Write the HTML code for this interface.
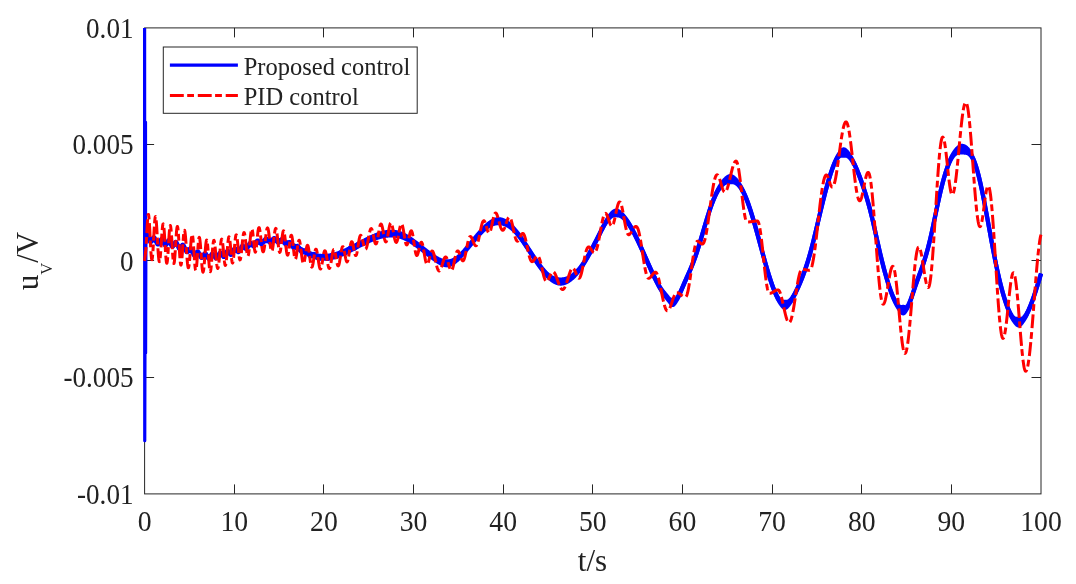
<!DOCTYPE html>
<html><head><meta charset="utf-8"><style>
html,body{margin:0;padding:0;background:#fff;width:1076px;height:584px;overflow:hidden}
svg{display:block;will-change:transform}
text{font-family:"Liberation Serif",serif;fill:#222}
.t{will-change:transform}
</style></head><body>
<svg width="1076" height="584" viewBox="0 0 1076 584">
<defs><clipPath id="c"><rect x="141.6" y="27.9" width="902.40" height="466.00"/></clipPath></defs>
<rect width="1076" height="584" fill="#fff"/>
<rect x="144.6" y="27.9" width="896.40" height="466.00" fill="none" stroke="#262626" stroke-width="1"/><line x1="234.50" y1="493.9" x2="234.50" y2="484.4" stroke="#262626" stroke-width="1"/><line x1="234.50" y1="27.9" x2="234.50" y2="37.4" stroke="#262626" stroke-width="1"/><line x1="323.50" y1="493.9" x2="323.50" y2="484.4" stroke="#262626" stroke-width="1"/><line x1="323.50" y1="27.9" x2="323.50" y2="37.4" stroke="#262626" stroke-width="1"/><line x1="413.50" y1="493.9" x2="413.50" y2="484.4" stroke="#262626" stroke-width="1"/><line x1="413.50" y1="27.9" x2="413.50" y2="37.4" stroke="#262626" stroke-width="1"/><line x1="503.50" y1="493.9" x2="503.50" y2="484.4" stroke="#262626" stroke-width="1"/><line x1="503.50" y1="27.9" x2="503.50" y2="37.4" stroke="#262626" stroke-width="1"/><line x1="592.50" y1="493.9" x2="592.50" y2="484.4" stroke="#262626" stroke-width="1"/><line x1="592.50" y1="27.9" x2="592.50" y2="37.4" stroke="#262626" stroke-width="1"/><line x1="682.50" y1="493.9" x2="682.50" y2="484.4" stroke="#262626" stroke-width="1"/><line x1="682.50" y1="27.9" x2="682.50" y2="37.4" stroke="#262626" stroke-width="1"/><line x1="772.50" y1="493.9" x2="772.50" y2="484.4" stroke="#262626" stroke-width="1"/><line x1="772.50" y1="27.9" x2="772.50" y2="37.4" stroke="#262626" stroke-width="1"/><line x1="861.50" y1="493.9" x2="861.50" y2="484.4" stroke="#262626" stroke-width="1"/><line x1="861.50" y1="27.9" x2="861.50" y2="37.4" stroke="#262626" stroke-width="1"/><line x1="951.50" y1="493.9" x2="951.50" y2="484.4" stroke="#262626" stroke-width="1"/><line x1="951.50" y1="27.9" x2="951.50" y2="37.4" stroke="#262626" stroke-width="1"/><line x1="144.6" y1="144.50" x2="154.1" y2="144.50" stroke="#262626" stroke-width="1"/><line x1="1041.0" y1="144.50" x2="1031.5" y2="144.50" stroke="#262626" stroke-width="1"/><line x1="144.6" y1="260.50" x2="154.1" y2="260.50" stroke="#262626" stroke-width="1"/><line x1="1041.0" y1="260.50" x2="1031.5" y2="260.50" stroke="#262626" stroke-width="1"/><line x1="144.6" y1="377.50" x2="154.1" y2="377.50" stroke="#262626" stroke-width="1"/><line x1="1041.0" y1="377.50" x2="1031.5" y2="377.50" stroke="#262626" stroke-width="1"/>
<g clip-path="url(#c)" fill="none" stroke-linejoin="round">
<path d="M144.60 250.00 L144.60 20.00 L144.75 440.70 L145.50 122.00 L145.60 353.00 L145.90 237.00" stroke="#0000ff" stroke-width="3.2"/>
<path d="M146.00 234.59L146.25 234.27L146.50 234.09L146.75 234.06L147.00 234.19L147.25 234.49L147.50 234.94L147.75 235.53L148.00 236.23L148.25 237.01L148.50 237.84L148.75 238.68L149.00 239.50L149.25 240.26L149.50 240.93L149.75 241.48L150.00 241.90L150.25 242.17L150.50 242.28L150.75 242.23L151.00 242.04L151.25 241.72L151.50 241.29L151.75 240.78L152.00 240.21L152.25 239.62L152.50 239.05L152.75 238.51L153.00 238.05L153.25 237.68L153.50 237.43L153.75 237.30L154.00 237.31L154.25 237.46L154.50 237.73L154.75 238.13L155.00 238.63L155.25 239.22L155.50 239.86L155.75 240.54L156.00 241.23L156.25 241.91L156.50 242.54L156.75 243.11L157.00 243.60L157.25 243.99L157.50 244.27L157.75 244.43L158.00 244.47L158.25 244.38L158.50 244.18L158.75 243.87L159.00 243.47L159.25 242.99L159.50 242.46L159.75 241.89L160.00 241.32L160.25 240.76L160.50 240.24L160.75 239.80L161.00 239.44L161.25 239.18L161.50 239.05L161.75 239.05L162.00 239.19L162.25 239.46L162.50 239.85L162.75 240.36L163.00 240.95L163.25 241.61L163.50 242.30L163.75 242.99L164.00 243.66L164.25 244.26L164.50 244.78L164.75 245.18L165.00 245.46L165.25 245.58L165.50 245.56L165.75 245.40L166.00 245.09L166.25 244.67L166.50 244.15L166.75 243.56L167.00 242.94L167.25 242.31L167.50 241.72L167.75 241.18L168.00 240.74L168.25 240.41L168.50 240.20L168.75 240.15L169.00 240.23L169.25 240.46L169.50 240.83L169.75 241.31L170.00 241.89L170.25 242.53L170.50 243.22L170.75 243.92L171.00 244.60L171.25 245.22L171.50 245.77L171.75 246.21L172.00 246.53L172.25 246.71L172.50 246.75L172.75 246.65L173.00 246.41L173.25 246.06L173.50 245.61L173.75 245.09L174.00 244.53L174.25 243.95L174.50 243.39L174.75 242.88L175.00 242.45L175.25 242.12L175.50 241.91L175.75 241.83L176.00 241.90L176.25 242.11L176.50 242.46L176.75 242.93L177.00 243.51L177.25 244.17L177.50 244.89L177.75 245.63L178.00 246.35L178.25 247.04L178.50 247.65L178.75 248.16L179.00 248.56L179.25 248.82L179.50 248.94L179.75 248.92L180.00 248.77L180.25 248.49L180.50 248.12L180.75 247.66L181.00 247.16L181.25 246.64L181.50 246.13L181.75 245.66L182.00 245.26L182.25 244.95L182.50 244.75L182.75 244.68L183.00 244.73L183.25 244.91L183.50 245.21L183.75 245.62L184.00 246.13L184.25 246.72L184.50 247.37L184.75 248.05L185.00 248.75L185.25 249.43L185.50 250.07L185.75 250.66L186.00 251.18L186.25 251.60L186.50 251.93L186.75 252.15L187.00 252.26L187.25 252.25L187.50 252.14L187.75 251.93L188.00 251.63L188.25 251.27L188.50 250.85L188.75 250.41L189.00 249.96L189.25 249.52L189.50 249.13L189.75 248.79L190.00 248.54L190.25 248.39L190.50 248.34L190.75 248.42L191.00 248.63L191.25 248.96L191.50 249.40L191.75 249.95L192.00 250.58L192.25 251.27L192.50 251.99L192.75 252.71L193.00 253.41L193.25 254.04L193.50 254.59L193.75 255.04L194.00 255.36L194.25 255.54L194.50 255.58L194.75 255.48L195.00 255.26L195.25 254.93L195.50 254.51L195.75 254.03L196.00 253.51L196.25 252.99L196.50 252.51L196.75 252.08L197.00 251.73L197.25 251.49L197.50 251.36L197.75 251.36L198.00 251.48L198.25 251.73L198.50 252.09L198.75 252.56L199.00 253.11L199.25 253.71L199.50 254.35L199.75 255.01L200.00 255.64L200.25 256.24L200.50 256.77L200.75 257.22L201.00 257.57L201.25 257.80L201.50 257.92L201.75 257.91L202.00 257.79L202.25 257.55L202.50 257.21L202.75 256.80L203.00 256.32L203.25 255.81L203.50 255.28L203.75 254.76L204.00 254.29L204.25 253.87L204.50 253.53L204.75 253.30L205.00 253.18L205.25 253.17L205.50 253.29L205.75 253.53L206.00 253.89L206.25 254.34L206.50 254.86L206.75 255.45L207.00 256.05L207.25 256.66L207.50 257.24L207.75 257.76L208.00 258.20L208.25 258.53L208.50 258.75L208.75 258.84L209.00 258.80L209.25 258.62L209.50 258.33L209.75 257.93L210.00 257.45L210.25 256.91L210.50 256.34L210.75 255.76L211.00 255.20L211.25 254.69L211.50 254.25L211.75 253.90L212.00 253.65L212.25 253.52L212.50 253.49L212.75 253.59L213.00 253.78L213.25 254.08L213.50 254.45L213.75 254.89L214.00 255.37L214.25 255.88L214.50 256.39L214.75 256.87L215.00 257.32L215.25 257.71L215.50 258.03L215.75 258.27L216.00 258.40L216.25 258.44L216.50 258.37L216.75 258.21L217.00 257.94L217.25 257.59L217.50 257.16L217.75 256.66L218.00 256.13L218.25 255.57L218.50 255.01L218.75 254.46L219.00 253.95L219.25 253.50L219.50 253.12L219.75 252.83L220.00 252.64L220.25 252.56L220.50 252.59L220.75 252.73L221.00 252.98L221.25 253.31L221.50 253.72L221.75 254.17L222.00 254.66L222.25 255.16L222.50 255.64L222.75 256.07L223.00 256.44L223.25 256.72L223.50 256.89L223.75 256.95L224.00 256.89L224.25 256.72L224.50 256.42L224.75 256.02L225.00 255.53L225.25 254.97L225.50 254.36L225.75 253.74L226.00 253.12L226.25 252.53L226.50 252.00L226.75 251.55L227.00 251.19L227.25 250.94L227.50 250.81L227.75 250.80L228.00 250.90L228.25 251.12L228.50 251.43L228.75 251.82L229.00 252.26L229.25 252.74L229.50 253.22L229.75 253.68L230.00 254.09L230.25 254.42L230.50 254.66L230.75 254.79L231.00 254.81L231.25 254.70L231.50 254.46L231.75 254.12L232.00 253.67L232.25 253.14L232.50 252.56L232.75 251.93L233.00 251.30L233.25 250.68L233.50 250.11L233.75 249.60L234.00 249.17L234.25 248.83L234.50 248.60L234.75 248.48L235.00 248.47L235.25 248.56L235.50 248.75L235.75 249.02L236.00 249.35L236.25 249.74L236.50 250.14L236.75 250.56L237.00 250.96L237.25 251.33L237.50 251.64L237.75 251.89L238.00 252.05L238.25 252.13L238.50 252.10L238.75 251.98L239.00 251.77L239.25 251.46L239.50 251.06L239.75 250.60L240.00 250.08L240.25 249.52L240.50 248.94L240.75 248.36L241.00 247.79L241.25 247.26L241.50 246.78L241.75 246.37L242.00 246.04L242.25 245.80L242.50 245.66L242.75 245.62L243.00 245.67L243.25 245.81L243.50 246.03L243.75 246.32L244.00 246.66L244.25 247.04L244.50 247.43L244.75 247.81L245.00 248.17L245.25 248.50L245.50 248.76L245.75 248.96L246.00 249.08L246.25 249.10L246.50 249.03L246.75 248.86L247.00 248.60L247.25 248.26L247.50 247.83L247.75 247.34L248.00 246.81L248.25 246.24L248.50 245.66L248.75 245.08L249.00 244.54L249.25 244.04L249.50 243.61L249.75 243.26L250.00 242.99L250.25 242.83L250.50 242.78L250.75 242.83L251.00 242.98L251.25 243.23L251.50 243.56L251.75 243.95L252.00 244.38L252.25 244.82L252.50 245.25L252.75 245.64L253.00 245.97L253.25 246.21L253.50 246.35L253.75 246.38L254.00 246.29L254.25 246.08L254.50 245.77L254.75 245.35L255.00 244.86L255.25 244.31L255.50 243.72L255.75 243.13L256.00 242.56L256.25 242.03L256.50 241.55L256.75 241.15L257.00 240.84L257.25 240.62L257.50 240.51L257.75 240.48L258.00 240.55L258.25 240.69L258.50 240.91L258.75 241.19L259.00 241.52L259.25 241.87L259.50 242.24L259.75 242.60L260.00 242.95L260.25 243.28L260.50 243.56L260.75 243.78L261.00 243.95L261.25 244.05L261.50 244.08L261.75 244.03L262.00 243.91L262.25 243.72L262.50 243.46L262.75 243.14L263.00 242.77L263.25 242.36L263.50 241.92L263.75 241.46L264.00 241.00L264.25 240.55L264.50 240.11L264.75 239.72L265.00 239.36L265.25 239.07L265.50 238.84L265.75 238.68L266.00 238.61L266.25 238.61L266.50 238.69L266.75 238.84L267.00 239.07L267.25 239.35L267.50 239.68L267.75 240.04L268.00 240.43L268.25 240.82L268.50 241.21L268.75 241.57L269.00 241.90L269.25 242.17L269.50 242.39L269.75 242.55L270.00 242.63L270.25 242.63L270.50 242.55L270.75 242.40L271.00 242.18L271.25 241.89L271.50 241.55L271.75 241.16L272.00 240.75L272.25 240.32L272.50 239.89L272.75 239.47L273.00 239.09L273.25 238.75L273.50 238.47L273.75 238.26L274.00 238.13L274.25 238.08L274.50 238.11L274.75 238.23L275.00 238.44L275.25 238.71L275.50 239.05L275.75 239.45L276.00 239.88L276.25 240.34L276.50 240.80L276.75 241.24L277.00 241.66L277.25 242.03L277.50 242.34L277.75 242.57L278.00 242.73L278.25 242.80L278.50 242.78L278.75 242.67L279.00 242.49L279.25 242.23L279.50 241.92L279.75 241.57L280.00 241.18L280.25 240.79L280.50 240.41L280.75 240.05L281.00 239.74L281.25 239.49L281.50 239.31L281.75 239.21L282.00 239.19L282.25 239.27L282.50 239.43L282.75 239.68L283.00 240.00L283.25 240.39L283.50 240.84L283.75 241.32L284.00 241.82L284.25 242.33L284.50 242.83L284.75 243.29L285.00 243.71L285.25 244.07L285.50 244.37L285.75 244.58L286.00 244.71L286.25 244.76L286.50 244.73L286.75 244.61L287.00 244.43L287.25 244.20L287.50 243.91L287.75 243.60L288.00 243.28L288.25 242.97L288.50 242.67L288.75 242.42L289.00 242.22L289.25 242.08L289.50 242.02L289.75 242.04L290.00 242.14L290.25 242.33L290.50 242.61L290.75 242.96L291.00 243.37L291.25 243.85L291.50 244.36L291.75 244.89L292.00 245.44L292.25 245.97L292.50 246.47L292.75 246.93L293.00 247.33L293.25 247.66L293.50 247.91L293.75 248.08L294.00 248.17L294.25 248.17L294.50 248.10L294.75 247.96L295.00 247.76L295.25 247.52L295.50 247.25L295.75 246.97L296.00 246.70L296.25 246.44L296.50 246.23L296.75 246.06L297.00 245.95L297.25 245.91L297.50 245.94L297.75 246.05L298.00 246.24L298.25 246.50L298.50 246.83L298.75 247.21L299.00 247.65L299.25 248.12L299.50 248.62L299.75 249.13L300.00 249.64L300.25 250.14L300.50 250.61L300.75 251.03L301.00 251.42L301.25 251.74L301.50 252.00L301.75 252.19L302.00 252.32L302.25 252.37L302.50 252.37L302.75 252.30L303.00 252.17L303.25 252.00L303.50 251.80L303.75 251.57L304.00 251.34L304.25 251.10L304.50 250.87L304.75 250.67L305.00 250.51L305.25 250.39L305.50 250.33L305.75 250.33L306.00 250.39L306.25 250.52L306.50 250.72L306.75 250.98L307.00 251.30L307.25 251.68L307.50 252.10L307.75 252.55L308.00 253.03L308.25 253.51L308.50 253.98L308.75 254.44L309.00 254.87L309.25 255.26L309.50 255.60L309.75 255.87L310.00 256.09L310.25 256.23L310.50 256.30L310.75 256.31L311.00 256.25L311.25 256.13L311.50 255.96L311.75 255.75L312.00 255.51L312.25 255.25L312.50 254.99L312.75 254.73L313.00 254.49L313.25 254.28L313.50 254.11L313.75 253.99L314.00 253.92L314.25 253.91L314.50 253.96L314.75 254.07L315.00 254.24L315.25 254.46L315.50 254.74L315.75 255.06L316.00 255.41L316.25 255.79L316.50 256.18L316.75 256.58L317.00 256.97L317.25 257.34L317.50 257.69L317.75 258.01L318.00 258.28L318.25 258.50L318.50 258.67L318.75 258.78L319.00 258.83L319.25 258.82L319.50 258.76L319.75 258.64L320.00 258.47L320.25 258.26L320.50 258.01L320.75 257.74L321.00 257.44L321.25 257.14L321.50 256.85L321.75 256.56L322.00 256.30L322.25 256.06L322.50 255.86L322.75 255.71L323.00 255.60L323.25 255.55L323.50 255.55L323.75 255.61L324.00 255.71L324.25 255.87L324.50 256.08L324.75 256.32L325.00 256.59L325.25 256.88L325.50 257.18L325.75 257.49L326.00 257.79L326.25 258.07L326.50 258.33L326.75 258.55L327.00 258.73L327.25 258.86L327.50 258.93L327.75 258.95L328.00 258.92L328.25 258.82L328.50 258.67L328.75 258.47L329.00 258.23L329.25 257.94L329.50 257.63L329.75 257.29L330.00 256.93L330.25 256.58L330.50 256.23L330.75 255.89L331.00 255.58L331.25 255.30L331.50 255.06L331.75 254.87L332.00 254.72L332.25 254.63L332.50 254.59L332.75 254.60L333.00 254.66L333.25 254.77L333.50 254.92L333.75 255.10L334.00 255.31L334.25 255.54L334.50 255.78L334.75 256.01L335.00 256.23L335.25 256.44L335.50 256.61L335.75 256.75L336.00 256.85L336.25 256.90L336.50 256.90L336.75 256.84L337.00 256.73L337.25 256.56L337.50 256.35L337.75 256.08L338.00 255.78L338.25 255.44L338.50 255.08L338.75 254.70L339.00 254.31L339.25 253.91L339.50 253.53L339.75 253.17L340.00 252.84L340.25 252.54L340.50 252.28L340.75 252.06L341.00 251.90L341.25 251.78L341.50 251.72L341.75 251.71L342.00 251.74L342.25 251.81L342.50 251.93L342.75 252.07L343.00 252.23L343.25 252.41L343.50 252.60L343.75 252.78L344.00 252.94L344.25 253.08L344.50 253.20L344.75 253.28L345.00 253.31L345.25 253.30L345.50 253.24L345.75 253.12L346.00 252.96L346.25 252.74L346.50 252.48L346.75 252.18L347.00 251.84L347.25 251.47L347.50 251.08L347.75 250.68L348.00 250.27L348.25 249.87L348.50 249.48L348.75 249.11L349.00 248.77L349.25 248.47L349.50 248.21L349.75 247.99L350.00 247.82L350.25 247.70L350.50 247.63L350.75 247.61L351.00 247.63L351.25 247.70L351.50 247.80L351.75 247.92L352.00 248.06L352.25 248.22L352.50 248.37L352.75 248.52L353.00 248.65L353.25 248.75L353.50 248.82L353.75 248.84L354.00 248.83L354.25 248.76L354.50 248.64L354.75 248.48L355.00 248.26L355.25 248.00L355.50 247.70L355.75 247.36L356.00 247.00L356.25 246.61L356.50 246.21L356.75 245.81L357.00 245.42L357.25 245.04L357.50 244.67L357.75 244.34L358.00 244.03L358.25 243.76L358.50 243.53L358.75 243.34L359.00 243.19L359.25 243.08L359.50 243.01L359.75 242.97L360.00 242.97L360.25 242.99L360.50 243.04L360.75 243.10L361.00 243.19L361.25 243.27L361.50 243.37L361.75 243.46L362.00 243.54L362.25 243.62L362.50 243.68L362.75 243.72L363.00 243.74L363.25 243.73L363.50 243.69L363.75 243.63L364.00 243.53L364.25 243.41L364.50 243.26L364.75 243.07L365.00 242.86L365.25 242.62L365.50 242.36L365.75 242.08L366.00 241.78L366.25 241.46L366.50 241.14L366.75 240.81L367.00 240.48L367.25 240.15L367.50 239.83L367.75 239.52L368.00 239.23L368.25 238.96L368.50 238.71L368.75 238.48L369.00 238.29L369.25 238.13L369.50 238.00L369.75 237.90L370.00 237.84L370.25 237.81L370.50 237.81L370.75 237.84L371.00 237.89L371.25 237.96L371.50 238.05L371.75 238.15L372.00 238.26L372.25 238.37L372.50 238.47L372.75 238.56L373.00 238.64L373.25 238.70L373.50 238.73L373.75 238.74L374.00 238.71L374.25 238.66L374.50 238.57L374.75 238.45L375.00 238.30L375.25 238.11L375.50 237.90L375.75 237.66L376.00 237.40L376.25 237.12L376.50 236.83L376.75 236.54L377.00 236.24L377.25 235.95L377.50 235.66L377.75 235.39L378.00 235.14L378.25 234.91L378.50 234.71L378.75 234.53L379.00 234.39L379.25 234.28L379.50 234.20L379.75 234.16L380.00 234.15L380.25 234.17L380.50 234.21L380.75 234.29L381.00 234.38L381.25 234.49L381.50 234.61L381.75 234.74L382.00 234.88L382.25 235.01L382.50 235.14L382.75 235.25L383.00 235.35L383.25 235.43L383.50 235.49L383.75 235.52L384.00 235.52L384.25 235.50L384.50 235.44L384.75 235.36L385.00 235.25L385.25 235.12L385.50 234.96L385.75 234.79L386.00 234.59L386.25 234.39L386.50 234.17L386.75 233.96L387.00 233.74L387.25 233.53L387.50 233.33L387.75 233.14L388.00 232.97L388.25 232.83L388.50 232.70L388.75 232.60L389.00 232.53L389.25 232.49L389.50 232.48L389.75 232.49L390.00 232.54L390.25 232.60L390.50 232.70L390.75 232.81L391.00 232.94L391.25 233.09L391.50 233.25L391.75 233.41L392.00 233.58L392.25 233.76L392.50 233.93L392.75 234.09L393.00 234.25L393.25 234.39L393.50 234.52L393.75 234.63L394.00 234.72L394.25 234.80L394.50 234.85L394.75 234.88L395.00 234.90L395.25 234.89L395.50 234.86L395.75 234.81L396.00 234.75L396.25 234.68L396.50 234.59L396.75 234.49L397.00 234.39L397.25 234.29L397.50 234.19L397.75 234.09L398.00 234.00L398.25 233.93L398.50 233.86L398.75 233.81L399.00 233.79L399.25 233.78L399.50 233.80L399.75 233.84L400.00 233.91L400.25 234.01L400.50 234.13L400.75 234.28L401.00 234.45L401.25 234.64L401.50 234.85L401.75 235.08L402.00 235.32L402.25 235.57L402.50 235.82L402.75 236.08L403.00 236.34L403.25 236.59L403.50 236.83L403.75 237.06L404.00 237.27L404.25 237.47L404.50 237.65L404.75 237.80L405.00 237.94L405.25 238.05L405.50 238.14L405.75 238.21L406.00 238.26L406.25 238.30L406.50 238.32L406.75 238.33L407.00 238.33L407.25 238.32L407.50 238.32L407.75 238.31L408.00 238.32L408.25 238.33L408.50 238.36L408.75 238.40L409.00 238.46L409.25 238.54L409.50 238.65L409.75 238.77L410.00 238.92L410.25 239.09L410.50 239.29L410.75 239.51L411.00 239.74L411.25 240.00L411.50 240.27L411.75 240.56L412.00 240.85L412.25 241.16L412.50 241.47L412.75 241.77L413.00 242.08L413.25 242.37L413.50 242.66L413.75 242.94L414.00 243.20L414.25 243.45L414.50 243.67L414.75 243.88L415.00 244.07L415.25 244.24L415.50 244.39L415.75 244.52L416.00 244.63L416.25 244.73L416.50 244.82L416.75 244.90L417.00 244.97L417.25 245.03L417.50 245.10L417.75 245.16L418.00 245.23L418.25 245.31L418.50 245.40L418.75 245.50L419.00 245.61L419.25 245.74L419.50 245.88L419.75 246.05L420.00 246.23L420.25 246.43L420.50 246.64L420.75 246.88L421.00 247.13L421.25 247.39L421.50 247.67L421.75 247.96L422.00 248.25L422.25 248.56L422.50 248.86L422.75 249.17L423.00 249.48L423.25 249.78L423.50 250.08L423.75 250.37L424.00 250.65L424.25 250.92L424.50 251.18L424.75 251.42L425.00 251.64L425.25 251.85L425.50 252.04L425.75 252.22L426.00 252.39L426.25 252.54L426.50 252.67L426.75 252.80L427.00 252.91L427.25 253.02L427.50 253.12L427.75 253.22L428.00 253.32L428.25 253.41L428.50 253.51L428.75 253.61L429.00 253.72L429.25 253.83L429.50 253.95L429.75 254.08L430.00 254.22L430.25 254.37L430.50 254.53L430.75 254.70L431.00 254.88L431.25 255.07L431.50 255.28L431.75 255.49L432.00 255.71L432.25 255.94L432.50 256.17L432.75 256.41L433.00 256.66L433.25 256.90L433.50 257.15L433.75 257.41L434.00 257.66L434.25 257.90L434.50 258.15L434.75 258.39L435.00 258.63L435.25 258.86L435.50 259.09L435.75 259.31L436.00 259.52L436.25 259.72L436.50 259.92L436.75 260.10L437.00 260.28L437.25 260.44L437.50 260.59L437.75 260.74L438.00 260.87L438.25 261.00L438.50 261.11L438.75 261.22L439.00 261.31L439.25 261.40L439.50 261.48L439.75 261.55L440.00 261.62L440.25 261.68L440.50 261.74L440.75 261.79L441.00 261.83L441.25 261.88L441.50 261.92L441.75 261.96L442.00 262.00L442.25 262.04L442.50 262.09L442.75 262.13L443.00 262.18L443.25 262.23L443.50 262.28L443.75 262.34L444.00 262.40L444.25 262.46L444.50 262.53L444.75 262.60L445.00 262.68L445.25 262.76L445.50 262.84L445.75 262.92L446.00 263.01L446.25 263.09L446.50 263.17L446.75 263.25L447.00 263.33L447.25 263.40L447.50 263.46L447.75 263.51L448.00 263.56L448.25 263.59L448.50 263.61L448.75 263.62L449.00 263.62L449.25 263.60L449.50 263.56L449.75 263.52L450.00 263.45L450.25 263.37L450.50 263.28L450.75 263.17L451.00 263.04L451.25 262.91L451.50 262.76L451.75 262.60L452.00 262.43L452.25 262.25L452.50 262.06L452.75 261.87L453.00 261.67L453.25 261.47L453.50 261.26L453.75 261.06L454.00 260.85L454.25 260.64L454.50 260.44L454.75 260.24L455.00 260.04L455.25 259.85L455.50 259.65L455.75 259.47L456.00 259.28L456.25 259.10L456.50 258.92L456.75 258.75L457.00 258.58L457.25 258.41L457.50 258.24L457.75 258.07L458.00 257.91L458.25 257.74L458.50 257.57L458.75 257.40L459.00 257.22L459.25 257.04L459.50 256.85L459.75 256.66L460.00 256.46L460.25 256.26L460.50 256.04L460.75 255.82L461.00 255.59L461.25 255.35L461.50 255.10L461.75 254.84L462.00 254.57L462.25 254.29L462.50 254.01L462.75 253.71L463.00 253.41L463.25 253.10L463.50 252.79L463.75 252.46L464.00 252.14L464.25 251.81L464.50 251.47L464.75 251.13L465.00 250.79L465.25 250.45L465.50 250.11L465.75 249.78L466.00 249.44L466.25 249.10L466.50 248.77L466.75 248.44L467.00 248.11L467.25 247.79L467.50 247.47L467.75 247.16L468.00 246.85L468.25 246.55L468.50 246.25L468.75 245.96L469.00 245.67L469.25 245.38L469.50 245.10L469.75 244.83L470.00 244.55L470.25 244.28L470.50 244.01L470.75 243.74L471.00 243.47L471.25 243.21L471.50 242.94L471.75 242.67L472.00 242.41L472.25 242.14L472.50 241.87L472.75 241.60L473.00 241.32L473.25 241.04L473.50 240.76L473.75 240.48L474.00 240.19L474.25 239.91L474.50 239.61L474.75 239.32L475.00 239.02L475.25 238.71L475.50 238.41L475.75 238.10L476.00 237.78L476.25 237.47L476.50 237.15L476.75 236.83L477.00 236.51L477.25 236.19L477.50 235.87L477.75 235.55L478.00 235.23L478.25 234.91L478.50 234.59L478.75 234.27L479.00 233.96L479.25 233.64L479.50 233.33L479.75 233.03L480.00 232.73L480.25 232.43L480.50 232.14L480.75 231.86L481.00 231.58L481.25 231.30L481.50 231.03L481.75 230.77L482.00 230.52L482.25 230.27L482.50 230.02L482.75 229.79L483.00 229.56L483.25 229.33L483.50 229.12L483.75 228.90L484.00 228.69L484.25 228.49L484.50 228.29L484.75 228.09L485.00 227.90L485.25 227.71L485.50 227.52L485.75 227.33L486.00 227.14L486.25 226.95L486.50 226.76L486.75 226.58L487.00 226.39L487.25 226.20L487.50 226.01L487.75 225.82L488.00 225.63L488.25 225.43L488.50 225.24L488.75 225.05L489.00 224.85L489.25 224.66L489.50 224.47L489.75 224.28L490.00 224.10L490.25 223.91L490.50 223.73L490.75 223.55L491.00 223.38L491.25 223.21L491.50 223.05L491.75 222.89L492.00 222.74L492.25 222.60L492.50 222.46L492.75 222.33L493.00 222.21L493.25 222.10L493.50 221.99L493.75 221.89L494.00 221.80L494.25 221.71L494.50 221.64L494.75 221.57L495.00 221.51L495.25 221.45L495.50 221.40L495.75 221.36L496.00 221.32L496.25 221.30L496.50 221.27L496.75 221.25L497.00 221.24L497.25 221.23L497.50 221.23L497.75 221.23L498.00 221.23L498.25 221.24L498.50 221.26L498.75 221.27L499.00 221.29L499.25 221.31L499.50 221.34L499.75 221.37L500.00 221.40L500.25 221.43L500.50 221.47L500.75 221.51L501.00 221.55L501.25 221.59L501.50 221.64L501.75 221.69L502.00 221.75L502.25 221.80L502.50 221.86L502.75 221.93L503.00 221.99L503.25 222.06L503.50 222.14L503.75 222.21L504.00 222.30L504.25 222.38L504.50 222.47L504.75 222.57L505.00 222.67L505.25 222.77L505.50 222.88L505.75 223.00L506.00 223.12L506.25 223.24L506.50 223.37L506.75 223.51L507.00 223.65L507.25 223.80L507.50 223.95L507.75 224.11L508.00 224.27L508.25 224.44L508.50 224.62L508.75 224.80L509.00 224.99L509.25 225.18L509.50 225.38L509.75 225.58L510.00 225.79L510.25 226.00L510.50 226.22L510.75 226.44L511.00 226.66L511.25 226.89L511.50 227.13L511.75 227.37L512.00 227.61L512.25 227.85L512.50 228.10L512.75 228.35L513.00 228.61L513.25 228.87L513.50 229.13L513.75 229.39L514.00 229.66L514.25 229.93L514.50 230.20L514.75 230.48L515.00 230.75L515.25 231.03L515.50 231.31L515.75 231.60L516.00 231.88L516.25 232.17L516.50 232.46L516.75 232.76L517.00 233.05L517.25 233.35L517.50 233.65L517.75 233.96L518.00 234.26L518.25 234.57L518.50 234.88L518.75 235.20L519.00 235.52L519.25 235.84L519.50 236.16L519.75 236.49L520.00 236.82L520.25 237.15L520.50 237.48L520.75 237.82L521.00 238.16L521.25 238.51L521.50 238.86L521.75 239.21L522.00 239.56L522.25 239.91L522.50 240.27L522.75 240.63L523.00 240.99L523.25 241.36L523.50 241.73L523.75 242.09L524.00 242.46L524.25 242.84L524.50 243.21L524.75 243.58L525.00 243.96L525.25 244.34L525.50 244.72L525.75 245.10L526.00 245.48L526.25 245.86L526.50 246.24L526.75 246.62L527.00 247.00L527.25 247.39L527.50 247.77L527.75 248.15L528.00 248.54L528.25 248.92L528.50 249.30L528.75 249.69L529.00 250.07L529.25 250.45L529.50 250.84L529.75 251.22L530.00 251.60L530.25 251.98L530.50 252.37L530.75 252.75L531.00 253.13L531.25 253.51L531.50 253.89L531.75 254.27L532.00 254.65L532.25 255.03L532.50 255.41L532.75 255.79L533.00 256.17L533.25 256.54L533.50 256.92L533.75 257.29L534.00 257.67L534.25 258.04L534.50 258.42L534.75 258.79L535.00 259.16L535.25 259.53L535.50 259.90L535.75 260.27L536.00 260.64L536.25 261.01L536.50 261.37L536.75 261.74L537.00 262.10L537.25 262.46L537.50 262.82L537.75 263.18L538.00 263.53L538.25 263.89L538.50 264.24L538.75 264.59L539.00 264.94L539.25 265.29L539.50 265.63L539.75 265.97L540.00 266.31L540.25 266.65L540.50 266.98L540.75 267.32L541.00 267.65L541.25 267.97L541.50 268.30L541.75 268.62L542.00 268.94L542.25 269.25L542.50 269.57L542.75 269.88L543.00 270.19L543.25 270.49L543.50 270.79L543.75 271.09L544.00 271.38L544.25 271.67L544.50 271.96L544.75 272.25L545.00 272.53L545.25 272.81L545.50 273.08L545.75 273.35L546.00 273.62L546.25 273.88L546.50 274.14L546.75 274.39L547.00 274.65L547.25 274.89L547.50 275.14L547.75 275.38L548.00 275.61L548.25 275.84L548.50 276.07L548.75 276.29L549.00 276.51L549.25 276.73L549.50 276.94L549.75 277.14L550.00 277.34L550.25 277.54L550.50 277.73L550.75 277.92L551.00 278.10L551.25 278.27L551.50 278.45L551.75 278.61L552.00 278.78L552.25 278.94L552.50 279.09L552.75 279.24L553.00 279.38L553.25 279.52L553.50 279.65L553.75 279.78L554.00 279.91L554.25 280.03L554.50 280.15L554.75 280.26L555.00 280.36L555.25 280.47L555.50 280.56L555.75 280.66L556.00 280.74L556.25 280.83L556.50 280.91L556.75 280.98L557.00 281.05L557.25 281.12L557.50 281.18L557.75 281.23L558.00 281.28L558.25 281.33L558.50 281.37L558.75 281.41L559.00 281.44L559.25 281.47L559.50 281.50L559.75 281.52L560.00 281.53L560.25 281.54L560.50 281.55L560.75 281.55L561.00 281.55L561.25 281.54L561.50 281.53L561.75 281.51L562.00 281.49L562.25 281.46L562.50 281.43L562.75 281.40L563.00 281.36L563.25 281.32L563.50 281.27L563.75 281.22L564.00 281.16L564.25 281.10L564.50 281.03L564.75 280.96L565.00 280.89L565.25 280.81L565.50 280.73L565.75 280.64L566.00 280.55L566.25 280.45L566.50 280.35L566.75 280.25L567.00 280.14L567.25 280.02L567.50 279.90L567.75 279.78L568.00 279.66L568.25 279.52L568.50 279.39L568.75 279.25L569.00 279.11L569.25 278.96L569.50 278.80L569.75 278.65L570.00 278.49L570.25 278.32L570.50 278.15L570.75 277.98L571.00 277.80L571.25 277.62L571.50 277.43L571.75 277.24L572.00 277.04L572.25 276.84L572.50 276.64L572.75 276.43L573.00 276.22L573.25 276.00L573.50 275.78L573.75 275.56L574.00 275.33L574.25 275.09L574.50 274.85L574.75 274.61L575.00 274.37L575.25 274.12L575.50 273.86L575.75 273.60L576.00 273.34L576.25 273.08L576.50 272.80L576.75 272.53L577.00 272.25L577.25 271.97L577.50 271.68L577.75 271.39L578.00 271.09L578.25 270.79L578.50 270.49L578.75 270.18L579.00 269.87L579.25 269.55L579.50 269.23L579.75 268.91L580.00 268.58L580.25 268.25L580.50 267.91L580.75 267.57L581.00 267.23L581.25 266.88L581.50 266.53L581.75 266.17L582.00 265.81L582.25 265.45L582.50 265.08L582.75 264.71L583.00 264.33L583.25 263.95L583.50 263.57L583.75 263.18L584.00 262.79L584.25 262.40L584.50 262.00L584.75 261.60L585.00 261.20L585.25 260.80L585.50 260.39L585.75 259.97L586.00 259.56L586.25 259.14L586.50 258.72L586.75 258.29L587.00 257.87L587.25 257.44L587.50 257.01L587.75 256.57L588.00 256.13L588.25 255.69L588.50 255.25L588.75 254.80L589.00 254.36L589.25 253.91L589.50 253.45L589.75 253.00L590.00 252.54L590.25 252.08L590.50 251.62L590.75 251.16L591.00 250.70L591.25 250.23L591.50 249.76L591.75 249.29L592.00 248.82L592.25 248.34L592.50 247.87L592.75 247.39L593.00 246.91L593.25 246.43L593.50 245.95L593.75 245.47L594.00 244.98L594.25 244.50L594.50 244.01L594.75 243.52L595.00 243.04L595.25 242.55L595.50 242.06L595.75 241.56L596.00 241.07L596.25 240.58L596.50 240.08L596.75 239.59L597.00 239.09L597.25 238.60L597.50 238.10L597.75 237.60L598.00 237.10L598.25 236.61L598.50 236.11L598.75 235.61L599.00 235.11L599.25 234.61L599.50 234.11L599.75 233.62L600.00 233.12L600.25 232.62L600.50 232.13L600.75 231.63L601.00 231.14L601.25 230.65L601.50 230.16L601.75 229.67L602.00 229.19L602.25 228.71L602.50 228.23L602.75 227.76L603.00 227.29L603.25 226.82L603.50 226.36L603.75 225.90L604.00 225.44L604.25 224.99L604.50 224.54L604.75 224.10L605.00 223.67L605.25 223.24L605.50 222.81L605.75 222.39L606.00 221.98L606.25 221.58L606.50 221.18L606.75 220.78L607.00 220.40L607.25 220.02L607.50 219.65L607.75 219.29L608.00 218.93L608.25 218.58L608.50 218.25L608.75 217.92L609.00 217.59L609.25 217.28L609.50 216.98L609.75 216.69L610.00 216.40L610.25 216.13L610.50 215.87L610.75 215.61L611.00 215.37L611.25 215.14L611.50 214.92L611.75 214.71L612.00 214.51L612.25 214.33L612.50 214.16L612.75 213.99L613.00 213.85L613.25 213.71L613.50 213.58L613.75 213.47L614.00 213.37L614.25 213.27L614.50 213.20L614.75 213.13L615.00 213.07L615.25 213.02L615.50 212.99L615.75 212.96L616.00 212.95L616.25 212.95L616.50 212.95L616.75 212.97L617.00 213.00L617.25 213.04L617.50 213.08L617.75 213.14L618.00 213.21L618.25 213.28L618.50 213.37L618.75 213.47L619.00 213.57L619.25 213.69L619.50 213.81L619.75 213.94L620.00 214.08L620.25 214.23L620.50 214.39L620.75 214.56L621.00 214.73L621.25 214.92L621.50 215.11L621.75 215.31L622.00 215.52L622.25 215.73L622.50 215.96L622.75 216.19L623.00 216.43L623.25 216.67L623.50 216.93L623.75 217.19L624.00 217.46L624.25 217.73L624.50 218.01L624.75 218.30L625.00 218.60L625.25 218.90L625.50 219.21L625.75 219.52L626.00 219.84L626.25 220.17L626.50 220.50L626.75 220.84L627.00 221.18L627.25 221.53L627.50 221.89L627.75 222.25L628.00 222.61L628.25 222.98L628.50 223.36L628.75 223.74L629.00 224.13L629.25 224.53L629.50 224.92L629.75 225.33L630.00 225.73L630.25 226.15L630.50 226.56L630.75 226.99L631.00 227.41L631.25 227.84L631.50 228.28L631.75 228.72L632.00 229.16L632.25 229.61L632.50 230.07L632.75 230.52L633.00 230.98L633.25 231.45L633.50 231.92L633.75 232.39L634.00 232.87L634.25 233.35L634.50 233.83L634.75 234.32L635.00 234.81L635.25 235.30L635.50 235.80L635.75 236.30L636.00 236.80L636.25 237.31L636.50 237.82L636.75 238.33L637.00 238.85L637.25 239.36L637.50 239.88L637.75 240.41L638.00 240.93L638.25 241.46L638.50 241.99L638.75 242.52L639.00 243.06L639.25 243.59L639.50 244.13L639.75 244.67L640.00 245.22L640.25 245.76L640.50 246.31L640.75 246.86L641.00 247.41L641.25 247.96L641.50 248.51L641.75 249.07L642.00 249.62L642.25 250.18L642.50 250.74L642.75 251.29L643.00 251.85L643.25 252.42L643.50 252.98L643.75 253.54L644.00 254.10L644.25 254.67L644.50 255.23L644.75 255.80L645.00 256.36L645.25 256.93L645.50 257.49L645.75 258.06L646.00 258.63L646.25 259.19L646.50 259.76L646.75 260.33L647.00 260.89L647.25 261.46L647.50 262.02L647.75 262.59L648.00 263.15L648.25 263.72L648.50 264.28L648.75 264.84L649.00 265.40L649.25 265.96L649.50 266.52L649.75 267.08L650.00 267.64L650.25 268.20L650.50 268.75L650.75 269.31L651.00 269.86L651.25 270.41L651.50 270.96L651.75 271.51L652.00 272.06L652.25 272.60L652.50 273.14L652.75 273.68L653.00 274.22L653.25 274.75L653.50 275.28L653.75 275.81L654.00 276.34L654.25 276.86L654.50 277.38L654.75 277.90L655.00 278.41L655.25 278.92L655.50 279.42L655.75 279.92L656.00 280.42L656.25 280.91L656.50 281.40L656.75 281.89L657.00 282.37L657.25 282.84L657.50 283.32L657.75 283.78L658.00 284.24L658.25 284.70L658.50 285.15L658.75 285.59L659.00 286.03L659.25 286.47L659.50 286.90L659.75 287.32L660.00 287.73L660.25 288.14L660.50 288.55L660.75 288.95L661.00 289.34L661.25 289.72L661.50 290.10L661.75 290.47L662.00 290.83L662.25 291.19L662.50 291.54L662.75 291.89L663.00 292.23L663.25 292.56L663.50 292.89L663.75 293.22L664.00 293.54L664.25 293.86L664.50 294.17L664.75 294.49L665.00 294.80L665.25 295.11L665.50 295.42L665.75 295.72L666.00 296.03L666.25 296.34L666.50 296.64L666.75 296.95L667.00 297.26L667.25 297.57L667.50 297.88L667.75 298.19L668.00 298.50L668.25 298.81L668.50 299.12L668.75 299.41L669.00 299.71L669.25 299.99L669.50 300.26L669.75 300.52L670.00 300.77L670.25 301.01L670.50 301.23L670.75 301.44L671.00 301.62L671.25 301.79L671.50 301.94L671.75 302.06L672.00 302.16L672.25 302.24L672.50 302.29L672.75 302.31L673.00 302.30L673.25 302.27L673.50 302.20L673.75 302.11L674.00 301.99L674.25 301.85L674.50 301.68L674.75 301.49L675.00 301.27L675.25 301.03L675.50 300.77L675.75 300.48L676.00 300.18L676.25 299.85L676.50 299.51L676.75 299.15L677.00 298.77L677.25 298.37L677.50 297.96L677.75 297.53L678.00 297.09L678.25 296.63L678.50 296.16L678.75 295.67L679.00 295.18L679.25 294.67L679.50 294.15L679.75 293.63L680.00 293.09L680.25 292.55L680.50 292.00L680.75 291.44L681.00 290.87L681.25 290.30L681.50 289.73L681.75 289.15L682.00 288.57L682.25 287.99L682.50 287.40L682.75 286.82L683.00 286.23L683.25 285.65L683.50 285.06L683.75 284.48L684.00 283.90L684.25 283.32L684.50 282.75L684.75 282.18L685.00 281.61L685.25 281.05L685.50 280.48L685.75 279.92L686.00 279.36L686.25 278.80L686.50 278.24L686.75 277.68L687.00 277.12L687.25 276.56L687.50 276.00L687.75 275.44L688.00 274.87L688.25 274.31L688.50 273.75L688.75 273.18L689.00 272.61L689.25 272.04L689.50 271.47L689.75 270.89L690.00 270.31L690.25 269.73L690.50 269.15L690.75 268.56L691.00 267.96L691.25 267.36L691.50 266.76L691.75 266.15L692.00 265.54L692.25 264.92L692.50 264.29L692.75 263.66L693.00 263.02L693.25 262.38L693.50 261.72L693.75 261.06L694.00 260.40L694.25 259.72L694.50 259.04L694.75 258.35L695.00 257.65L695.25 256.94L695.50 256.23L695.75 255.50L696.00 254.77L696.25 254.03L696.50 253.28L696.75 252.52L697.00 251.76L697.25 250.99L697.50 250.21L697.75 249.43L698.00 248.64L698.25 247.84L698.50 247.04L698.75 246.24L699.00 245.43L699.25 244.61L699.50 243.79L699.75 242.97L700.00 242.14L700.25 241.31L700.50 240.48L700.75 239.64L701.00 238.80L701.25 237.96L701.50 237.12L701.75 236.27L702.00 235.42L702.25 234.58L702.50 233.73L702.75 232.88L703.00 232.03L703.25 231.18L703.50 230.33L703.75 229.48L704.00 228.63L704.25 227.78L704.50 226.94L704.75 226.09L705.00 225.25L705.25 224.41L705.50 223.57L705.75 222.74L706.00 221.91L706.25 221.08L706.50 220.26L706.75 219.43L707.00 218.62L707.25 217.81L707.50 217.00L707.75 216.20L708.00 215.40L708.25 214.61L708.50 213.82L708.75 213.04L709.00 212.27L709.25 211.50L709.50 210.74L709.75 209.99L710.00 209.25L710.25 208.51L710.50 207.78L710.75 207.06L711.00 206.35L711.25 205.65L711.50 204.96L711.75 204.27L712.00 203.60L712.25 202.93L712.50 202.28L712.75 201.63L713.00 200.99L713.25 200.37L713.50 199.75L713.75 199.14L714.00 198.54L714.25 197.95L714.50 197.37L714.75 196.80L715.00 196.24L715.25 195.68L715.50 195.14L715.75 194.61L716.00 194.08L716.25 193.56L716.50 193.06L716.75 192.56L717.00 192.07L717.25 191.59L717.50 191.12L717.75 190.66L718.00 190.21L718.25 189.76L718.50 189.33L718.75 188.91L719.00 188.49L719.25 188.08L719.50 187.69L719.75 187.30L720.00 186.92L720.25 186.55L720.50 186.19L720.75 185.83L721.00 185.49L721.25 185.15L721.50 184.83L721.75 184.51L722.00 184.20L722.25 183.91L722.50 183.62L722.75 183.33L723.00 183.06L723.25 182.80L723.50 182.54L723.75 182.30L724.00 182.06L724.25 181.83L724.50 181.61L724.75 181.40L725.00 181.20L725.25 181.01L725.50 180.83L725.75 180.66L726.00 180.49L726.25 180.34L726.50 180.19L726.75 180.05L727.00 179.92L727.25 179.80L727.50 179.69L727.75 179.59L728.00 179.50L728.25 179.42L728.50 179.35L728.75 179.28L729.00 179.23L729.25 179.18L729.50 179.15L729.75 179.12L730.00 179.10L730.25 179.09L730.50 179.09L730.75 179.10L731.00 179.12L731.25 179.15L731.50 179.19L731.75 179.24L732.00 179.29L732.25 179.36L732.50 179.44L732.75 179.52L733.00 179.62L733.25 179.72L733.50 179.83L733.75 179.96L734.00 180.09L734.25 180.23L734.50 180.38L734.75 180.54L735.00 180.71L735.25 180.89L735.50 181.08L735.75 181.28L736.00 181.49L736.25 181.71L736.50 181.94L736.75 182.18L737.00 182.42L737.25 182.68L737.50 182.95L737.75 183.22L738.00 183.51L738.25 183.81L738.50 184.11L738.75 184.43L739.00 184.75L739.25 185.09L739.50 185.43L739.75 185.79L740.00 186.15L740.25 186.52L740.50 186.91L740.75 187.30L741.00 187.71L741.25 188.12L741.50 188.54L741.75 188.98L742.00 189.42L742.25 189.87L742.50 190.34L742.75 190.81L743.00 191.29L743.25 191.79L743.50 192.29L743.75 192.80L744.00 193.33L744.25 193.86L744.50 194.40L744.75 194.96L745.00 195.52L745.25 196.10L745.50 196.68L745.75 197.27L746.00 197.88L746.25 198.49L746.50 199.12L746.75 199.75L747.00 200.40L747.25 201.05L747.50 201.72L747.75 202.39L748.00 203.08L748.25 203.77L748.50 204.48L748.75 205.19L749.00 205.91L749.25 206.64L749.50 207.38L749.75 208.13L750.00 208.88L750.25 209.65L750.50 210.42L750.75 211.20L751.00 211.98L751.25 212.78L751.50 213.58L751.75 214.38L752.00 215.20L752.25 216.02L752.50 216.84L752.75 217.68L753.00 218.52L753.25 219.36L753.50 220.21L753.75 221.06L754.00 221.92L754.25 222.79L754.50 223.66L754.75 224.53L755.00 225.41L755.25 226.29L755.50 227.18L755.75 228.07L756.00 228.96L756.25 229.86L756.50 230.76L756.75 231.66L757.00 232.56L757.25 233.47L757.50 234.38L757.75 235.29L758.00 236.21L758.25 237.12L758.50 238.04L758.75 238.96L759.00 239.88L759.25 240.80L759.50 241.72L759.75 242.64L760.00 243.56L760.25 244.49L760.50 245.41L760.75 246.33L761.00 247.26L761.25 248.18L761.50 249.10L761.75 250.02L762.00 250.94L762.25 251.85L762.50 252.77L762.75 253.68L763.00 254.59L763.25 255.50L763.50 256.41L763.75 257.32L764.00 258.22L764.25 259.12L764.50 260.01L764.75 260.91L765.00 261.80L765.25 262.68L765.50 263.56L765.75 264.44L766.00 265.31L766.25 266.18L766.50 267.05L766.75 267.91L767.00 268.76L767.25 269.61L767.50 270.45L767.75 271.29L768.00 272.12L768.25 272.95L768.50 273.77L768.75 274.58L769.00 275.39L769.25 276.19L769.50 276.98L769.75 277.77L770.00 278.55L770.25 279.32L770.50 280.08L770.75 280.83L771.00 281.58L771.25 282.32L771.50 283.05L771.75 283.77L772.00 284.48L772.25 285.19L772.50 285.88L772.75 286.56L773.00 287.24L773.25 287.90L773.50 288.56L773.75 289.20L774.00 289.84L774.25 290.46L774.50 291.08L774.75 291.68L775.00 292.27L775.25 292.85L775.50 293.42L775.75 293.98L776.00 294.52L776.25 295.06L776.50 295.58L776.75 296.09L777.00 296.58L777.25 297.07L777.50 297.54L777.75 298.00L778.00 298.44L778.25 298.87L778.50 299.29L778.75 299.70L779.00 300.09L779.25 300.46L779.50 300.82L779.75 301.17L780.00 301.50L780.25 301.82L780.50 302.12L780.75 302.41L781.00 302.68L781.25 302.94L781.50 303.18L781.75 303.41L782.00 303.61L782.25 303.81L782.50 303.98L782.75 304.14L783.00 304.29L783.25 304.41L783.50 304.52L783.75 304.61L784.00 304.68L784.25 304.74L784.50 304.78L784.75 304.80L785.00 304.80L785.25 304.79L785.50 304.76L785.75 304.71L786.00 304.65L786.25 304.57L786.50 304.47L786.75 304.36L787.00 304.23L787.25 304.09L787.50 303.94L787.75 303.77L788.00 303.58L788.25 303.38L788.50 303.17L788.75 302.94L789.00 302.70L789.25 302.45L789.50 302.19L789.75 301.91L790.00 301.62L790.25 301.32L790.50 301.00L790.75 300.68L791.00 300.34L791.25 299.99L791.50 299.64L791.75 299.27L792.00 298.89L792.25 298.50L792.50 298.10L792.75 297.69L793.00 297.28L793.25 296.85L793.50 296.42L793.75 295.97L794.00 295.52L794.25 295.06L794.50 294.60L794.75 294.12L795.00 293.64L795.25 293.15L795.50 292.66L795.75 292.16L796.00 291.65L796.25 291.14L796.50 290.62L796.75 290.10L797.00 289.57L797.25 289.03L797.50 288.49L797.75 287.95L798.00 287.40L798.25 286.85L798.50 286.30L798.75 285.74L799.00 285.17L799.25 284.60L799.50 284.03L799.75 283.45L800.00 282.87L800.25 282.28L800.50 281.69L800.75 281.09L801.00 280.49L801.25 279.88L801.50 279.26L801.75 278.64L802.00 278.01L802.25 277.38L802.50 276.74L802.75 276.10L803.00 275.44L803.25 274.79L803.50 274.12L803.75 273.45L804.00 272.77L804.25 272.08L804.50 271.39L804.75 270.69L805.00 269.98L805.25 269.26L805.50 268.54L805.75 267.81L806.00 267.07L806.25 266.32L806.50 265.56L806.75 264.80L807.00 264.02L807.25 263.24L807.50 262.45L807.75 261.65L808.00 260.84L808.25 260.02L808.50 259.19L808.75 258.36L809.00 257.51L809.25 256.65L809.50 255.79L809.75 254.91L810.00 254.03L810.25 253.13L810.50 252.22L810.75 251.30L811.00 250.38L811.25 249.44L811.50 248.49L811.75 247.54L812.00 246.58L812.25 245.61L812.50 244.63L812.75 243.64L813.00 242.65L813.25 241.65L813.50 240.65L813.75 239.63L814.00 238.62L814.25 237.60L814.50 236.57L814.75 235.54L815.00 234.50L815.25 233.46L815.50 232.42L815.75 231.37L816.00 230.33L816.25 229.27L816.50 228.22L816.75 227.17L817.00 226.11L817.25 225.05L817.50 224.00L817.75 222.94L818.00 221.88L818.25 220.83L818.50 219.77L818.75 218.71L819.00 217.66L819.25 216.61L819.50 215.56L819.75 214.51L820.00 213.47L820.25 212.42L820.50 211.38L820.75 210.34L821.00 209.31L821.25 208.28L821.50 207.25L821.75 206.23L822.00 205.21L822.25 204.19L822.50 203.18L822.75 202.17L823.00 201.17L823.25 200.17L823.50 199.18L823.75 198.19L824.00 197.20L824.25 196.23L824.50 195.26L824.75 194.29L825.00 193.33L825.25 192.38L825.50 191.43L825.75 190.49L826.00 189.56L826.25 188.63L826.50 187.71L826.75 186.80L827.00 185.90L827.25 185.00L827.50 184.11L827.75 183.23L828.00 182.36L828.25 181.50L828.50 180.65L828.75 179.80L829.00 178.97L829.25 178.14L829.50 177.32L829.75 176.52L830.00 175.72L830.25 174.93L830.50 174.16L830.75 173.39L831.00 172.64L831.25 171.89L831.50 171.16L831.75 170.44L832.00 169.73L832.25 169.03L832.50 168.34L832.75 167.67L833.00 167.01L833.25 166.36L833.50 165.72L833.75 165.10L834.00 164.49L834.25 163.89L834.50 163.30L834.75 162.73L835.00 162.18L835.25 161.63L835.50 161.11L835.75 160.59L836.00 160.09L836.25 159.61L836.50 159.14L836.75 158.68L837.00 158.24L837.25 157.82L837.50 157.41L837.75 157.02L838.00 156.64L838.25 156.28L838.50 155.94L838.75 155.62L839.00 155.31L839.25 155.01L839.50 154.74L839.75 154.48L840.00 154.24L840.25 154.01L840.50 153.81L840.75 153.62L841.00 153.44L841.25 153.28L841.50 153.14L841.75 153.01L842.00 152.90L842.25 152.81L842.50 152.73L842.75 152.67L843.00 152.62L843.25 152.58L843.50 152.57L843.75 152.56L844.00 152.57L844.25 152.60L844.50 152.64L844.75 152.69L845.00 152.76L845.25 152.85L845.50 152.94L845.75 153.05L846.00 153.18L846.25 153.32L846.50 153.47L846.75 153.63L847.00 153.81L847.25 154.00L847.50 154.20L847.75 154.42L848.00 154.65L848.25 154.89L848.50 155.14L848.75 155.41L849.00 155.68L849.25 155.97L849.50 156.27L849.75 156.58L850.00 156.91L850.25 157.24L850.50 157.59L850.75 157.95L851.00 158.32L851.25 158.69L851.50 159.08L851.75 159.48L852.00 159.89L852.25 160.31L852.50 160.75L852.75 161.19L853.00 161.64L853.25 162.10L853.50 162.57L853.75 163.04L854.00 163.53L854.25 164.03L854.50 164.54L854.75 165.05L855.00 165.57L855.25 166.11L855.50 166.65L855.75 167.20L856.00 167.75L856.25 168.32L856.50 168.89L856.75 169.47L857.00 170.06L857.25 170.65L857.50 171.26L857.75 171.87L858.00 172.48L858.25 173.11L858.50 173.74L858.75 174.38L859.00 175.02L859.25 175.67L859.50 176.33L859.75 176.99L860.00 177.66L860.25 178.33L860.50 179.01L860.75 179.70L861.00 180.39L861.25 181.08L861.50 181.78L861.75 182.49L862.00 183.20L862.25 183.92L862.50 184.64L862.75 185.37L863.00 186.10L863.25 186.84L863.50 187.58L863.75 188.33L864.00 189.09L864.25 189.86L864.50 190.63L864.75 191.40L865.00 192.19L865.25 192.98L865.50 193.78L865.75 194.58L866.00 195.39L866.25 196.21L866.50 197.04L866.75 197.88L867.00 198.72L867.25 199.57L867.50 200.43L867.75 201.30L868.00 202.18L868.25 203.07L868.50 203.96L868.75 204.87L869.00 205.78L869.25 206.70L869.50 207.64L869.75 208.58L870.00 209.53L870.25 210.49L870.50 211.46L870.75 212.45L871.00 213.44L871.25 214.44L871.50 215.46L871.75 216.48L872.00 217.52L872.25 218.56L872.50 219.62L872.75 220.68L873.00 221.76L873.25 222.84L873.50 223.93L873.75 225.02L874.00 226.12L874.25 227.23L874.50 228.34L874.75 229.46L875.00 230.58L875.25 231.70L875.50 232.83L875.75 233.96L876.00 235.09L876.25 236.22L876.50 237.35L876.75 238.47L877.00 239.60L877.25 240.73L877.50 241.85L877.75 242.97L878.00 244.08L878.25 245.20L878.50 246.30L878.75 247.40L879.00 248.50L879.25 249.59L879.50 250.67L879.75 251.74L880.00 252.81L880.25 253.87L880.50 254.92L880.75 255.97L881.00 257.01L881.25 258.04L881.50 259.06L881.75 260.08L882.00 261.09L882.25 262.09L882.50 263.08L882.75 264.07L883.00 265.05L883.25 266.02L883.50 266.98L883.75 267.93L884.00 268.88L884.25 269.82L884.50 270.75L884.75 271.67L885.00 272.58L885.25 273.48L885.50 274.38L885.75 275.26L886.00 276.14L886.25 277.01L886.50 277.87L886.75 278.72L887.00 279.56L887.25 280.39L887.50 281.21L887.75 282.03L888.00 282.83L888.25 283.63L888.50 284.41L888.75 285.18L889.00 285.95L889.25 286.70L889.50 287.45L889.75 288.18L890.00 288.91L890.25 289.62L890.50 290.33L890.75 291.02L891.00 291.71L891.25 292.38L891.50 293.04L891.75 293.69L892.00 294.33L892.25 294.96L892.50 295.58L892.75 296.19L893.00 296.79L893.25 297.38L893.50 297.95L893.75 298.51L894.00 299.07L894.25 299.61L894.50 300.13L894.75 300.65L895.00 301.16L895.25 301.65L895.50 302.13L895.75 302.60L896.00 303.06L896.25 303.51L896.50 303.94L896.75 304.36L897.00 304.77L897.25 305.17L897.50 305.55L897.75 305.92L898.00 306.28L898.25 306.62L898.50 306.95L898.75 307.27L899.00 307.57L899.25 307.85L899.50 308.12L899.75 308.38L900.00 308.62L900.25 308.84L900.50 309.05L900.75 309.24L901.00 309.41L901.25 309.56L901.50 309.70L901.75 309.82L902.00 309.92L902.25 310.00L902.50 310.06L902.75 310.10L903.00 310.13L903.25 310.13L903.50 310.11L903.75 310.07L904.00 310.01L904.25 309.93L904.50 309.83L904.75 309.70L905.00 309.56L905.25 309.39L905.50 309.19L905.75 308.98L906.00 308.74L906.25 308.47L906.50 308.18L906.75 307.87L907.00 307.53L907.25 307.17L907.50 306.78L907.75 306.37L908.00 305.92L908.25 305.46L908.50 304.96L908.75 304.45L909.00 303.91L909.25 303.34L909.50 302.76L909.75 302.16L910.00 301.54L910.25 300.90L910.50 300.25L910.75 299.58L911.00 298.89L911.25 298.20L911.50 297.49L911.75 296.77L912.00 296.05L912.25 295.31L912.50 294.57L912.75 293.83L913.00 293.08L913.25 292.32L913.50 291.57L913.75 290.81L914.00 290.05L914.25 289.30L914.50 288.55L914.75 287.80L915.00 287.05L915.25 286.32L915.50 285.59L915.75 284.86L916.00 284.15L916.25 283.44L916.50 282.73L916.75 282.03L917.00 281.34L917.25 280.65L917.50 279.96L917.75 279.27L918.00 278.59L918.25 277.91L918.50 277.23L918.75 276.56L919.00 275.88L919.25 275.20L919.50 274.52L919.75 273.85L920.00 273.17L920.25 272.48L920.50 271.80L920.75 271.11L921.00 270.42L921.25 269.72L921.50 269.02L921.75 268.32L922.00 267.61L922.25 266.89L922.50 266.17L922.75 265.44L923.00 264.70L923.25 263.95L923.50 263.20L923.75 262.43L924.00 261.66L924.25 260.88L924.50 260.09L924.75 259.30L925.00 258.49L925.25 257.67L925.50 256.84L925.75 256.01L926.00 255.16L926.25 254.30L926.50 253.43L926.75 252.55L927.00 251.65L927.25 250.75L927.50 249.83L927.75 248.90L928.00 247.96L928.25 247.00L928.50 246.04L928.75 245.05L929.00 244.06L929.25 243.05L929.50 242.03L929.75 240.99L930.00 239.94L930.25 238.87L930.50 237.79L930.75 236.71L931.00 235.60L931.25 234.49L931.50 233.37L931.75 232.24L932.00 231.10L932.25 229.95L932.50 228.80L932.75 227.63L933.00 226.47L933.25 225.29L933.50 224.11L933.75 222.93L934.00 221.74L934.25 220.55L934.50 219.36L934.75 218.16L935.00 216.97L935.25 215.77L935.50 214.57L935.75 213.38L936.00 212.18L936.25 210.99L936.50 209.80L936.75 208.61L937.00 207.43L937.25 206.25L937.50 205.07L937.75 203.91L938.00 202.74L938.25 201.59L938.50 200.44L938.75 199.30L939.00 198.17L939.25 197.05L939.50 195.94L939.75 194.84L940.00 193.75L940.25 192.67L940.50 191.61L940.75 190.56L941.00 189.52L941.25 188.49L941.50 187.47L941.75 186.47L942.00 185.48L942.25 184.50L942.50 183.54L942.75 182.59L943.00 181.65L943.25 180.72L943.50 179.81L943.75 178.91L944.00 178.02L944.25 177.15L944.50 176.29L944.75 175.44L945.00 174.61L945.25 173.78L945.50 172.98L945.75 172.18L946.00 171.40L946.25 170.63L946.50 169.88L946.75 169.14L947.00 168.42L947.25 167.70L947.50 167.00L947.75 166.32L948.00 165.65L948.25 164.99L948.50 164.35L948.75 163.72L949.00 163.11L949.25 162.51L949.50 161.92L949.75 161.35L950.00 160.79L950.25 160.25L950.50 159.72L950.75 159.21L951.00 158.71L951.25 158.23L951.50 157.76L951.75 157.30L952.00 156.86L952.25 156.44L952.50 156.02L952.75 155.63L953.00 155.24L953.25 154.87L953.50 154.52L953.75 154.17L954.00 153.84L954.25 153.53L954.50 153.22L954.75 152.93L955.00 152.65L955.25 152.38L955.50 152.13L955.75 151.89L956.00 151.65L956.25 151.43L956.50 151.23L956.75 151.03L957.00 150.84L957.25 150.67L957.50 150.50L957.75 150.35L958.00 150.21L958.25 150.07L958.50 149.95L958.75 149.83L959.00 149.73L959.25 149.64L959.50 149.55L959.75 149.47L960.00 149.41L960.25 149.35L960.50 149.30L960.75 149.26L961.00 149.23L961.25 149.20L961.50 149.18L961.75 149.17L962.00 149.17L962.25 149.18L962.50 149.19L962.75 149.21L963.00 149.24L963.25 149.27L963.50 149.31L963.75 149.36L964.00 149.41L964.25 149.47L964.50 149.54L964.75 149.61L965.00 149.70L965.25 149.79L965.50 149.89L965.75 150.00L966.00 150.12L966.25 150.25L966.50 150.39L966.75 150.53L967.00 150.69L967.25 150.86L967.50 151.05L967.75 151.24L968.00 151.45L968.25 151.66L968.50 151.90L968.75 152.14L969.00 152.40L969.25 152.67L969.50 152.95L969.75 153.25L970.00 153.57L970.25 153.90L970.50 154.24L970.75 154.60L971.00 154.98L971.25 155.37L971.50 155.78L971.75 156.21L972.00 156.65L972.25 157.12L972.50 157.60L972.75 158.10L973.00 158.61L973.25 159.15L973.50 159.71L973.75 160.28L974.00 160.88L974.25 161.50L974.50 162.13L974.75 162.79L975.00 163.47L975.25 164.17L975.50 164.90L975.75 165.64L976.00 166.41L976.25 167.20L976.50 168.02L976.75 168.85L977.00 169.71L977.25 170.59L977.50 171.49L977.75 172.40L978.00 173.34L978.25 174.30L978.50 175.27L978.75 176.27L979.00 177.28L979.25 178.30L979.50 179.35L979.75 180.41L980.00 181.49L980.25 182.58L980.50 183.69L980.75 184.82L981.00 185.95L981.25 187.11L981.50 188.27L981.75 189.45L982.00 190.64L982.25 191.84L982.50 193.06L982.75 194.29L983.00 195.52L983.25 196.77L983.50 198.03L983.75 199.30L984.00 200.57L984.25 201.86L984.50 203.15L984.75 204.45L985.00 205.76L985.25 207.08L985.50 208.40L985.75 209.73L986.00 211.06L986.25 212.40L986.50 213.75L986.75 215.10L987.00 216.45L987.25 217.81L987.50 219.17L987.75 220.53L988.00 221.89L988.25 223.26L988.50 224.63L988.75 226.00L989.00 227.37L989.25 228.74L989.50 230.11L989.75 231.48L990.00 232.84L990.25 234.21L990.50 235.57L990.75 236.94L991.00 238.29L991.25 239.65L991.50 241.00L991.75 242.35L992.00 243.69L992.25 245.03L992.50 246.36L992.75 247.69L993.00 249.01L993.25 250.32L993.50 251.63L993.75 252.93L994.00 254.22L994.25 255.50L994.50 256.77L994.75 258.04L995.00 259.29L995.25 260.54L995.50 261.77L995.75 262.99L996.00 264.20L996.25 265.40L996.50 266.59L996.75 267.77L997.00 268.94L997.25 270.10L997.50 271.24L997.75 272.38L998.00 273.50L998.25 274.61L998.50 275.71L998.75 276.80L999.00 277.88L999.25 278.95L999.50 280.00L999.75 281.04L1000.00 282.07L1000.25 283.09L1000.50 284.10L1000.75 285.10L1001.00 286.08L1001.25 287.05L1001.50 288.01L1001.75 288.96L1002.00 289.90L1002.25 290.82L1002.50 291.73L1002.75 292.63L1003.00 293.52L1003.25 294.39L1003.50 295.25L1003.75 296.10L1004.00 296.94L1004.25 297.76L1004.50 298.57L1004.75 299.37L1005.00 300.16L1005.25 300.93L1005.50 301.69L1005.75 302.44L1006.00 303.17L1006.25 303.89L1006.50 304.60L1006.75 305.30L1007.00 305.98L1007.25 306.65L1007.50 307.30L1007.75 307.94L1008.00 308.57L1008.25 309.19L1008.50 309.79L1008.75 310.38L1009.00 310.95L1009.25 311.51L1009.50 312.06L1009.75 312.59L1010.00 313.11L1010.25 313.61L1010.50 314.10L1010.75 314.58L1011.00 315.04L1011.25 315.49L1011.50 315.93L1011.75 316.35L1012.00 316.75L1012.25 317.14L1012.50 317.52L1012.75 317.88L1013.00 318.23L1013.25 318.57L1013.50 318.89L1013.75 319.19L1014.00 319.48L1014.25 319.75L1014.50 320.01L1014.75 320.26L1015.00 320.49L1015.25 320.70L1015.50 320.90L1015.75 321.09L1016.00 321.26L1016.25 321.41L1016.50 321.55L1016.75 321.67L1017.00 321.78L1017.25 321.88L1017.50 321.95L1017.75 322.01L1018.00 322.06L1018.25 322.09L1018.50 322.11L1018.75 322.11L1019.00 322.09L1019.25 322.06L1019.50 322.01L1019.75 321.94L1020.00 321.86L1020.25 321.76L1020.50 321.65L1020.75 321.52L1021.00 321.38L1021.25 321.22L1021.50 321.04L1021.75 320.85L1022.00 320.64L1022.25 320.41L1022.50 320.17L1022.75 319.92L1023.00 319.65L1023.25 319.37L1023.50 319.07L1023.75 318.76L1024.00 318.43L1024.25 318.10L1024.50 317.74L1024.75 317.38L1025.00 317.00L1025.25 316.60L1025.50 316.20L1025.75 315.78L1026.00 315.35L1026.25 314.91L1026.50 314.45L1026.75 313.98L1027.00 313.50L1027.25 313.01L1027.50 312.51L1027.75 312.00L1028.00 311.47L1028.25 310.94L1028.50 310.39L1028.75 309.84L1029.00 309.27L1029.25 308.70L1029.50 308.11L1029.75 307.51L1030.00 306.91L1030.25 306.29L1030.50 305.67L1030.75 305.04L1031.00 304.40L1031.25 303.75L1031.50 303.09L1031.75 302.42L1032.00 301.74L1032.25 301.06L1032.50 300.37L1032.75 299.67L1033.00 298.97L1033.25 298.26L1033.50 297.54L1033.75 296.81L1034.00 296.08L1034.25 295.34L1034.50 294.60L1034.75 293.84L1035.00 293.09L1035.25 292.33L1035.50 291.56L1035.75 290.78L1036.00 290.01L1036.25 289.22L1036.50 288.44L1036.75 287.64L1037.00 286.85L1037.25 286.05L1037.50 285.24L1037.75 284.43L1038.00 283.62L1038.25 282.81L1038.50 281.99L1038.75 281.17L1039.00 280.34L1039.25 279.52L1039.50 278.69L1039.75 277.86L1040.00 277.02L1040.25 276.19L1040.50 275.35L1040.75 274.51L1041.00 273.67L1041.00 273.67" stroke="#0000ff" stroke-width="4.2"/>
<path d="M146.00 236.75L146.25 236.91L146.50 237.07L146.75 237.22L147.00 237.37L147.25 237.52L147.50 237.66L147.75 237.80L148.00 237.93L148.25 238.07L148.50 238.20L148.75 238.33L149.00 238.45L149.25 238.57L149.50 238.69L149.75 238.81L150.00 238.92L150.25 239.04L150.50 239.14L150.75 239.25L151.00 239.35L151.25 239.46L151.50 239.55L151.75 239.65L152.00 239.74L152.25 239.84L152.50 239.93L152.75 240.01L153.00 240.10L153.25 240.18L153.50 240.26L153.75 240.34L154.00 240.42L154.25 240.49L154.50 240.57L154.75 240.64L155.00 240.71L155.25 240.78L155.50 240.84L155.75 240.91L156.00 240.97L156.25 241.03L156.50 241.09L156.75 241.15L157.00 241.21L157.25 241.26L157.50 241.32L157.75 241.37L158.00 241.42L158.25 241.47L158.50 241.52L158.75 241.57L159.00 241.62L159.25 241.67L159.50 241.71L159.75 241.75L160.00 241.80L160.25 241.84L160.50 241.88L160.75 241.92L161.00 241.96L161.25 242.00L161.50 242.04L161.75 242.08L162.00 242.12L162.25 242.16L162.50 242.19L162.75 242.23L163.00 242.27L163.25 242.30L163.50 242.34L163.75 242.37L164.00 242.41L164.25 242.45L164.50 242.48L164.75 242.52L165.00 242.55L165.25 242.59L165.50 242.62L165.75 242.66L166.00 242.69L166.25 242.73L166.50 242.77L166.75 242.80L167.00 242.84L167.25 242.88L167.50 242.91L167.75 242.95L168.00 242.99L168.25 243.03L168.50 243.07L168.75 243.11L169.00 243.15L169.25 243.20L169.50 243.24L169.75 243.28L170.00 243.33L170.25 243.37L170.50 243.42L170.75 243.47L171.00 243.52L171.25 243.57L171.50 243.62L171.75 243.67L172.00 243.72L172.25 243.78L172.50 243.84L172.75 243.89L173.00 243.95L173.25 244.01L173.50 244.08L173.75 244.14L174.00 244.21L174.25 244.27L174.50 244.34L174.75 244.41L175.00 244.49L175.25 244.56L175.50 244.64L175.75 244.71L176.00 244.79L176.25 244.88L176.50 244.96L176.75 245.04L177.00 245.13L177.25 245.22L177.50 245.31L177.75 245.40L178.00 245.49L178.25 245.58L178.50 245.68L178.75 245.77L179.00 245.87L179.25 245.97L179.50 246.07L179.75 246.17L180.00 246.28L180.25 246.38L180.50 246.48L180.75 246.59L181.00 246.70L181.25 246.80L181.50 246.91L181.75 247.02L182.00 247.13L182.25 247.24L182.50 247.35L182.75 247.47L183.00 247.58L183.25 247.69L183.50 247.81L183.75 247.92L184.00 248.04L184.25 248.15L184.50 248.27L184.75 248.39L185.00 248.50L185.25 248.62L185.50 248.74L185.75 248.86L186.00 248.98L186.25 249.09L186.50 249.21L186.75 249.33L187.00 249.45L187.25 249.57L187.50 249.69L187.75 249.81L188.00 249.93L188.25 250.05L188.50 250.16L188.75 250.28L189.00 250.40L189.25 250.52L189.50 250.64L189.75 250.75L190.00 250.87L190.25 250.99L190.50 251.10L190.75 251.22L191.00 251.33L191.25 251.45L191.50 251.56L191.75 251.68L192.00 251.79L192.25 251.90L192.50 252.01L192.75 252.12L193.00 252.23L193.25 252.34L193.50 252.45L193.75 252.55L194.00 252.66L194.25 252.76L194.50 252.87L194.75 252.97L195.00 253.07L195.25 253.17L195.50 253.27L195.75 253.37L196.00 253.47L196.25 253.56L196.50 253.66L196.75 253.75L197.00 253.84L197.25 253.93L197.50 254.02L197.75 254.10L198.00 254.19L198.25 254.27L198.50 254.35L198.75 254.43L199.00 254.51L199.25 254.59L199.50 254.66L199.75 254.74L200.00 254.81L200.25 254.88L200.50 254.94L200.75 255.01L201.00 255.07L201.25 255.13L201.50 255.19L201.75 255.25L202.00 255.31L202.25 255.36L202.50 255.41L202.75 255.46L203.00 255.51L203.25 255.56L203.50 255.60L203.75 255.65L204.00 255.69L204.25 255.73L204.50 255.77L204.75 255.80L205.00 255.84L205.25 255.87L205.50 255.90L205.75 255.93L206.00 255.96L206.25 255.99L206.50 256.01L206.75 256.03L207.00 256.06L207.25 256.08L207.50 256.09L207.75 256.11L208.00 256.13L208.25 256.14L208.50 256.15L208.75 256.16L209.00 256.17L209.25 256.18L209.50 256.18L209.75 256.19L210.00 256.19L210.25 256.19L210.50 256.19L210.75 256.19L211.00 256.19L211.25 256.18L211.50 256.18L211.75 256.17L212.00 256.16L212.25 256.15L212.50 256.14L212.75 256.13L213.00 256.11L213.25 256.10L213.50 256.08L213.75 256.06L214.00 256.04L214.25 256.02L214.50 256.00L214.75 255.98L215.00 255.95L215.25 255.93L215.50 255.90L215.75 255.87L216.00 255.84L216.25 255.81L216.50 255.78L216.75 255.75L217.00 255.71L217.25 255.68L217.50 255.64L217.75 255.60L218.00 255.56L218.25 255.52L218.50 255.48L218.75 255.44L219.00 255.40L219.25 255.35L219.50 255.31L219.75 255.26L220.00 255.22L220.25 255.17L220.50 255.12L220.75 255.07L221.00 255.02L221.25 254.96L221.50 254.91L221.75 254.86L222.00 254.80L222.25 254.74L222.50 254.69L222.75 254.63L223.00 254.57L223.25 254.51L223.50 254.45L223.75 254.39L224.00 254.33L224.25 254.26L224.50 254.20L224.75 254.13L225.00 254.07L225.25 254.00L225.50 253.93L225.75 253.87L226.00 253.80L226.25 253.73L226.50 253.66L226.75 253.59L227.00 253.51L227.25 253.44L227.50 253.37L227.75 253.29L228.00 253.22L228.25 253.14L228.50 253.07L228.75 252.99L229.00 252.91L229.25 252.84L229.50 252.76L229.75 252.68L230.00 252.60L230.25 252.52L230.50 252.44L230.75 252.36L231.00 252.28L231.25 252.19L231.50 252.11L231.75 252.03L232.00 251.94L232.25 251.86L232.50 251.77L232.75 251.69L233.00 251.60L233.25 251.52L233.50 251.43L233.75 251.34L234.00 251.25L234.25 251.17L234.50 251.08L234.75 250.99L235.00 250.90L235.25 250.81L235.50 250.72L235.75 250.63L236.00 250.54L236.25 250.45L236.50 250.36L236.75 250.27L237.00 250.18L237.25 250.08L237.50 249.99L237.75 249.90L238.00 249.81L238.25 249.71L238.50 249.62L238.75 249.53L239.00 249.44L239.25 249.34L239.50 249.25L239.75 249.15L240.00 249.06L240.25 248.97L240.50 248.87L240.75 248.78L241.00 248.68L241.25 248.59L241.50 248.49L241.75 248.40L242.00 248.30L242.25 248.21L242.50 248.11L242.75 248.02L243.00 247.92L243.25 247.83L243.50 247.73L243.75 247.63L244.00 247.54L244.25 247.44L244.50 247.35L244.75 247.25L245.00 247.16L245.25 247.06L245.50 246.97L245.75 246.87L246.00 246.77L246.25 246.68L246.50 246.58L246.75 246.49L247.00 246.39L247.25 246.30L247.50 246.20L247.75 246.11L248.00 246.02L248.25 245.92L248.50 245.83L248.75 245.73L249.00 245.64L249.25 245.55L249.50 245.46L249.75 245.36L250.00 245.27L250.25 245.18L250.50 245.09L250.75 245.00L251.00 244.90L251.25 244.81L251.50 244.72L251.75 244.63L252.00 244.54L252.25 244.46L252.50 244.37L252.75 244.28L253.00 244.19L253.25 244.10L253.50 244.02L253.75 243.93L254.00 243.84L254.25 243.76L254.50 243.67L254.75 243.59L255.00 243.51L255.25 243.42L255.50 243.34L255.75 243.26L256.00 243.18L256.25 243.10L256.50 243.02L256.75 242.94L257.00 242.86L257.25 242.78L257.50 242.70L257.75 242.63L258.00 242.55L258.25 242.48L258.50 242.40L258.75 242.33L259.00 242.25L259.25 242.18L259.50 242.11L259.75 242.04L260.00 241.97L260.25 241.90L260.50 241.83L260.75 241.77L261.00 241.70L261.25 241.63L261.50 241.57L261.75 241.51L262.00 241.44L262.25 241.38L262.50 241.32L262.75 241.26L263.00 241.20L263.25 241.14L263.50 241.09L263.75 241.03L264.00 240.98L264.25 240.92L264.50 240.87L264.75 240.82L265.00 240.77L265.25 240.72L265.50 240.67L265.75 240.62L266.00 240.58L266.25 240.53L266.50 240.49L266.75 240.45L267.00 240.41L267.25 240.37L267.50 240.33L267.75 240.29L268.00 240.25L268.25 240.22L268.50 240.18L268.75 240.15L269.00 240.12L269.25 240.09L269.50 240.06L269.75 240.04L270.00 240.01L270.25 239.99L270.50 239.96L270.75 239.94L271.00 239.92L271.25 239.90L271.50 239.89L271.75 239.87L272.00 239.86L272.25 239.85L272.50 239.83L272.75 239.83L273.00 239.82L273.25 239.81L273.50 239.81L273.75 239.80L274.00 239.80L274.25 239.80L274.50 239.80L274.75 239.81L275.00 239.81L275.25 239.82L275.50 239.83L275.75 239.84L276.00 239.85L276.25 239.87L276.50 239.88L276.75 239.90L277.00 239.92L277.25 239.94L277.50 239.96L277.75 239.99L278.00 240.02L278.25 240.05L278.50 240.08L278.75 240.11L279.00 240.14L279.25 240.18L279.50 240.22L279.75 240.26L280.00 240.30L280.25 240.35L280.50 240.39L280.75 240.44L281.00 240.49L281.25 240.55L281.50 240.60L281.75 240.66L282.00 240.72L282.25 240.78L282.50 240.84L282.75 240.91L283.00 240.98L283.25 241.05L283.50 241.12L283.75 241.19L284.00 241.27L284.25 241.34L284.50 241.42L284.75 241.50L285.00 241.58L285.25 241.67L285.50 241.75L285.75 241.84L286.00 241.93L286.25 242.02L286.50 242.11L286.75 242.20L287.00 242.30L287.25 242.40L287.50 242.49L287.75 242.59L288.00 242.69L288.25 242.79L288.50 242.90L288.75 243.00L289.00 243.11L289.25 243.21L289.50 243.32L289.75 243.43L290.00 243.54L290.25 243.65L290.50 243.76L290.75 243.88L291.00 243.99L291.25 244.10L291.50 244.22L291.75 244.34L292.00 244.45L292.25 244.57L292.50 244.69L292.75 244.81L293.00 244.93L293.25 245.05L293.50 245.18L293.75 245.30L294.00 245.42L294.25 245.55L294.50 245.67L294.75 245.80L295.00 245.92L295.25 246.05L295.50 246.17L295.75 246.30L296.00 246.43L296.25 246.56L296.50 246.68L296.75 246.81L297.00 246.94L297.25 247.07L297.50 247.20L297.75 247.33L298.00 247.46L298.25 247.59L298.50 247.72L298.75 247.85L299.00 247.97L299.25 248.10L299.50 248.23L299.75 248.36L300.00 248.49L300.25 248.62L300.50 248.75L300.75 248.88L301.00 249.01L301.25 249.14L301.50 249.26L301.75 249.39L302.00 249.52L302.25 249.65L302.50 249.77L302.75 249.90L303.00 250.02L303.25 250.15L303.50 250.27L303.75 250.40L304.00 250.52L304.25 250.64L304.50 250.76L304.75 250.88L305.00 251.01L305.25 251.13L305.50 251.24L305.75 251.36L306.00 251.48L306.25 251.60L306.50 251.71L306.75 251.83L307.00 251.94L307.25 252.05L307.50 252.16L307.75 252.27L308.00 252.38L308.25 252.49L308.50 252.60L308.75 252.71L309.00 252.81L309.25 252.91L309.50 253.02L309.75 253.12L310.00 253.22L310.25 253.32L310.50 253.41L310.75 253.51L311.00 253.60L311.25 253.70L311.50 253.79L311.75 253.88L312.00 253.97L312.25 254.06L312.50 254.14L312.75 254.22L313.00 254.31L313.25 254.39L313.50 254.47L313.75 254.54L314.00 254.62L314.25 254.69L314.50 254.77L314.75 254.84L315.00 254.90L315.25 254.97L315.50 255.04L315.75 255.10L316.00 255.16L316.25 255.22L316.50 255.28L316.75 255.33L317.00 255.38L317.25 255.44L317.50 255.48L317.75 255.53L318.00 255.58L318.25 255.62L318.50 255.66L318.75 255.70L319.00 255.74L319.25 255.77L319.50 255.80L319.75 255.83L320.00 255.86L320.25 255.89L320.50 255.91L320.75 255.93L321.00 255.95L321.25 255.97L321.50 255.99L321.75 256.00L322.00 256.01L322.25 256.02L322.50 256.03L322.75 256.04L323.00 256.05L323.25 256.05L323.50 256.05L323.75 256.05L324.00 256.05L324.25 256.04L324.50 256.04L324.75 256.03L325.00 256.02L325.25 256.01L325.50 255.99L325.75 255.98L326.00 255.96L326.25 255.94L326.50 255.92L326.75 255.90L327.00 255.88L327.25 255.85L327.50 255.83L327.75 255.80L328.00 255.77L328.25 255.74L328.50 255.70L328.75 255.67L329.00 255.63L329.25 255.59L329.50 255.56L329.75 255.51L330.00 255.47L330.25 255.43L330.50 255.38L330.75 255.33L331.00 255.29L331.25 255.24L331.50 255.18L331.75 255.13L332.00 255.08L332.25 255.02L332.50 254.96L332.75 254.90L333.00 254.84L333.25 254.78L333.50 254.72L333.75 254.66L334.00 254.59L334.25 254.52L334.50 254.45L334.75 254.38L335.00 254.31L335.25 254.24L335.50 254.17L335.75 254.09L336.00 254.02L336.25 253.94L336.50 253.86L336.75 253.78L337.00 253.70L337.25 253.62L337.50 253.53L337.75 253.45L338.00 253.36L338.25 253.28L338.50 253.19L338.75 253.10L339.00 253.01L339.25 252.92L339.50 252.82L339.75 252.73L340.00 252.64L340.25 252.54L340.50 252.44L340.75 252.35L341.00 252.25L341.25 252.15L341.50 252.05L341.75 251.95L342.00 251.84L342.25 251.74L342.50 251.63L342.75 251.53L343.00 251.42L343.25 251.32L343.50 251.21L343.75 251.10L344.00 250.99L344.25 250.88L344.50 250.77L344.75 250.66L345.00 250.54L345.25 250.43L345.50 250.32L345.75 250.20L346.00 250.08L346.25 249.97L346.50 249.85L346.75 249.73L347.00 249.61L347.25 249.49L347.50 249.37L347.75 249.25L348.00 249.13L348.25 249.01L348.50 248.89L348.75 248.77L349.00 248.64L349.25 248.52L349.50 248.39L349.75 248.27L350.00 248.14L350.25 248.02L350.50 247.89L350.75 247.76L351.00 247.64L351.25 247.51L351.50 247.38L351.75 247.25L352.00 247.12L352.25 246.99L352.50 246.86L352.75 246.73L353.00 246.60L353.25 246.47L353.50 246.34L353.75 246.21L354.00 246.08L354.25 245.95L354.50 245.81L354.75 245.68L355.00 245.55L355.25 245.42L355.50 245.28L355.75 245.15L356.00 245.02L356.25 244.88L356.50 244.75L356.75 244.62L357.00 244.48L357.25 244.35L357.50 244.21L357.75 244.08L358.00 243.94L358.25 243.81L358.50 243.68L358.75 243.54L359.00 243.41L359.25 243.27L359.50 243.14L359.75 243.01L360.00 242.87L360.25 242.74L360.50 242.60L360.75 242.47L361.00 242.34L361.25 242.20L361.50 242.07L361.75 241.94L362.00 241.80L362.25 241.67L362.50 241.54L362.75 241.41L363.00 241.27L363.25 241.14L363.50 241.01L363.75 240.88L364.00 240.75L364.25 240.62L364.50 240.49L364.75 240.36L365.00 240.23L365.25 240.10L365.50 239.97L365.75 239.84L366.00 239.71L366.25 239.59L366.50 239.46L366.75 239.33L367.00 239.21L367.25 239.08L367.50 238.96L367.75 238.83L368.00 238.71L368.25 238.59L368.50 238.46L368.75 238.34L369.00 238.22L369.25 238.10L369.50 237.98L369.75 237.86L370.00 237.74L370.25 237.62L370.50 237.50L370.75 237.39L371.00 237.27L371.25 237.15L371.50 237.04L371.75 236.92L372.00 236.81L372.25 236.70L372.50 236.59L372.75 236.48L373.00 236.37L373.25 236.26L373.50 236.15L373.75 236.04L374.00 235.94L374.25 235.83L374.50 235.73L374.75 235.62L375.00 235.52L375.25 235.42L375.50 235.32L375.75 235.22L376.00 235.12L376.25 235.02L376.50 234.93L376.75 234.83L377.00 234.74L377.25 234.64L377.50 234.55L377.75 234.46L378.00 234.37L378.25 234.28L378.50 234.19L378.75 234.11L379.00 234.02L379.25 233.94L379.50 233.86L379.75 233.78L380.00 233.70L380.25 233.62L380.50 233.54L380.75 233.46L381.00 233.39L381.25 233.32L381.50 233.25L381.75 233.18L382.00 233.11L382.25 233.04L382.50 232.97L382.75 232.91L383.00 232.85L383.25 232.79L383.50 232.73L383.75 232.67L384.00 232.61L384.25 232.56L384.50 232.50L384.75 232.45L385.00 232.40L385.25 232.36L385.50 232.31L385.75 232.26L386.00 232.22L386.25 232.18L386.50 232.14L386.75 232.10L387.00 232.07L387.25 232.03L387.50 232.00L387.75 231.97L388.00 231.94L388.25 231.92L388.50 231.89L388.75 231.87L389.00 231.85L389.25 231.83L389.50 231.82L389.75 231.80L390.00 231.79L390.25 231.78L390.50 231.78L390.75 231.77L391.00 231.77L391.25 231.77L391.50 231.77L391.75 231.77L392.00 231.78L392.25 231.78L392.50 231.79L392.75 231.81L393.00 231.82L393.25 231.84L393.50 231.86L393.75 231.88L394.00 231.90L394.25 231.93L394.50 231.96L394.75 231.99L395.00 232.02L395.25 232.06L395.50 232.10L395.75 232.14L396.00 232.19L396.25 232.23L396.50 232.28L396.75 232.33L397.00 232.39L397.25 232.45L397.50 232.51L397.75 232.57L398.00 232.63L398.25 232.70L398.50 232.77L398.75 232.84L399.00 232.92L399.25 233.00L399.50 233.08L399.75 233.16L400.00 233.25L400.25 233.34L400.50 233.43L400.75 233.52L401.00 233.62L401.25 233.72L401.50 233.82L401.75 233.93L402.00 234.03L402.25 234.14L402.50 234.25L402.75 234.37L403.00 234.48L403.25 234.60L403.50 234.72L403.75 234.84L404.00 234.97L404.25 235.09L404.50 235.22L404.75 235.35L405.00 235.48L405.25 235.61L405.50 235.75L405.75 235.89L406.00 236.03L406.25 236.17L406.50 236.31L406.75 236.45L407.00 236.60L407.25 236.75L407.50 236.90L407.75 237.05L408.00 237.20L408.25 237.36L408.50 237.51L408.75 237.67L409.00 237.83L409.25 237.99L409.50 238.15L409.75 238.31L410.00 238.47L410.25 238.64L410.50 238.81L410.75 238.97L411.00 239.14L411.25 239.31L411.50 239.48L411.75 239.66L412.00 239.83L412.25 240.00L412.50 240.18L412.75 240.36L413.00 240.54L413.25 240.71L413.50 240.89L413.75 241.07L414.00 241.26L414.25 241.44L414.50 241.62L414.75 241.81L415.00 241.99L415.25 242.18L415.50 242.36L415.75 242.55L416.00 242.74L416.25 242.93L416.50 243.12L416.75 243.31L417.00 243.50L417.25 243.69L417.50 243.88L417.75 244.07L418.00 244.27L418.25 244.46L418.50 244.65L418.75 244.85L419.00 245.04L419.25 245.24L419.50 245.43L419.75 245.63L420.00 245.82L420.25 246.02L420.50 246.21L420.75 246.41L421.00 246.61L421.25 246.80L421.50 247.00L421.75 247.20L422.00 247.40L422.25 247.59L422.50 247.79L422.75 247.99L423.00 248.18L423.25 248.38L423.50 248.58L423.75 248.77L424.00 248.97L424.25 249.17L424.50 249.36L424.75 249.56L425.00 249.75L425.25 249.95L425.50 250.15L425.75 250.34L426.00 250.53L426.25 250.73L426.50 250.92L426.75 251.12L427.00 251.31L427.25 251.50L427.50 251.69L427.75 251.88L428.00 252.07L428.25 252.26L428.50 252.45L428.75 252.64L429.00 252.83L429.25 253.02L429.50 253.20L429.75 253.39L430.00 253.57L430.25 253.76L430.50 253.94L430.75 254.12L431.00 254.31L431.25 254.49L431.50 254.67L431.75 254.84L432.00 255.02L432.25 255.20L432.50 255.37L432.75 255.55L433.00 255.72L433.25 255.89L433.50 256.07L433.75 256.24L434.00 256.40L434.25 256.57L434.50 256.74L434.75 256.90L435.00 257.07L435.25 257.23L435.50 257.39L435.75 257.55L436.00 257.70L436.25 257.86L436.50 258.01L436.75 258.16L437.00 258.30L437.25 258.45L437.50 258.59L437.75 258.73L438.00 258.87L438.25 259.00L438.50 259.13L438.75 259.26L439.00 259.39L439.25 259.51L439.50 259.63L439.75 259.74L440.00 259.86L440.25 259.96L440.50 260.07L440.75 260.17L441.00 260.27L441.25 260.36L441.50 260.45L441.75 260.54L442.00 260.62L442.25 260.70L442.50 260.77L442.75 260.84L443.00 260.91L443.25 260.97L443.50 261.03L443.75 261.08L444.00 261.13L444.25 261.18L444.50 261.22L444.75 261.26L445.00 261.29L445.25 261.32L445.50 261.35L445.75 261.37L446.00 261.39L446.25 261.41L446.50 261.42L446.75 261.42L447.00 261.43L447.25 261.43L447.50 261.42L447.75 261.41L448.00 261.40L448.25 261.39L448.50 261.37L448.75 261.34L449.00 261.32L449.25 261.28L449.50 261.25L449.75 261.21L450.00 261.16L450.25 261.11L450.50 261.05L450.75 260.99L451.00 260.93L451.25 260.86L451.50 260.78L451.75 260.70L452.00 260.61L452.25 260.52L452.50 260.42L452.75 260.32L453.00 260.21L453.25 260.10L453.50 259.98L453.75 259.86L454.00 259.73L454.25 259.59L454.50 259.45L454.75 259.31L455.00 259.16L455.25 259.01L455.50 258.85L455.75 258.68L456.00 258.51L456.25 258.34L456.50 258.16L456.75 257.98L457.00 257.79L457.25 257.60L457.50 257.41L457.75 257.21L458.00 257.00L458.25 256.80L458.50 256.58L458.75 256.37L459.00 256.15L459.25 255.93L459.50 255.70L459.75 255.47L460.00 255.23L460.25 255.00L460.50 254.76L460.75 254.51L461.00 254.27L461.25 254.02L461.50 253.77L461.75 253.51L462.00 253.25L462.25 252.99L462.50 252.73L462.75 252.46L463.00 252.19L463.25 251.92L463.50 251.65L463.75 251.38L464.00 251.10L464.25 250.82L464.50 250.54L464.75 250.25L465.00 249.97L465.25 249.68L465.50 249.39L465.75 249.10L466.00 248.81L466.25 248.52L466.50 248.23L466.75 247.93L467.00 247.63L467.25 247.34L467.50 247.04L467.75 246.74L468.00 246.44L468.25 246.14L468.50 245.83L468.75 245.53L469.00 245.23L469.25 244.92L469.50 244.62L469.75 244.32L470.00 244.01L470.25 243.70L470.50 243.40L470.75 243.09L471.00 242.79L471.25 242.48L471.50 242.17L471.75 241.87L472.00 241.56L472.25 241.25L472.50 240.94L472.75 240.64L473.00 240.33L473.25 240.03L473.50 239.72L473.75 239.41L474.00 239.11L474.25 238.80L474.50 238.50L474.75 238.20L475.00 237.89L475.25 237.59L475.50 237.29L475.75 236.99L476.00 236.69L476.25 236.39L476.50 236.09L476.75 235.79L477.00 235.50L477.25 235.20L477.50 234.91L477.75 234.61L478.00 234.32L478.25 234.03L478.50 233.74L478.75 233.45L479.00 233.16L479.25 232.88L479.50 232.60L479.75 232.31L480.00 232.03L480.25 231.75L480.50 231.47L480.75 231.20L481.00 230.92L481.25 230.65L481.50 230.38L481.75 230.11L482.00 229.85L482.25 229.58L482.50 229.32L482.75 229.06L483.00 228.80L483.25 228.54L483.50 228.29L483.75 228.04L484.00 227.79L484.25 227.54L484.50 227.29L484.75 227.05L485.00 226.81L485.25 226.57L485.50 226.34L485.75 226.11L486.00 225.88L486.25 225.65L486.50 225.43L486.75 225.21L487.00 224.99L487.25 224.77L487.50 224.56L487.75 224.35L488.00 224.14L488.25 223.94L488.50 223.74L488.75 223.54L489.00 223.35L489.25 223.16L489.50 222.97L489.75 222.79L490.00 222.61L490.25 222.43L490.50 222.26L490.75 222.09L491.00 221.92L491.25 221.76L491.50 221.60L491.75 221.45L492.00 221.30L492.25 221.16L492.50 221.01L492.75 220.88L493.00 220.75L493.25 220.62L493.50 220.50L493.75 220.38L494.00 220.26L494.25 220.16L494.50 220.05L494.75 219.96L495.00 219.87L495.25 219.78L495.50 219.70L495.75 219.63L496.00 219.56L496.25 219.50L496.50 219.44L496.75 219.39L497.00 219.35L497.25 219.31L497.50 219.28L497.75 219.26L498.00 219.24L498.25 219.23L498.50 219.22L498.75 219.22L499.00 219.23L499.25 219.24L499.50 219.26L499.75 219.28L500.00 219.31L500.25 219.35L500.50 219.39L500.75 219.44L501.00 219.49L501.25 219.55L501.50 219.62L501.75 219.69L502.00 219.76L502.25 219.85L502.50 219.93L502.75 220.02L503.00 220.12L503.25 220.22L503.50 220.33L503.75 220.44L504.00 220.56L504.25 220.68L504.50 220.81L504.75 220.94L505.00 221.07L505.25 221.21L505.50 221.36L505.75 221.51L506.00 221.66L506.25 221.82L506.50 221.98L506.75 222.15L507.00 222.32L507.25 222.49L507.50 222.67L507.75 222.85L508.00 223.04L508.25 223.23L508.50 223.42L508.75 223.62L509.00 223.82L509.25 224.03L509.50 224.24L509.75 224.45L510.00 224.67L510.25 224.89L510.50 225.12L510.75 225.35L511.00 225.58L511.25 225.81L511.50 226.05L511.75 226.30L512.00 226.55L512.25 226.80L512.50 227.05L512.75 227.31L513.00 227.57L513.25 227.84L513.50 228.10L513.75 228.38L514.00 228.65L514.25 228.93L514.50 229.21L514.75 229.50L515.00 229.79L515.25 230.08L515.50 230.37L515.75 230.67L516.00 230.97L516.25 231.28L516.50 231.58L516.75 231.89L517.00 232.21L517.25 232.52L517.50 232.84L517.75 233.16L518.00 233.48L518.25 233.81L518.50 234.14L518.75 234.47L519.00 234.80L519.25 235.13L519.50 235.47L519.75 235.81L520.00 236.15L520.25 236.50L520.50 236.84L520.75 237.19L521.00 237.54L521.25 237.89L521.50 238.25L521.75 238.60L522.00 238.96L522.25 239.32L522.50 239.68L522.75 240.04L523.00 240.40L523.25 240.77L523.50 241.14L523.75 241.50L524.00 241.87L524.25 242.24L524.50 242.62L524.75 242.99L525.00 243.36L525.25 243.74L525.50 244.11L525.75 244.49L526.00 244.87L526.25 245.25L526.50 245.63L526.75 246.01L527.00 246.39L527.25 246.77L527.50 247.15L527.75 247.53L528.00 247.91L528.25 248.30L528.50 248.68L528.75 249.06L529.00 249.45L529.25 249.83L529.50 250.22L529.75 250.60L530.00 250.98L530.25 251.37L530.50 251.75L530.75 252.13L531.00 252.52L531.25 252.90L531.50 253.28L531.75 253.66L532.00 254.05L532.25 254.43L532.50 254.81L532.75 255.19L533.00 255.56L533.25 255.94L533.50 256.32L533.75 256.69L534.00 257.07L534.25 257.44L534.50 257.82L534.75 258.19L535.00 258.56L535.25 258.93L535.50 259.29L535.75 259.66L536.00 260.03L536.25 260.39L536.50 260.75L536.75 261.11L537.00 261.47L537.25 261.83L537.50 262.18L537.75 262.53L538.00 262.88L538.25 263.23L538.50 263.58L538.75 263.92L539.00 264.27L539.25 264.60L539.50 264.94L539.75 265.28L540.00 265.61L540.25 265.94L540.50 266.27L540.75 266.59L541.00 266.91L541.25 267.23L541.50 267.55L541.75 267.86L542.00 268.17L542.25 268.48L542.50 268.79L542.75 269.09L543.00 269.38L543.25 269.68L543.50 269.97L543.75 270.26L544.00 270.54L544.25 270.82L544.50 271.10L544.75 271.37L545.00 271.64L545.25 271.91L545.50 272.17L545.75 272.42L546.00 272.68L546.25 272.93L546.50 273.17L546.75 273.41L547.00 273.65L547.25 273.88L547.50 274.11L547.75 274.33L548.00 274.55L548.25 274.76L548.50 274.97L548.75 275.17L549.00 275.37L549.25 275.56L549.50 275.75L549.75 275.94L550.00 276.11L550.25 276.29L550.50 276.46L550.75 276.62L551.00 276.78L551.25 276.93L551.50 277.08L551.75 277.22L552.00 277.36L552.25 277.49L552.50 277.62L552.75 277.74L553.00 277.86L553.25 277.98L553.50 278.09L553.75 278.19L554.00 278.29L554.25 278.39L554.50 278.48L554.75 278.57L555.00 278.65L555.25 278.73L555.50 278.81L555.75 278.88L556.00 278.95L556.25 279.01L556.50 279.07L556.75 279.12L557.00 279.17L557.25 279.22L557.50 279.27L557.75 279.31L558.00 279.34L558.25 279.38L558.50 279.41L558.75 279.43L559.00 279.46L559.25 279.48L559.50 279.49L559.75 279.51L560.00 279.52L560.25 279.52L560.50 279.53L560.75 279.53L561.00 279.52L561.25 279.52L561.50 279.51L561.75 279.50L562.00 279.48L562.25 279.46L562.50 279.44L562.75 279.41L563.00 279.38L563.25 279.35L563.50 279.32L563.75 279.28L564.00 279.23L564.25 279.19L564.50 279.14L564.75 279.09L565.00 279.03L565.25 278.97L565.50 278.90L565.75 278.83L566.00 278.76L566.25 278.69L566.50 278.61L566.75 278.52L567.00 278.43L567.25 278.34L567.50 278.24L567.75 278.14L568.00 278.04L568.25 277.93L568.50 277.82L568.75 277.70L569.00 277.58L569.25 277.45L569.50 277.32L569.75 277.19L570.00 277.05L570.25 276.90L570.50 276.76L570.75 276.60L571.00 276.45L571.25 276.28L571.50 276.12L571.75 275.95L572.00 275.77L572.25 275.59L572.50 275.41L572.75 275.22L573.00 275.03L573.25 274.83L573.50 274.63L573.75 274.42L574.00 274.21L574.25 274.00L574.50 273.78L574.75 273.55L575.00 273.32L575.25 273.09L575.50 272.85L575.75 272.61L576.00 272.36L576.25 272.11L576.50 271.86L576.75 271.60L577.00 271.33L577.25 271.06L577.50 270.79L577.75 270.51L578.00 270.23L578.25 269.94L578.50 269.65L578.75 269.36L579.00 269.06L579.25 268.75L579.50 268.45L579.75 268.13L580.00 267.82L580.25 267.50L580.50 267.17L580.75 266.84L581.00 266.51L581.25 266.17L581.50 265.83L581.75 265.48L582.00 265.13L582.25 264.78L582.50 264.42L582.75 264.05L583.00 263.69L583.25 263.32L583.50 262.94L583.75 262.56L584.00 262.18L584.25 261.79L584.50 261.41L584.75 261.01L585.00 260.62L585.25 260.22L585.50 259.81L585.75 259.41L586.00 259.00L586.25 258.58L586.50 258.17L586.75 257.75L587.00 257.33L587.25 256.90L587.50 256.47L587.75 256.04L588.00 255.61L588.25 255.17L588.50 254.73L588.75 254.29L589.00 253.85L589.25 253.40L589.50 252.95L589.75 252.50L590.00 252.05L590.25 251.59L590.50 251.14L590.75 250.68L591.00 250.21L591.25 249.75L591.50 249.28L591.75 248.82L592.00 248.35L592.25 247.87L592.50 247.40L592.75 246.93L593.00 246.45L593.25 245.97L593.50 245.49L593.75 245.01L594.00 244.53L594.25 244.04L594.50 243.56L594.75 243.07L595.00 242.59L595.25 242.10L595.50 241.61L595.75 241.12L596.00 240.62L596.25 240.13L596.50 239.64L596.75 239.14L597.00 238.65L597.25 238.15L597.50 237.66L597.75 237.16L598.00 236.66L598.25 236.17L598.50 235.67L598.75 235.17L599.00 234.67L599.25 234.17L599.50 233.67L599.75 233.17L600.00 232.67L600.25 232.17L600.50 231.68L600.75 231.18L601.00 230.69L601.25 230.19L601.50 229.70L601.75 229.21L602.00 228.72L602.25 228.24L602.50 227.75L602.75 227.27L603.00 226.80L603.25 226.32L603.50 225.85L603.75 225.38L604.00 224.92L604.25 224.46L604.50 224.01L604.75 223.56L605.00 223.11L605.25 222.67L605.50 222.23L605.75 221.80L606.00 221.37L606.25 220.95L606.50 220.54L606.75 220.13L607.00 219.72L607.25 219.33L607.50 218.94L607.75 218.55L608.00 218.17L608.25 217.80L608.50 217.44L608.75 217.08L609.00 216.73L609.25 216.38L609.50 216.04L609.75 215.71L610.00 215.39L610.25 215.08L610.50 214.77L610.75 214.47L611.00 214.17L611.25 213.89L611.50 213.61L611.75 213.34L612.00 213.08L612.25 212.82L612.50 212.58L612.75 212.35L613.00 212.13L613.25 211.92L613.50 211.72L613.75 211.54L614.00 211.37L614.25 211.22L614.50 211.09L614.75 210.97L615.00 210.87L615.25 210.79L615.50 210.72L615.75 210.68L616.00 210.65L616.25 210.64L616.50 210.65L616.75 210.68L617.00 210.73L617.25 210.79L617.50 210.87L617.75 210.96L618.00 211.07L618.25 211.19L618.50 211.32L618.75 211.47L619.00 211.63L619.25 211.79L619.50 211.97L619.75 212.15L620.00 212.35L620.25 212.55L620.50 212.76L620.75 212.97L621.00 213.20L621.25 213.43L621.50 213.66L621.75 213.91L622.00 214.16L622.25 214.41L622.50 214.68L622.75 214.95L623.00 215.22L623.25 215.50L623.50 215.79L623.75 216.08L624.00 216.38L624.25 216.68L624.50 216.99L624.75 217.30L625.00 217.62L625.25 217.95L625.50 218.28L625.75 218.61L626.00 218.95L626.25 219.30L626.50 219.65L626.75 220.01L627.00 220.37L627.25 220.74L627.50 221.11L627.75 221.48L628.00 221.87L628.25 222.25L628.50 222.64L628.75 223.04L629.00 223.44L629.25 223.84L629.50 224.25L629.75 224.67L630.00 225.09L630.25 225.51L630.50 225.94L630.75 226.37L631.00 226.81L631.25 227.25L631.50 227.69L631.75 228.14L632.00 228.59L632.25 229.05L632.50 229.51L632.75 229.97L633.00 230.44L633.25 230.91L633.50 231.39L633.75 231.87L634.00 232.35L634.25 232.83L634.50 233.32L634.75 233.82L635.00 234.31L635.25 234.81L635.50 235.31L635.75 235.82L636.00 236.32L636.25 236.84L636.50 237.35L636.75 237.86L637.00 238.38L637.25 238.91L637.50 239.43L637.75 239.96L638.00 240.48L638.25 241.02L638.50 241.55L638.75 242.08L639.00 242.62L639.25 243.16L639.50 243.70L639.75 244.25L640.00 244.79L640.25 245.34L640.50 245.89L640.75 246.44L641.00 246.99L641.25 247.54L641.50 248.10L641.75 248.65L642.00 249.21L642.25 249.77L642.50 250.32L642.75 250.88L643.00 251.45L643.25 252.01L643.50 252.57L643.75 253.13L644.00 253.70L644.25 254.26L644.50 254.83L644.75 255.39L645.00 255.96L645.25 256.52L645.50 257.09L645.75 257.66L646.00 258.22L646.25 258.79L646.50 259.35L646.75 259.92L647.00 260.49L647.25 261.05L647.50 261.62L647.75 262.18L648.00 262.74L648.25 263.31L648.50 263.87L648.75 264.43L649.00 264.99L649.25 265.55L649.50 266.11L649.75 266.67L650.00 267.22L650.25 267.78L650.50 268.33L650.75 268.88L651.00 269.43L651.25 269.98L651.50 270.53L651.75 271.08L652.00 271.62L652.25 272.16L652.50 272.70L652.75 273.23L653.00 273.77L653.25 274.30L653.50 274.82L653.75 275.35L654.00 275.87L654.25 276.39L654.50 276.90L654.75 277.41L655.00 277.92L655.25 278.42L655.50 278.92L655.75 279.42L656.00 279.91L656.25 280.39L656.50 280.88L656.75 281.35L657.00 281.82L657.25 282.29L657.50 282.75L657.75 283.21L658.00 283.66L658.25 284.10L658.50 284.54L658.75 284.98L659.00 285.40L659.25 285.83L659.50 286.24L659.75 286.65L660.00 287.05L660.25 287.44L660.50 287.83L660.75 288.21L661.00 288.58L661.25 288.95L661.50 289.31L661.75 289.66L662.00 290.00L662.25 290.34L662.50 290.67L662.75 290.99L663.00 291.31L663.25 291.63L663.50 291.95L663.75 292.26L664.00 292.57L664.25 292.87L664.50 293.18L664.75 293.48L665.00 293.78L665.25 294.09L665.50 294.39L665.75 294.69L666.00 295.00L666.25 295.31L666.50 295.61L666.75 295.92L667.00 296.24L667.25 296.55L667.50 296.87L667.75 297.18L668.00 297.48L668.25 297.77L668.50 298.06L668.75 298.33L669.00 298.58L669.25 298.83L669.50 299.05L669.75 299.25L670.00 299.44L670.25 299.59L670.50 299.72L670.75 299.82L671.00 299.88L671.25 299.91L671.50 299.91L671.75 299.88L672.00 299.83L672.25 299.77L672.50 299.71L672.75 299.68L673.00 299.69L673.25 299.74L673.50 299.80L673.75 299.87L674.00 299.93L674.25 299.96L674.50 299.95L674.75 299.91L675.00 299.83L675.25 299.71L675.50 299.56L675.75 299.37L676.00 299.15L676.25 298.90L676.50 298.63L676.75 298.32L677.00 297.99L677.25 297.64L677.50 297.27L677.75 296.87L678.00 296.46L678.25 296.03L678.50 295.58L678.75 295.12L679.00 294.65L679.25 294.16L679.50 293.66L679.75 293.14L680.00 292.62L680.25 292.09L680.50 291.54L680.75 290.99L681.00 290.44L681.25 289.87L681.50 289.31L681.75 288.73L682.00 288.15L682.25 287.57L682.50 286.99L682.75 286.40L683.00 285.82L683.25 285.23L683.50 284.64L683.75 284.06L684.00 283.48L684.25 282.90L684.50 282.32L684.75 281.74L685.00 281.17L685.25 280.60L685.50 280.04L685.75 279.47L686.00 278.91L686.25 278.35L686.50 277.79L686.75 277.23L687.00 276.67L687.25 276.11L687.50 275.55L687.75 274.99L688.00 274.43L688.25 273.86L688.50 273.30L688.75 272.74L689.00 272.17L689.25 271.61L689.50 271.04L689.75 270.46L690.00 269.89L690.25 269.31L690.50 268.73L690.75 268.14L691.00 267.55L691.25 266.96L691.50 266.36L691.75 265.76L692.00 265.15L692.25 264.53L692.50 263.92L692.75 263.29L693.00 262.66L693.25 262.02L693.50 261.37L693.75 260.72L694.00 260.06L694.25 259.39L694.50 258.72L694.75 258.04L695.00 257.34L695.25 256.64L695.50 255.93L695.75 255.21L696.00 254.48L696.25 253.75L696.50 253.00L696.75 252.25L697.00 251.49L697.25 250.72L697.50 249.95L697.75 249.17L698.00 248.39L698.25 247.59L698.50 246.80L698.75 245.99L699.00 245.18L699.25 244.37L699.50 243.55L699.75 242.73L700.00 241.91L700.25 241.08L700.50 240.25L700.75 239.41L701.00 238.57L701.25 237.73L701.50 236.89L701.75 236.05L702.00 235.20L702.25 234.35L702.50 233.50L702.75 232.65L703.00 231.80L703.25 230.95L703.50 230.10L703.75 229.26L704.00 228.41L704.25 227.56L704.50 226.71L704.75 225.87L705.00 225.02L705.25 224.18L705.50 223.34L705.75 222.51L706.00 221.67L706.25 220.84L706.50 220.02L706.75 219.19L707.00 218.37L707.25 217.56L707.50 216.75L707.75 215.94L708.00 215.14L708.25 214.35L708.50 213.56L708.75 212.78L709.00 212.00L709.25 211.23L709.50 210.46L709.75 209.71L710.00 208.96L710.25 208.21L710.50 207.48L710.75 206.75L711.00 206.03L711.25 205.32L711.50 204.62L711.75 203.93L712.00 203.25L712.25 202.57L712.50 201.91L712.75 201.25L713.00 200.61L713.25 199.97L713.50 199.34L713.75 198.72L714.00 198.11L714.25 197.51L714.50 196.92L714.75 196.33L715.00 195.76L715.25 195.19L715.50 194.63L715.75 194.08L716.00 193.54L716.25 193.01L716.50 192.49L716.75 191.97L717.00 191.46L717.25 190.97L717.50 190.48L717.75 189.99L718.00 189.52L718.25 189.06L718.50 188.60L718.75 188.15L719.00 187.71L719.25 187.28L719.50 186.85L719.75 186.44L720.00 186.03L720.25 185.63L720.50 185.23L720.75 184.85L721.00 184.47L721.25 184.10L721.50 183.73L721.75 183.38L722.00 183.03L722.25 182.69L722.50 182.35L722.75 182.03L723.00 181.71L723.25 181.39L723.50 181.09L723.75 180.79L724.00 180.50L724.25 180.21L724.50 179.93L724.75 179.66L725.00 179.40L725.25 179.14L725.50 178.89L725.75 178.65L726.00 178.42L726.25 178.19L726.50 177.98L726.75 177.77L727.00 177.57L727.25 177.38L727.50 177.21L727.75 177.04L728.00 176.89L728.25 176.75L728.50 176.62L728.75 176.50L729.00 176.41L729.25 176.32L729.50 176.25L729.75 176.20L730.00 176.17L730.25 176.15L730.50 176.15L730.75 176.17L731.00 176.21L731.25 176.26L731.50 176.33L731.75 176.41L732.00 176.51L732.25 176.63L732.50 176.76L732.75 176.91L733.00 177.07L733.25 177.24L733.50 177.42L733.75 177.61L734.00 177.82L734.25 178.03L734.50 178.26L734.75 178.49L735.00 178.73L735.25 178.98L735.50 179.24L735.75 179.51L736.00 179.78L736.25 180.06L736.50 180.35L736.75 180.65L737.00 180.95L737.25 181.27L737.50 181.59L737.75 181.91L738.00 182.25L738.25 182.59L738.50 182.94L738.75 183.30L739.00 183.67L739.25 184.04L739.50 184.43L739.75 184.82L740.00 185.22L740.25 185.62L740.50 186.04L740.75 186.46L741.00 186.90L741.25 187.34L741.50 187.79L741.75 188.25L742.00 188.71L742.25 189.19L742.50 189.68L742.75 190.17L743.00 190.67L743.25 191.19L743.50 191.71L743.75 192.24L744.00 192.78L744.25 193.33L744.50 193.89L744.75 194.46L745.00 195.04L745.25 195.63L745.50 196.22L745.75 196.83L746.00 197.45L746.25 198.07L746.50 198.71L746.75 199.36L747.00 200.01L747.25 200.68L747.50 201.35L747.75 202.04L748.00 202.73L748.25 203.43L748.50 204.14L748.75 204.86L749.00 205.59L749.25 206.33L749.50 207.07L749.75 207.83L750.00 208.59L750.25 209.36L750.50 210.13L750.75 210.92L751.00 211.71L751.25 212.51L751.50 213.31L751.75 214.12L752.00 214.94L752.25 215.76L752.50 216.59L752.75 217.43L753.00 218.27L753.25 219.12L753.50 219.97L753.75 220.83L754.00 221.69L754.25 222.56L754.50 223.43L754.75 224.30L755.00 225.18L755.25 226.07L755.50 226.96L755.75 227.85L756.00 228.74L756.25 229.64L756.50 230.54L756.75 231.44L757.00 232.35L757.25 233.26L757.50 234.17L757.75 235.08L758.00 236.00L758.25 236.91L758.50 237.83L758.75 238.75L759.00 239.67L759.25 240.59L759.50 241.51L759.75 242.44L760.00 243.36L760.25 244.28L760.50 245.20L760.75 246.13L761.00 247.05L761.25 247.97L761.50 248.89L761.75 249.81L762.00 250.73L762.25 251.64L762.50 252.56L762.75 253.47L763.00 254.38L763.25 255.29L763.50 256.20L763.75 257.10L764.00 258.00L764.25 258.90L764.50 259.79L764.75 260.69L765.00 261.57L765.25 262.46L765.50 263.34L765.75 264.21L766.00 265.08L766.25 265.95L766.50 266.81L766.75 267.67L767.00 268.52L767.25 269.37L767.50 270.21L767.75 271.04L768.00 271.87L768.25 272.69L768.50 273.51L768.75 274.32L769.00 275.12L769.25 275.92L769.50 276.70L769.75 277.49L770.00 278.26L770.25 279.02L770.50 279.78L770.75 280.53L771.00 281.27L771.25 282.00L771.50 282.73L771.75 283.44L772.00 284.14L772.25 284.84L772.50 285.53L772.75 286.20L773.00 286.87L773.25 287.52L773.50 288.17L773.75 288.80L774.00 289.42L774.25 290.04L774.50 290.64L774.75 291.22L775.00 291.80L775.25 292.37L775.50 292.92L775.75 293.46L776.00 293.98L776.25 294.50L776.50 295.00L776.75 295.48L777.00 295.95L777.25 296.41L777.50 296.85L777.75 297.28L778.00 297.69L778.25 298.09L778.50 298.47L778.75 298.83L779.00 299.17L779.25 299.50L779.50 299.81L779.75 300.10L780.00 300.37L780.25 300.62L780.50 300.85L780.75 301.06L781.00 301.24L781.25 301.40L781.50 301.54L781.75 301.66L782.00 301.76L782.25 301.83L782.50 301.87L782.75 301.90L783.00 301.91L783.25 301.90L783.50 301.88L783.75 301.85L784.00 301.81L784.25 301.78L784.50 301.76L784.75 301.74L785.00 301.74L785.25 301.75L785.50 301.77L785.75 301.79L786.00 301.81L786.25 301.84L786.50 301.85L786.75 301.86L787.00 301.85L787.25 301.83L787.50 301.79L787.75 301.73L788.00 301.65L788.25 301.55L788.50 301.44L788.75 301.30L789.00 301.14L789.25 300.97L789.50 300.78L789.75 300.57L790.00 300.34L790.25 300.09L790.50 299.83L790.75 299.56L791.00 299.27L791.25 298.97L791.50 298.65L791.75 298.32L792.00 297.97L792.25 297.62L792.50 297.25L792.75 296.87L793.00 296.48L793.25 296.07L793.50 295.66L793.75 295.24L794.00 294.81L794.25 294.37L794.50 293.92L794.75 293.46L795.00 293.00L795.25 292.52L795.50 292.04L795.75 291.55L796.00 291.05L796.25 290.55L796.50 290.04L796.75 289.53L797.00 289.01L797.25 288.48L797.50 287.95L797.75 287.41L798.00 286.87L798.25 286.33L798.50 285.78L798.75 285.23L799.00 284.67L799.25 284.11L799.50 283.54L799.75 282.97L800.00 282.39L800.25 281.81L800.50 281.23L800.75 280.63L801.00 280.04L801.25 279.44L801.50 278.83L801.75 278.21L802.00 277.59L802.25 276.97L802.50 276.34L802.75 275.70L803.00 275.05L803.25 274.40L803.50 273.74L803.75 273.08L804.00 272.40L804.25 271.72L804.50 271.04L804.75 270.34L805.00 269.64L805.25 268.93L805.50 268.21L805.75 267.49L806.00 266.75L806.25 266.01L806.50 265.26L806.75 264.50L807.00 263.73L807.25 262.96L807.50 262.17L807.75 261.38L808.00 260.57L808.25 259.76L808.50 258.94L808.75 258.11L809.00 257.26L809.25 256.41L809.50 255.55L809.75 254.68L810.00 253.80L810.25 252.91L810.50 252.00L810.75 251.09L811.00 250.17L811.25 249.24L811.50 248.29L811.75 247.34L812.00 246.38L812.25 245.42L812.50 244.44L812.75 243.46L813.00 242.47L813.25 241.47L813.50 240.47L813.75 239.46L814.00 238.44L814.25 237.42L814.50 236.39L814.75 235.36L815.00 234.33L815.25 233.29L815.50 232.25L815.75 231.21L816.00 230.16L816.25 229.11L816.50 228.06L816.75 227.00L817.00 225.95L817.25 224.89L817.50 223.83L817.75 222.77L818.00 221.72L818.25 220.66L818.50 219.60L818.75 218.55L819.00 217.49L819.25 216.44L819.50 215.39L819.75 214.34L820.00 213.30L820.25 212.25L820.50 211.21L820.75 210.17L821.00 209.14L821.25 208.11L821.50 207.08L821.75 206.05L822.00 205.03L822.25 204.01L822.50 203.00L822.75 201.99L823.00 200.98L823.25 199.98L823.50 198.99L823.75 198.00L824.00 197.01L824.25 196.03L824.50 195.06L824.75 194.09L825.00 193.13L825.25 192.17L825.50 191.22L825.75 190.28L826.00 189.35L826.25 188.42L826.50 187.49L826.75 186.58L827.00 185.67L827.25 184.77L827.50 183.88L827.75 183.00L828.00 182.12L828.25 181.26L828.50 180.40L828.75 179.55L829.00 178.71L829.25 177.87L829.50 177.05L829.75 176.24L830.00 175.44L830.25 174.64L830.50 173.86L830.75 173.09L831.00 172.32L831.25 171.57L831.50 170.83L831.75 170.10L832.00 169.38L832.25 168.67L832.50 167.97L832.75 167.28L833.00 166.61L833.25 165.95L833.50 165.30L833.75 164.66L834.00 164.03L834.25 163.41L834.50 162.81L834.75 162.22L835.00 161.64L835.25 161.07L835.50 160.52L835.75 159.98L836.00 159.45L836.25 158.93L836.50 158.43L836.75 157.93L837.00 157.45L837.25 156.99L837.50 156.53L837.75 156.08L838.00 155.65L838.25 155.23L838.50 154.81L838.75 154.41L839.00 154.02L839.25 153.64L839.50 153.27L839.75 152.90L840.00 152.55L840.25 152.21L840.50 151.88L840.75 151.56L841.00 151.26L841.25 150.97L841.50 150.70L841.75 150.44L842.00 150.21L842.25 150.00L842.50 149.82L842.75 149.66L843.00 149.55L843.25 149.46L843.50 149.42L843.75 149.41L844.00 149.44L844.25 149.50L844.50 149.59L844.75 149.72L845.00 149.87L845.25 150.05L845.50 150.25L845.75 150.47L846.00 150.70L846.25 150.95L846.50 151.21L846.75 151.48L847.00 151.76L847.25 152.05L847.50 152.35L847.75 152.65L848.00 152.97L848.25 153.29L848.50 153.62L848.75 153.95L849.00 154.30L849.25 154.65L849.50 155.01L849.75 155.38L850.00 155.75L850.25 156.14L850.50 156.53L850.75 156.93L851.00 157.34L851.25 157.75L851.50 158.18L851.75 158.61L852.00 159.05L852.25 159.50L852.50 159.96L852.75 160.43L853.00 160.90L853.25 161.38L853.50 161.88L853.75 162.38L854.00 162.88L854.25 163.40L854.50 163.92L854.75 164.45L855.00 164.99L855.25 165.54L855.50 166.09L855.75 166.66L856.00 167.23L856.25 167.80L856.50 168.39L856.75 168.98L857.00 169.58L857.25 170.18L857.50 170.80L857.75 171.42L858.00 172.04L858.25 172.67L858.50 173.31L858.75 173.96L859.00 174.61L859.25 175.26L859.50 175.93L859.75 176.60L860.00 177.27L860.25 177.95L860.50 178.64L860.75 179.33L861.00 180.02L861.25 180.72L861.50 181.43L861.75 182.14L862.00 182.85L862.25 183.57L862.50 184.30L862.75 185.03L863.00 185.77L863.25 186.51L863.50 187.26L863.75 188.02L864.00 188.78L864.25 189.55L864.50 190.32L864.75 191.11L865.00 191.89L865.25 192.69L865.50 193.49L865.75 194.30L866.00 195.12L866.25 195.95L866.50 196.78L866.75 197.62L867.00 198.47L867.25 199.32L867.50 200.19L867.75 201.06L868.00 201.94L868.25 202.84L868.50 203.73L868.75 204.64L869.00 205.56L869.25 206.49L869.50 207.42L869.75 208.37L870.00 209.33L870.25 210.29L870.50 211.27L870.75 212.25L871.00 213.25L871.25 214.26L871.50 215.27L871.75 216.30L872.00 217.34L872.25 218.39L872.50 219.45L872.75 220.52L873.00 221.59L873.25 222.68L873.50 223.77L873.75 224.87L874.00 225.97L874.25 227.08L874.50 228.19L874.75 229.31L875.00 230.43L875.25 231.55L875.50 232.68L875.75 233.81L876.00 234.94L876.25 236.07L876.50 237.20L876.75 238.32L877.00 239.45L877.25 240.58L877.50 241.70L877.75 242.82L878.00 243.93L878.25 245.04L878.50 246.15L878.75 247.25L879.00 248.34L879.25 249.42L879.50 250.50L879.75 251.58L880.00 252.64L880.25 253.70L880.50 254.75L880.75 255.79L881.00 256.83L881.25 257.86L881.50 258.88L881.75 259.90L882.00 260.90L882.25 261.90L882.50 262.89L882.75 263.87L883.00 264.85L883.25 265.82L883.50 266.78L883.75 267.73L884.00 268.67L884.25 269.60L884.50 270.53L884.75 271.45L885.00 272.35L885.25 273.25L885.50 274.14L885.75 275.03L886.00 275.90L886.25 276.76L886.50 277.62L886.75 278.46L887.00 279.30L887.25 280.12L887.50 280.94L887.75 281.75L888.00 282.55L888.25 283.33L888.50 284.11L888.75 284.88L889.00 285.64L889.25 286.38L889.50 287.12L889.75 287.85L890.00 288.56L890.25 289.27L890.50 289.96L890.75 290.65L891.00 291.32L891.25 291.98L891.50 292.64L891.75 293.28L892.00 293.90L892.25 294.52L892.50 295.13L892.75 295.72L893.00 296.30L893.25 296.87L893.50 297.43L893.75 297.98L894.00 298.51L894.25 299.03L894.50 299.54L894.75 300.03L895.00 300.51L895.25 300.98L895.50 301.44L895.75 301.88L896.00 302.31L896.25 302.72L896.50 303.12L896.75 303.50L897.00 303.87L897.25 304.23L897.50 304.57L897.75 304.89L898.00 305.19L898.25 305.48L898.50 305.74L898.75 305.99L899.00 306.21L899.25 306.41L899.50 306.59L899.75 306.75L900.00 306.88L900.25 306.98L900.50 307.06L900.75 307.12L901.00 307.15L901.25 307.16L901.50 307.14L901.75 307.11L902.00 307.07L902.25 307.02L902.50 306.97L902.75 306.93L903.00 306.91L903.25 306.91L903.50 306.92L903.75 306.97L904.00 307.02L904.25 307.09L904.50 307.16L904.75 307.21L905.00 307.25L905.25 307.27L905.50 307.26L905.75 307.22L906.00 307.14L906.25 307.02L906.50 306.86L906.75 306.67L907.00 306.44L907.25 306.18L907.50 305.88L907.75 305.54L908.00 305.17L908.25 304.77L908.50 304.33L908.75 303.86L909.00 303.36L909.25 302.83L909.50 302.27L909.75 301.70L910.00 301.10L910.25 300.48L910.50 299.84L910.75 299.19L911.00 298.52L911.25 297.83L911.50 297.14L911.75 296.43L912.00 295.71L912.25 294.98L912.50 294.25L912.75 293.50L913.00 292.76L913.25 292.00L913.50 291.25L913.75 290.49L914.00 289.74L914.25 288.98L914.50 288.22L914.75 287.47L915.00 286.72L915.25 285.98L915.50 285.24L915.75 284.52L916.00 283.79L916.25 283.08L916.50 282.37L916.75 281.66L917.00 280.96L917.25 280.27L917.50 279.58L917.75 278.89L918.00 278.21L918.25 277.53L918.50 276.85L918.75 276.17L919.00 275.49L919.25 274.81L919.50 274.14L919.75 273.46L920.00 272.78L920.25 272.10L920.50 271.42L920.75 270.73L921.00 270.05L921.25 269.36L921.50 268.66L921.75 267.96L922.00 267.25L922.25 266.54L922.50 265.82L922.75 265.10L923.00 264.37L923.25 263.63L923.50 262.88L923.75 262.12L924.00 261.36L924.25 260.58L924.50 259.80L924.75 259.01L925.00 258.21L925.25 257.40L925.50 256.58L925.75 255.74L926.00 254.90L926.25 254.05L926.50 253.18L926.75 252.31L927.00 251.42L927.25 250.52L927.50 249.61L927.75 248.69L928.00 247.75L928.25 246.80L928.50 245.84L928.75 244.86L929.00 243.87L929.25 242.86L929.50 241.85L929.75 240.81L930.00 239.77L930.25 238.70L930.50 237.63L930.75 236.54L931.00 235.45L931.25 234.34L931.50 233.22L931.75 232.09L932.00 230.95L932.25 229.81L932.50 228.65L932.75 227.49L933.00 226.32L933.25 225.15L933.50 223.97L933.75 222.79L934.00 221.60L934.25 220.41L934.50 219.22L934.75 218.03L935.00 216.83L935.25 215.63L935.50 214.44L935.75 213.24L936.00 212.05L936.25 210.85L936.50 209.66L936.75 208.47L937.00 207.29L937.25 206.11L937.50 204.93L937.75 203.76L938.00 202.60L938.25 201.44L938.50 200.29L938.75 199.15L939.00 198.02L939.25 196.89L939.50 195.78L939.75 194.68L940.00 193.59L940.25 192.50L940.50 191.44L940.75 190.38L941.00 189.34L941.25 188.30L941.50 187.28L941.75 186.28L942.00 185.28L942.25 184.30L942.50 183.33L942.75 182.37L943.00 181.43L943.25 180.50L943.50 179.58L943.75 178.67L944.00 177.78L944.25 176.90L944.50 176.03L944.75 175.17L945.00 174.33L945.25 173.50L945.50 172.69L945.75 171.88L946.00 171.09L946.25 170.32L946.50 169.55L946.75 168.80L947.00 168.06L947.25 167.34L947.50 166.63L947.75 165.93L948.00 165.24L948.25 164.57L948.50 163.91L948.75 163.27L949.00 162.63L949.25 162.01L949.50 161.41L949.75 160.81L950.00 160.23L950.25 159.67L950.50 159.11L950.75 158.57L951.00 158.04L951.25 157.52L951.50 157.02L951.75 156.52L952.00 156.05L952.25 155.58L952.50 155.12L952.75 154.68L953.00 154.24L953.25 153.82L953.50 153.41L953.75 153.01L954.00 152.62L954.25 152.24L954.50 151.87L954.75 151.51L955.00 151.16L955.25 150.82L955.50 150.49L955.75 150.16L956.00 149.85L956.25 149.55L956.50 149.25L956.75 148.97L957.00 148.69L957.25 148.43L957.50 148.18L957.75 147.93L958.00 147.70L958.25 147.48L958.50 147.28L958.75 147.08L959.00 146.90L959.25 146.74L959.50 146.59L959.75 146.45L960.00 146.33L960.25 146.22L960.50 146.13L960.75 146.06L961.00 146.00L961.25 145.95L961.50 145.92L961.75 145.90L962.00 145.90L962.25 145.91L962.50 145.93L962.75 145.97L963.00 146.01L963.25 146.07L963.50 146.13L963.75 146.21L964.00 146.30L964.25 146.40L964.50 146.51L964.75 146.64L965.00 146.78L965.25 146.93L965.50 147.10L965.75 147.29L966.00 147.49L966.25 147.70L966.50 147.92L966.75 148.16L967.00 148.41L967.25 148.68L967.50 148.95L967.75 149.24L968.00 149.54L968.25 149.85L968.50 150.17L968.75 150.51L969.00 150.85L969.25 151.20L969.50 151.57L969.75 151.95L970.00 152.33L970.25 152.73L970.50 153.15L970.75 153.57L971.00 154.01L971.25 154.46L971.50 154.92L971.75 155.40L972.00 155.89L972.25 156.40L972.50 156.92L972.75 157.46L973.00 158.01L973.25 158.58L973.50 159.17L973.75 159.78L974.00 160.40L974.25 161.05L974.50 161.71L974.75 162.39L975.00 163.09L975.25 163.81L975.50 164.56L975.75 165.32L976.00 166.11L976.25 166.91L976.50 167.74L976.75 168.59L977.00 169.46L977.25 170.35L977.50 171.25L977.75 172.18L978.00 173.13L978.25 174.09L978.50 175.07L978.75 176.07L979.00 177.09L979.25 178.12L979.50 179.18L979.75 180.24L980.00 181.32L980.25 182.42L980.50 183.54L980.75 184.66L981.00 185.80L981.25 186.96L981.50 188.13L981.75 189.31L982.00 190.50L982.25 191.71L982.50 192.93L982.75 194.16L983.00 195.40L983.25 196.64L983.50 197.90L983.75 199.17L984.00 200.45L984.25 201.74L984.50 203.03L984.75 204.34L985.00 205.65L985.25 206.96L985.50 208.29L985.75 209.62L986.00 210.95L986.25 212.29L986.50 213.64L986.75 214.99L987.00 216.34L987.25 217.70L987.50 219.06L987.75 220.42L988.00 221.79L988.25 223.15L988.50 224.52L988.75 225.89L989.00 227.26L989.25 228.63L989.50 230.00L989.75 231.37L990.00 232.74L990.25 234.10L990.50 235.47L990.75 236.83L991.00 238.19L991.25 239.54L991.50 240.89L991.75 242.24L992.00 243.58L992.25 244.92L992.50 246.25L992.75 247.58L993.00 248.89L993.25 250.21L993.50 251.51L993.75 252.81L994.00 254.10L994.25 255.38L994.50 256.65L994.75 257.91L995.00 259.16L995.25 260.41L995.50 261.64L995.75 262.86L996.00 264.07L996.25 265.27L996.50 266.45L996.75 267.63L997.00 268.79L997.25 269.95L997.50 271.09L997.75 272.22L998.00 273.34L998.25 274.45L998.50 275.55L998.75 276.64L999.00 277.71L999.25 278.77L999.50 279.82L999.75 280.86L1000.00 281.89L1000.25 282.90L1000.50 283.91L1000.75 284.90L1001.00 285.88L1001.25 286.85L1001.50 287.80L1001.75 288.74L1002.00 289.67L1002.25 290.59L1002.50 291.50L1002.75 292.39L1003.00 293.27L1003.25 294.14L1003.50 294.99L1003.75 295.84L1004.00 296.66L1004.25 297.48L1004.50 298.28L1004.75 299.07L1005.00 299.85L1005.25 300.61L1005.50 301.36L1005.75 302.10L1006.00 302.83L1006.25 303.53L1006.50 304.23L1006.75 304.91L1007.00 305.58L1007.25 306.24L1007.50 306.88L1007.75 307.50L1008.00 308.11L1008.25 308.71L1008.50 309.29L1008.75 309.86L1009.00 310.41L1009.25 310.95L1009.50 311.47L1009.75 311.98L1010.00 312.47L1010.25 312.95L1010.50 313.41L1010.75 313.85L1011.00 314.28L1011.25 314.69L1011.50 315.09L1011.75 315.46L1012.00 315.82L1012.25 316.16L1012.50 316.49L1012.75 316.79L1013.00 317.08L1013.25 317.35L1013.50 317.59L1013.75 317.82L1014.00 318.03L1014.25 318.22L1014.50 318.38L1014.75 318.53L1015.00 318.65L1015.25 318.75L1015.50 318.83L1015.75 318.89L1016.00 318.94L1016.25 318.96L1016.50 318.97L1016.75 318.96L1017.00 318.95L1017.25 318.92L1017.50 318.89L1017.75 318.86L1018.00 318.84L1018.25 318.82L1018.50 318.81L1018.75 318.81L1019.00 318.82L1019.25 318.84L1019.50 318.87L1019.75 318.90L1020.00 318.93L1020.25 318.96L1020.50 318.98L1020.75 318.99L1021.00 318.98L1021.25 318.96L1021.50 318.91L1021.75 318.84L1022.00 318.75L1022.25 318.64L1022.50 318.50L1022.75 318.34L1023.00 318.16L1023.25 317.96L1023.50 317.74L1023.75 317.50L1024.00 317.24L1024.25 316.96L1024.50 316.67L1024.75 316.35L1025.00 316.02L1025.25 315.67L1025.50 315.31L1025.75 314.93L1026.00 314.54L1026.25 314.13L1026.50 313.70L1026.75 313.26L1027.00 312.81L1027.25 312.35L1027.50 311.87L1027.75 311.38L1028.00 310.87L1028.25 310.36L1028.50 309.83L1028.75 309.29L1029.00 308.74L1029.25 308.18L1029.50 307.61L1029.75 307.03L1030.00 306.43L1030.25 305.83L1030.50 305.22L1030.75 304.60L1031.00 303.97L1031.25 303.32L1031.50 302.68L1031.75 302.02L1032.00 301.35L1032.25 300.68L1032.50 299.99L1032.75 299.30L1033.00 298.60L1033.25 297.90L1033.50 297.18L1033.75 296.46L1034.00 295.74L1034.25 295.00L1034.50 294.26L1034.75 293.52L1035.00 292.77L1035.25 292.01L1035.50 291.24L1035.75 290.47L1036.00 289.70L1036.25 288.92L1036.50 288.14L1036.75 287.35L1037.00 286.55L1037.25 285.76L1037.50 284.95L1037.75 284.15L1038.00 283.34L1038.25 282.52L1038.50 281.71L1038.75 280.89L1039.00 280.07L1039.25 279.24L1039.50 278.41L1039.75 277.58L1040.00 276.75L1040.25 275.92L1040.50 275.08L1040.75 274.24L1041.00 273.40L1041.00 273.40M146.00 236.75L146.25 236.91L146.50 237.07L146.75 237.22L147.00 237.37L147.25 237.52L147.50 237.66L147.75 237.80L148.00 237.93L148.25 238.07L148.50 238.20L148.75 238.33L149.00 238.45L149.25 238.57L149.50 238.69L149.75 238.81L150.00 238.92L150.25 239.04L150.50 239.14L150.75 239.25L151.00 239.35L151.25 239.46L151.50 239.55L151.75 239.65L152.00 239.74L152.25 239.84L152.50 239.93L152.75 240.01L153.00 240.10L153.25 240.18L153.50 240.26L153.75 240.34L154.00 240.42L154.25 240.49L154.50 240.57L154.75 240.64L155.00 240.71L155.25 240.78L155.50 240.84L155.75 240.91L156.00 240.97L156.25 241.03L156.50 241.09L156.75 241.15L157.00 241.21L157.25 241.26L157.50 241.32L157.75 241.37L158.00 241.42L158.25 241.47L158.50 241.52L158.75 241.57L159.00 241.62L159.25 241.67L159.50 241.71L159.75 241.75L160.00 241.80L160.25 241.84L160.50 241.88L160.75 241.92L161.00 241.96L161.25 242.00L161.50 242.04L161.75 242.08L162.00 242.12L162.25 242.16L162.50 242.19L162.75 242.23L163.00 242.27L163.25 242.30L163.50 242.34L163.75 242.37L164.00 242.41L164.25 242.45L164.50 242.48L164.75 242.52L165.00 242.55L165.25 242.59L165.50 242.62L165.75 242.66L166.00 242.69L166.25 242.73L166.50 242.77L166.75 242.80L167.00 242.84L167.25 242.88L167.50 242.91L167.75 242.95L168.00 242.99L168.25 243.03L168.50 243.07L168.75 243.11L169.00 243.15L169.25 243.20L169.50 243.24L169.75 243.28L170.00 243.33L170.25 243.37L170.50 243.42L170.75 243.47L171.00 243.52L171.25 243.57L171.50 243.62L171.75 243.67L172.00 243.72L172.25 243.78L172.50 243.84L172.75 243.89L173.00 243.95L173.25 244.01L173.50 244.08L173.75 244.14L174.00 244.21L174.25 244.27L174.50 244.34L174.75 244.41L175.00 244.49L175.25 244.56L175.50 244.64L175.75 244.71L176.00 244.79L176.25 244.88L176.50 244.96L176.75 245.04L177.00 245.13L177.25 245.22L177.50 245.31L177.75 245.40L178.00 245.49L178.25 245.58L178.50 245.68L178.75 245.77L179.00 245.87L179.25 245.97L179.50 246.07L179.75 246.17L180.00 246.28L180.25 246.38L180.50 246.48L180.75 246.59L181.00 246.70L181.25 246.80L181.50 246.91L181.75 247.02L182.00 247.13L182.25 247.24L182.50 247.35L182.75 247.47L183.00 247.58L183.25 247.69L183.50 247.81L183.75 247.92L184.00 248.04L184.25 248.15L184.50 248.27L184.75 248.39L185.00 248.50L185.25 248.62L185.50 248.74L185.75 248.86L186.00 248.98L186.25 249.09L186.50 249.21L186.75 249.33L187.00 249.45L187.25 249.57L187.50 249.69L187.75 249.81L188.00 249.93L188.25 250.05L188.50 250.16L188.75 250.28L189.00 250.40L189.25 250.52L189.50 250.64L189.75 250.75L190.00 250.87L190.25 250.99L190.50 251.10L190.75 251.22L191.00 251.33L191.25 251.45L191.50 251.56L191.75 251.68L192.00 251.79L192.25 251.90L192.50 252.01L192.75 252.12L193.00 252.23L193.25 252.34L193.50 252.45L193.75 252.55L194.00 252.66L194.25 252.76L194.50 252.87L194.75 252.97L195.00 253.07L195.25 253.17L195.50 253.27L195.75 253.37L196.00 253.47L196.25 253.56L196.50 253.66L196.75 253.75L197.00 253.84L197.25 253.93L197.50 254.02L197.75 254.10L198.00 254.19L198.25 254.27L198.50 254.35L198.75 254.43L199.00 254.51L199.25 254.59L199.50 254.66L199.75 254.74L200.00 254.81L200.25 254.88L200.50 254.94L200.75 255.01L201.00 255.07L201.25 255.13L201.50 255.19L201.75 255.25L202.00 255.31L202.25 255.36L202.50 255.41L202.75 255.46L203.00 255.51L203.25 255.56L203.50 255.60L203.75 255.65L204.00 255.69L204.25 255.73L204.50 255.77L204.75 255.80L205.00 255.84L205.25 255.87L205.50 255.90L205.75 255.93L206.00 255.96L206.25 255.99L206.50 256.01L206.75 256.03L207.00 256.06L207.25 256.08L207.50 256.09L207.75 256.11L208.00 256.13L208.25 256.14L208.50 256.15L208.75 256.16L209.00 256.17L209.25 256.18L209.50 256.18L209.75 256.19L210.00 256.19L210.25 256.19L210.50 256.19L210.75 256.19L211.00 256.19L211.25 256.18L211.50 256.18L211.75 256.17L212.00 256.16L212.25 256.15L212.50 256.14L212.75 256.13L213.00 256.11L213.25 256.10L213.50 256.08L213.75 256.06L214.00 256.04L214.25 256.02L214.50 256.00L214.75 255.98L215.00 255.95L215.25 255.93L215.50 255.90L215.75 255.87L216.00 255.84L216.25 255.81L216.50 255.78L216.75 255.75L217.00 255.71L217.25 255.68L217.50 255.64L217.75 255.60L218.00 255.56L218.25 255.52L218.50 255.48L218.75 255.44L219.00 255.40L219.25 255.35L219.50 255.31L219.75 255.26L220.00 255.22L220.25 255.17L220.50 255.12L220.75 255.07L221.00 255.02L221.25 254.96L221.50 254.91L221.75 254.86L222.00 254.80L222.25 254.74L222.50 254.69L222.75 254.63L223.00 254.57L223.25 254.51L223.50 254.45L223.75 254.39L224.00 254.33L224.25 254.26L224.50 254.20L224.75 254.13L225.00 254.07L225.25 254.00L225.50 253.93L225.75 253.87L226.00 253.80L226.25 253.73L226.50 253.66L226.75 253.59L227.00 253.51L227.25 253.44L227.50 253.37L227.75 253.29L228.00 253.22L228.25 253.14L228.50 253.07L228.75 252.99L229.00 252.91L229.25 252.84L229.50 252.76L229.75 252.68L230.00 252.60L230.25 252.52L230.50 252.44L230.75 252.36L231.00 252.28L231.25 252.19L231.50 252.11L231.75 252.03L232.00 251.94L232.25 251.86L232.50 251.77L232.75 251.69L233.00 251.60L233.25 251.52L233.50 251.43L233.75 251.34L234.00 251.25L234.25 251.17L234.50 251.08L234.75 250.99L235.00 250.90L235.25 250.81L235.50 250.72L235.75 250.63L236.00 250.54L236.25 250.45L236.50 250.36L236.75 250.27L237.00 250.18L237.25 250.08L237.50 249.99L237.75 249.90L238.00 249.81L238.25 249.71L238.50 249.62L238.75 249.53L239.00 249.44L239.25 249.34L239.50 249.25L239.75 249.15L240.00 249.06L240.25 248.97L240.50 248.87L240.75 248.78L241.00 248.68L241.25 248.59L241.50 248.50L241.75 248.40L242.00 248.31L242.25 248.21L242.50 248.12L242.75 248.02L243.00 247.93L243.25 247.84L243.50 247.74L243.75 247.65L244.00 247.56L244.25 247.46L244.50 247.37L244.75 247.27L245.00 247.18L245.25 247.09L245.50 247.00L245.75 246.90L246.00 246.81L246.25 246.72L246.50 246.63L246.75 246.53L247.00 246.44L247.25 246.35L247.50 246.26L247.75 246.17L248.00 246.08L248.25 245.99L248.50 245.90L248.75 245.81L249.00 245.72L249.25 245.63L249.50 245.54L249.75 245.46L250.00 245.37L250.25 245.28L250.50 245.19L250.75 245.11L251.00 245.02L251.25 244.94L251.50 244.85L251.75 244.77L252.00 244.68L252.25 244.60L252.50 244.52L252.75 244.43L253.00 244.35L253.25 244.27L253.50 244.19L253.75 244.11L254.00 244.03L254.25 243.95L254.50 243.87L254.75 243.80L255.00 243.72L255.25 243.64L255.50 243.57L255.75 243.49L256.00 243.42L256.25 243.35L256.50 243.27L256.75 243.20L257.00 243.13L257.25 243.06L257.50 242.99L257.75 242.92L258.00 242.85L258.25 242.79L258.50 242.72L258.75 242.65L259.00 242.59L259.25 242.53L259.50 242.46L259.75 242.40L260.00 242.34L260.25 242.28L260.50 242.22L260.75 242.16L261.00 242.11L261.25 242.05L261.50 242.00L261.75 241.94L262.00 241.89L262.25 241.84L262.50 241.78L262.75 241.73L263.00 241.69L263.25 241.64L263.50 241.59L263.75 241.55L264.00 241.50L264.25 241.46L264.50 241.42L264.75 241.37L265.00 241.33L265.25 241.30L265.50 241.26L265.75 241.22L266.00 241.19L266.25 241.15L266.50 241.12L266.75 241.09L267.00 241.06L267.25 241.03L267.50 241.00L267.75 240.97L268.00 240.95L268.25 240.93L268.50 240.90L268.75 240.88L269.00 240.86L269.25 240.84L269.50 240.83L269.75 240.81L270.00 240.80L270.25 240.78L270.50 240.77L270.75 240.76L271.00 240.75L271.25 240.75L271.50 240.74L271.75 240.74L272.00 240.74L272.25 240.73L272.50 240.73L272.75 240.74L273.00 240.74L273.25 240.74L273.50 240.75L273.75 240.76L274.00 240.77L274.25 240.78L274.50 240.79L274.75 240.81L275.00 240.82L275.25 240.84L275.50 240.86L275.75 240.88L276.00 240.90L276.25 240.93L276.50 240.95L276.75 240.98L277.00 241.01L277.25 241.04L277.50 241.07L277.75 241.11L278.00 241.14L278.25 241.18L278.50 241.22L278.75 241.26L279.00 241.30L279.25 241.35L279.50 241.40L279.75 241.44L280.00 241.49L280.25 241.55L280.50 241.60L280.75 241.66L281.00 241.71L281.25 241.77L281.50 241.83L281.75 241.90L282.00 241.96L282.25 242.03L282.50 242.10L282.75 242.17L283.00 242.24L283.25 242.32L283.50 242.39L283.75 242.47L284.00 242.55L284.25 242.63L284.50 242.72L284.75 242.80L285.00 242.89L285.25 242.97L285.50 243.06L285.75 243.16L286.00 243.25L286.25 243.34L286.50 243.44L286.75 243.54L287.00 243.63L287.25 243.73L287.50 243.84L287.75 243.94L288.00 244.04L288.25 244.15L288.50 244.25L288.75 244.36L289.00 244.47L289.25 244.58L289.50 244.69L289.75 244.81L290.00 244.92L290.25 245.03L290.50 245.15L290.75 245.27L291.00 245.38L291.25 245.50L291.50 245.62L291.75 245.74L292.00 245.87L292.25 245.99L292.50 246.11L292.75 246.24L293.00 246.36L293.25 246.49L293.50 246.61L293.75 246.74L294.00 246.87L294.25 246.99L294.50 247.12L294.75 247.25L295.00 247.38L295.25 247.51L295.50 247.64L295.75 247.78L296.00 247.91L296.25 248.04L296.50 248.17L296.75 248.31L297.00 248.44L297.25 248.57L297.50 248.71L297.75 248.84L298.00 248.98L298.25 249.11L298.50 249.25L298.75 249.38L299.00 249.52L299.25 249.65L299.50 249.79L299.75 249.92L300.00 250.06L300.25 250.19L300.50 250.33L300.75 250.46L301.00 250.60L301.25 250.73L301.50 250.87L301.75 251.00L302.00 251.13L302.25 251.27L302.50 251.40L302.75 251.54L303.00 251.67L303.25 251.80L303.50 251.93L303.75 252.07L304.00 252.20L304.25 252.33L304.50 252.46L304.75 252.59L305.00 252.72L305.25 252.85L305.50 252.98L305.75 253.10L306.00 253.23L306.25 253.36L306.50 253.48L306.75 253.61L307.00 253.73L307.25 253.86L307.50 253.98L307.75 254.10L308.00 254.22L308.25 254.34L308.50 254.46L308.75 254.58L309.00 254.70L309.25 254.81L309.50 254.93L309.75 255.04L310.00 255.15L310.25 255.27L310.50 255.38L310.75 255.49L311.00 255.59L311.25 255.70L311.50 255.81L311.75 255.91L312.00 256.01L312.25 256.11L312.50 256.21L312.75 256.31L313.00 256.41L313.25 256.50L313.50 256.60L313.75 256.69L314.00 256.78L314.25 256.87L314.50 256.96L314.75 257.04L315.00 257.13L315.25 257.21L315.50 257.29L315.75 257.37L316.00 257.44L316.25 257.52L316.50 257.59L316.75 257.66L317.00 257.73L317.25 257.79L317.50 257.86L317.75 257.92L318.00 257.98L318.25 258.04L318.50 258.09L318.75 258.15L319.00 258.20L319.25 258.25L319.50 258.29L319.75 258.33L320.00 258.38L320.25 258.41L320.50 258.45L320.75 258.48L321.00 258.52L321.25 258.54L321.50 258.57L321.75 258.60L322.00 258.62L322.25 258.64L322.50 258.65L322.75 258.67L323.00 258.68L323.25 258.69L323.50 258.70L323.75 258.71L324.00 258.71L324.25 258.71L324.50 258.71L324.75 258.71L325.00 258.71L325.25 258.70L325.50 258.69L325.75 258.68L326.00 258.67L326.25 258.66L326.50 258.64L326.75 258.62L327.00 258.60L327.25 258.58L327.50 258.55L327.75 258.53L328.00 258.50L328.25 258.47L328.50 258.44L328.75 258.40L329.00 258.37L329.25 258.33L329.50 258.29L329.75 258.25L330.00 258.21L330.25 258.16L330.50 258.12L330.75 258.07L331.00 258.02L331.25 257.97L331.50 257.91L331.75 257.86L332.00 257.80L332.25 257.75L332.50 257.69L332.75 257.63L333.00 257.57L333.25 257.50L333.50 257.44L333.75 257.37L334.00 257.30L334.25 257.23L334.50 257.16L334.75 257.09L335.00 257.02L335.25 256.94L335.50 256.86L335.75 256.79L336.00 256.71L336.25 256.63L336.50 256.55L336.75 256.46L337.00 256.38L337.25 256.29L337.50 256.21L337.75 256.12L338.00 256.03L338.25 255.94L338.50 255.85L338.75 255.76L339.00 255.66L339.25 255.57L339.50 255.47L339.75 255.38L340.00 255.28L340.25 255.18L340.50 255.08L340.75 254.98L341.00 254.88L341.25 254.77L341.50 254.67L341.75 254.57L342.00 254.46L342.25 254.35L342.50 254.25L342.75 254.14L343.00 254.03L343.25 253.92L343.50 253.81L343.75 253.70L344.00 253.58L344.25 253.47L344.50 253.36L344.75 253.24L345.00 253.13L345.25 253.01L345.50 252.90L345.75 252.78L346.00 252.66L346.25 252.54L346.50 252.42L346.75 252.30L347.00 252.18L347.25 252.06L347.50 251.94L347.75 251.82L348.00 251.69L348.25 251.57L348.50 251.45L348.75 251.32L349.00 251.20L349.25 251.07L349.50 250.95L349.75 250.82L350.00 250.69L350.25 250.57L350.50 250.44L350.75 250.31L351.00 250.18L351.25 250.05L351.50 249.93L351.75 249.80L352.00 249.67L352.25 249.54L352.50 249.41L352.75 249.28L353.00 249.15L353.25 249.02L353.50 248.89L353.75 248.76L354.00 248.62L354.25 248.49L354.50 248.36L354.75 248.23L355.00 248.10L355.25 247.97L355.50 247.84L355.75 247.70L356.00 247.57L356.25 247.44L356.50 247.31L356.75 247.18L357.00 247.05L357.25 246.91L357.50 246.78L357.75 246.65L358.00 246.52L358.25 246.39L358.50 246.26L358.75 246.12L359.00 245.99L359.25 245.86L359.50 245.73L359.75 245.60L360.00 245.47L360.25 245.34L360.50 245.21L360.75 245.08L361.00 244.95L361.25 244.82L361.50 244.69L361.75 244.56L362.00 244.44L362.25 244.31L362.50 244.18L362.75 244.05L363.00 243.93L363.25 243.80L363.50 243.67L363.75 243.55L364.00 243.42L364.25 243.30L364.50 243.17L364.75 243.05L365.00 242.93L365.25 242.80L365.50 242.68L365.75 242.56L366.00 242.44L366.25 242.32L366.50 242.20L366.75 242.08L367.00 241.96L367.25 241.84L367.50 241.72L367.75 241.60L368.00 241.49L368.25 241.37L368.50 241.26L368.75 241.14L369.00 241.03L369.25 240.92L369.50 240.80L369.75 240.69L370.00 240.58L370.25 240.47L370.50 240.36L370.75 240.26L371.00 240.15L371.25 240.04L371.50 239.94L371.75 239.83L372.00 239.73L372.25 239.63L372.50 239.52L372.75 239.42L373.00 239.32L373.25 239.22L373.50 239.12L373.75 239.03L374.00 238.93L374.25 238.84L374.50 238.74L374.75 238.65L375.00 238.56L375.25 238.47L375.50 238.38L375.75 238.29L376.00 238.20L376.25 238.11L376.50 238.03L376.75 237.94L377.00 237.86L377.25 237.78L377.50 237.70L377.75 237.62L378.00 237.54L378.25 237.46L378.50 237.39L378.75 237.31L379.00 237.24L379.25 237.17L379.50 237.10L379.75 237.03L380.00 236.96L380.25 236.89L380.50 236.83L380.75 236.76L381.00 236.70L381.25 236.64L381.50 236.58L381.75 236.52L382.00 236.46L382.25 236.40L382.50 236.35L382.75 236.30L383.00 236.25L383.25 236.19L383.50 236.15L383.75 236.10L384.00 236.05L384.25 236.01L384.50 235.97L384.75 235.92L385.00 235.88L385.25 235.85L385.50 235.81L385.75 235.77L386.00 235.74L386.25 235.71L386.50 235.68L386.75 235.65L387.00 235.62L387.25 235.60L387.50 235.57L387.75 235.55L388.00 235.53L388.25 235.51L388.50 235.49L388.75 235.47L389.00 235.46L389.25 235.45L389.50 235.44L389.75 235.43L390.00 235.42L390.25 235.41L390.50 235.41L390.75 235.41L391.00 235.41L391.25 235.41L391.50 235.41L391.75 235.41L392.00 235.42L392.25 235.43L392.50 235.44L392.75 235.45L393.00 235.46L393.25 235.48L393.50 235.49L393.75 235.51L394.00 235.53L394.25 235.56L394.50 235.58L394.75 235.61L395.00 235.64L395.25 235.67L395.50 235.70L395.75 235.73L396.00 235.77L396.25 235.81L396.50 235.84L396.75 235.89L397.00 235.93L397.25 235.98L397.50 236.02L397.75 236.07L398.00 236.13L398.25 236.18L398.50 236.24L398.75 236.29L399.00 236.35L399.25 236.42L399.50 236.48L399.75 236.55L400.00 236.62L400.25 236.69L400.50 236.76L400.75 236.84L401.00 236.92L401.25 237.00L401.50 237.08L401.75 237.17L402.00 237.25L402.25 237.34L402.50 237.44L402.75 237.53L403.00 237.63L403.25 237.73L403.50 237.83L403.75 237.93L404.00 238.04L404.25 238.14L404.50 238.25L404.75 238.37L405.00 238.48L405.25 238.60L405.50 238.71L405.75 238.83L406.00 238.96L406.25 239.08L406.50 239.21L406.75 239.33L407.00 239.46L407.25 239.60L407.50 239.73L407.75 239.87L408.00 240.00L408.25 240.14L408.50 240.28L408.75 240.42L409.00 240.57L409.25 240.71L409.50 240.86L409.75 241.01L410.00 241.16L410.25 241.31L410.50 241.47L410.75 241.62L411.00 241.78L411.25 241.94L411.50 242.10L411.75 242.26L412.00 242.42L412.25 242.59L412.50 242.75L412.75 242.92L413.00 243.08L413.25 243.25L413.50 243.42L413.75 243.60L414.00 243.77L414.25 243.94L414.50 244.12L414.75 244.29L415.00 244.47L415.25 244.65L415.50 244.83L415.75 245.01L416.00 245.19L416.25 245.37L416.50 245.55L416.75 245.74L417.00 245.92L417.25 246.11L417.50 246.29L417.75 246.48L418.00 246.67L418.25 246.85L418.50 247.04L418.75 247.23L419.00 247.42L419.25 247.62L419.50 247.81L419.75 248.00L420.00 248.19L420.25 248.38L420.50 248.58L420.75 248.77L421.00 248.97L421.25 249.16L421.50 249.36L421.75 249.55L422.00 249.75L422.25 249.94L422.50 250.14L422.75 250.34L423.00 250.53L423.25 250.73L423.50 250.93L423.75 251.12L424.00 251.32L424.25 251.52L424.50 251.72L424.75 251.91L425.00 252.11L425.25 252.31L425.50 252.51L425.75 252.70L426.00 252.90L426.25 253.10L426.50 253.29L426.75 253.49L427.00 253.69L427.25 253.88L427.50 254.08L427.75 254.28L428.00 254.47L428.25 254.67L428.50 254.86L428.75 255.05L429.00 255.25L429.25 255.44L429.50 255.63L429.75 255.83L430.00 256.02L430.25 256.21L430.50 256.40L430.75 256.59L431.00 256.78L431.25 256.97L431.50 257.16L431.75 257.34L432.00 257.53L432.25 257.71L432.50 257.90L432.75 258.08L433.00 258.27L433.25 258.45L433.50 258.63L433.75 258.81L434.00 258.99L434.25 259.17L434.50 259.35L434.75 259.52L435.00 259.70L435.25 259.87L435.50 260.05L435.75 260.22L436.00 260.39L436.25 260.56L436.50 260.73L436.75 260.90L437.00 261.07L437.25 261.23L437.50 261.40L437.75 261.56L438.00 261.72L438.25 261.88L438.50 262.03L438.75 262.19L439.00 262.34L439.25 262.49L439.50 262.64L439.75 262.78L440.00 262.93L440.25 263.06L440.50 263.20L440.75 263.34L441.00 263.47L441.25 263.59L441.50 263.72L441.75 263.84L442.00 263.96L442.25 264.07L442.50 264.18L442.75 264.29L443.00 264.39L443.25 264.49L443.50 264.58L443.75 264.67L444.00 264.75L444.25 264.83L444.50 264.90L444.75 264.97L445.00 265.03L445.25 265.08L445.50 265.13L445.75 265.17L446.00 265.21L446.25 265.24L446.50 265.26L446.75 265.28L447.00 265.28L447.25 265.28L447.50 265.27L447.75 265.26L448.00 265.23L448.25 265.20L448.50 265.16L448.75 265.11L449.00 265.05L449.25 264.98L449.50 264.91L449.75 264.83L450.00 264.74L450.25 264.65L450.50 264.54L450.75 264.43L451.00 264.32L451.25 264.20L451.50 264.07L451.75 263.94L452.00 263.80L452.25 263.66L452.50 263.51L452.75 263.36L453.00 263.20L453.25 263.04L453.50 262.87L453.75 262.70L454.00 262.52L454.25 262.34L454.50 262.15L454.75 261.97L455.00 261.77L455.25 261.58L455.50 261.38L455.75 261.17L456.00 260.96L456.25 260.75L456.50 260.54L456.75 260.32L457.00 260.10L457.25 259.87L457.50 259.64L457.75 259.41L458.00 259.18L458.25 258.94L458.50 258.70L458.75 258.46L459.00 258.21L459.25 257.96L459.50 257.71L459.75 257.46L460.00 257.20L460.25 256.94L460.50 256.68L460.75 256.41L461.00 256.15L461.25 255.88L461.50 255.61L461.75 255.33L462.00 255.06L462.25 254.78L462.50 254.50L462.75 254.22L463.00 253.94L463.25 253.65L463.50 253.37L463.75 253.08L464.00 252.79L464.25 252.50L464.50 252.21L464.75 251.91L465.00 251.62L465.25 251.32L465.50 251.03L465.75 250.73L466.00 250.43L466.25 250.13L466.50 249.83L466.75 249.53L467.00 249.23L467.25 248.92L467.50 248.62L467.75 248.32L468.00 248.01L468.25 247.71L468.50 247.40L468.75 247.10L469.00 246.79L469.25 246.48L469.50 246.18L469.75 245.87L470.00 245.57L470.25 245.26L470.50 244.95L470.75 244.64L471.00 244.34L471.25 244.03L471.50 243.73L471.75 243.42L472.00 243.11L472.25 242.81L472.50 242.50L472.75 242.20L473.00 241.89L473.25 241.59L473.50 241.29L473.75 240.99L474.00 240.68L474.25 240.38L474.50 240.08L474.75 239.79L475.00 239.49L475.25 239.19L475.50 238.89L475.75 238.60L476.00 238.31L476.25 238.01L476.50 237.72L476.75 237.43L477.00 237.14L477.25 236.86L477.50 236.57L477.75 236.29L478.00 236.00L478.25 235.72L478.50 235.44L478.75 235.16L479.00 234.89L479.25 234.61L479.50 234.34L479.75 234.07L480.00 233.80L480.25 233.54L480.50 233.27L480.75 233.01L481.00 232.75L481.25 232.50L481.50 232.24L481.75 231.99L482.00 231.74L482.25 231.49L482.50 231.25L482.75 231.01L483.00 230.77L483.25 230.53L483.50 230.30L483.75 230.06L484.00 229.84L484.25 229.61L484.50 229.39L484.75 229.17L485.00 228.95L485.25 228.74L485.50 228.53L485.75 228.33L486.00 228.12L486.25 227.93L486.50 227.73L486.75 227.54L487.00 227.35L487.25 227.17L487.50 226.98L487.75 226.81L488.00 226.63L488.25 226.46L488.50 226.30L488.75 226.14L489.00 225.98L489.25 225.83L489.50 225.68L489.75 225.53L490.00 225.39L490.25 225.25L490.50 225.12L490.75 224.99L491.00 224.87L491.25 224.75L491.50 224.64L491.75 224.53L492.00 224.42L492.25 224.32L492.50 224.22L492.75 224.13L493.00 224.04L493.25 223.96L493.50 223.88L493.75 223.80L494.00 223.73L494.25 223.66L494.50 223.60L494.75 223.54L495.00 223.49L495.25 223.44L495.50 223.40L495.75 223.35L496.00 223.32L496.25 223.28L496.50 223.25L496.75 223.22L497.00 223.20L497.25 223.18L497.50 223.16L497.75 223.15L498.00 223.14L498.25 223.14L498.50 223.13L498.75 223.13L499.00 223.14L499.25 223.14L499.50 223.15L499.75 223.17L500.00 223.18L500.25 223.21L500.50 223.23L500.75 223.26L501.00 223.29L501.25 223.32L501.50 223.36L501.75 223.40L502.00 223.45L502.25 223.50L502.50 223.55L502.75 223.61L503.00 223.67L503.25 223.73L503.50 223.80L503.75 223.87L504.00 223.95L504.25 224.03L504.50 224.11L504.75 224.20L505.00 224.30L505.25 224.39L505.50 224.49L505.75 224.60L506.00 224.71L506.25 224.82L506.50 224.94L506.75 225.07L507.00 225.19L507.25 225.32L507.50 225.46L507.75 225.60L508.00 225.74L508.25 225.89L508.50 226.05L508.75 226.20L509.00 226.37L509.25 226.53L509.50 226.70L509.75 226.88L510.00 227.06L510.25 227.24L510.50 227.43L510.75 227.62L511.00 227.82L511.25 228.02L511.50 228.23L511.75 228.44L512.00 228.65L512.25 228.87L512.50 229.09L512.75 229.32L513.00 229.55L513.25 229.78L513.50 230.02L513.75 230.27L514.00 230.51L514.25 230.77L514.50 231.02L514.75 231.28L515.00 231.55L515.25 231.81L515.50 232.09L515.75 232.36L516.00 232.64L516.25 232.92L516.50 233.21L516.75 233.50L517.00 233.79L517.25 234.09L517.50 234.39L517.75 234.69L518.00 235.00L518.25 235.31L518.50 235.62L518.75 235.93L519.00 236.25L519.25 236.57L519.50 236.90L519.75 237.22L520.00 237.55L520.25 237.88L520.50 238.22L520.75 238.56L521.00 238.89L521.25 239.24L521.50 239.58L521.75 239.92L522.00 240.27L522.25 240.62L522.50 240.97L522.75 241.33L523.00 241.68L523.25 242.04L523.50 242.40L523.75 242.76L524.00 243.13L524.25 243.49L524.50 243.86L524.75 244.22L525.00 244.59L525.25 244.96L525.50 245.33L525.75 245.70L526.00 246.08L526.25 246.45L526.50 246.83L526.75 247.20L527.00 247.58L527.25 247.96L527.50 248.34L527.75 248.72L528.00 249.10L528.25 249.48L528.50 249.86L528.75 250.25L529.00 250.63L529.25 251.01L529.50 251.39L529.75 251.78L530.00 252.16L530.25 252.55L530.50 252.93L530.75 253.31L531.00 253.70L531.25 254.08L531.50 254.47L531.75 254.85L532.00 255.23L532.25 255.62L532.50 256.00L532.75 256.38L533.00 256.76L533.25 257.14L533.50 257.52L533.75 257.90L534.00 258.28L534.25 258.66L534.50 259.04L534.75 259.41L535.00 259.79L535.25 260.16L535.50 260.54L535.75 260.91L536.00 261.28L536.25 261.65L536.50 262.02L536.75 262.39L537.00 262.75L537.25 263.12L537.50 263.48L537.75 263.84L538.00 264.20L538.25 264.56L538.50 264.92L538.75 265.27L539.00 265.63L539.25 265.98L539.50 266.33L539.75 266.67L540.00 267.02L540.25 267.36L540.50 267.70L540.75 268.04L541.00 268.38L541.25 268.71L541.50 269.04L541.75 269.37L542.00 269.70L542.25 270.02L542.50 270.34L542.75 270.66L543.00 270.98L543.25 271.29L543.50 271.61L543.75 271.91L544.00 272.22L544.25 272.52L544.50 272.82L544.75 273.12L545.00 273.41L545.25 273.70L545.50 273.99L545.75 274.27L546.00 274.55L546.25 274.83L546.50 275.11L546.75 275.38L547.00 275.64L547.25 275.91L547.50 276.17L547.75 276.43L548.00 276.68L548.25 276.93L548.50 277.18L548.75 277.42L549.00 277.66L549.25 277.89L549.50 278.12L549.75 278.35L550.00 278.57L550.25 278.79L550.50 279.00L550.75 279.21L551.00 279.42L551.25 279.62L551.50 279.82L551.75 280.01L552.00 280.20L552.25 280.38L552.50 280.56L552.75 280.73L553.00 280.90L553.25 281.06L553.50 281.22L553.75 281.38L554.00 281.53L554.25 281.67L554.50 281.81L554.75 281.95L555.00 282.08L555.25 282.20L555.50 282.32L555.75 282.43L556.00 282.54L556.25 282.65L556.50 282.75L556.75 282.84L557.00 282.93L557.25 283.01L557.50 283.09L557.75 283.16L558.00 283.22L558.25 283.29L558.50 283.34L558.75 283.39L559.00 283.43L559.25 283.47L559.50 283.50L559.75 283.53L560.00 283.55L560.25 283.56L560.50 283.57L560.75 283.57L561.00 283.57L561.25 283.56L561.50 283.54L561.75 283.52L562.00 283.50L562.25 283.47L562.50 283.43L562.75 283.38L563.00 283.34L563.25 283.28L563.50 283.22L563.75 283.16L564.00 283.09L564.25 283.01L564.50 282.93L564.75 282.84L565.00 282.75L565.25 282.65L565.50 282.55L565.75 282.45L566.00 282.33L566.25 282.22L566.50 282.10L566.75 281.97L567.00 281.84L567.25 281.70L567.50 281.56L567.75 281.42L568.00 281.27L568.25 281.12L568.50 280.96L568.75 280.80L569.00 280.63L569.25 280.46L569.50 280.29L569.75 280.11L570.00 279.92L570.25 279.74L570.50 279.55L570.75 279.35L571.00 279.15L571.25 278.95L571.50 278.74L571.75 278.53L572.00 278.31L572.25 278.09L572.50 277.87L572.75 277.64L573.00 277.41L573.25 277.17L573.50 276.93L573.75 276.69L574.00 276.44L574.25 276.19L574.50 275.93L574.75 275.68L575.00 275.41L575.25 275.15L575.50 274.88L575.75 274.60L576.00 274.32L576.25 274.04L576.50 273.75L576.75 273.46L577.00 273.17L577.25 272.87L577.50 272.57L577.75 272.27L578.00 271.96L578.25 271.64L578.50 271.33L578.75 271.01L579.00 270.68L579.25 270.35L579.50 270.02L579.75 269.68L580.00 269.34L580.25 269.00L580.50 268.65L580.75 268.30L581.00 267.95L581.25 267.59L581.50 267.23L581.75 266.86L582.00 266.49L582.25 266.12L582.50 265.74L582.75 265.36L583.00 264.98L583.25 264.59L583.50 264.20L583.75 263.80L584.00 263.41L584.25 263.01L584.50 262.60L584.75 262.20L585.00 261.79L585.25 261.38L585.50 260.96L585.75 260.54L586.00 260.12L586.25 259.70L586.50 259.27L586.75 258.84L587.00 258.41L587.25 257.97L587.50 257.54L587.75 257.10L588.00 256.66L588.25 256.21L588.50 255.76L588.75 255.32L589.00 254.86L589.25 254.41L589.50 253.95L589.75 253.50L590.00 253.04L590.25 252.57L590.50 252.11L590.75 251.64L591.00 251.18L591.25 250.71L591.50 250.24L591.75 249.76L592.00 249.29L592.25 248.81L592.50 248.34L592.75 247.86L593.00 247.38L593.25 246.89L593.50 246.41L593.75 245.93L594.00 245.44L594.25 244.95L594.50 244.47L594.75 243.98L595.00 243.49L595.25 243.00L595.50 242.50L595.75 242.01L596.00 241.52L596.25 241.02L596.50 240.53L596.75 240.03L597.00 239.54L597.25 239.04L597.50 238.54L597.75 238.04L598.00 237.55L598.25 237.05L598.50 236.55L598.75 236.05L599.00 235.55L599.25 235.05L599.50 234.56L599.75 234.06L600.00 233.56L600.25 233.07L600.50 232.58L600.75 232.08L601.00 231.59L601.25 231.11L601.50 230.62L601.75 230.14L602.00 229.66L602.25 229.18L602.50 228.71L602.75 228.24L603.00 227.78L603.25 227.32L603.50 226.86L603.75 226.41L604.00 225.96L604.25 225.52L604.50 225.08L604.75 224.65L605.00 224.23L605.25 223.81L605.50 223.40L605.75 222.99L606.00 222.59L606.25 222.20L606.50 221.82L606.75 221.44L607.00 221.07L607.25 220.71L607.50 220.36L607.75 220.02L608.00 219.69L608.25 219.37L608.50 219.05L608.75 218.75L609.00 218.46L609.25 218.18L609.50 217.91L609.75 217.66L610.00 217.41L610.25 217.18L610.50 216.96L610.75 216.76L611.00 216.57L611.25 216.39L611.50 216.23L611.75 216.08L612.00 215.95L612.25 215.83L612.50 215.73L612.75 215.64L613.00 215.56L613.25 215.50L613.50 215.44L613.75 215.40L614.00 215.36L614.25 215.33L614.50 215.30L614.75 215.29L615.00 215.27L615.25 215.26L615.50 215.25L615.75 215.25L616.00 215.25L616.25 215.25L616.50 215.25L616.75 215.26L617.00 215.27L617.25 215.28L617.50 215.30L617.75 215.32L618.00 215.34L618.25 215.38L618.50 215.42L618.75 215.46L619.00 215.52L619.25 215.58L619.50 215.65L619.75 215.73L620.00 215.82L620.25 215.92L620.50 216.03L620.75 216.15L621.00 216.27L621.25 216.41L621.50 216.56L621.75 216.71L622.00 216.88L622.25 217.06L622.50 217.24L622.75 217.43L623.00 217.64L623.25 217.85L623.50 218.07L623.75 218.30L624.00 218.54L624.25 218.78L624.50 219.04L624.75 219.30L625.00 219.57L625.25 219.85L625.50 220.13L625.75 220.42L626.00 220.72L626.25 221.03L626.50 221.34L626.75 221.66L627.00 221.99L627.25 222.32L627.50 222.66L627.75 223.01L628.00 223.36L628.25 223.72L628.50 224.08L628.75 224.45L629.00 224.83L629.25 225.21L629.50 225.59L629.75 225.98L630.00 226.38L630.25 226.78L630.50 227.19L630.75 227.60L631.00 228.02L631.25 228.44L631.50 228.87L631.75 229.30L632.00 229.74L632.25 230.18L632.50 230.62L632.75 231.07L633.00 231.53L633.25 231.99L633.50 232.45L633.75 232.91L634.00 233.38L634.25 233.86L634.50 234.34L634.75 234.82L635.00 235.30L635.25 235.79L635.50 236.29L635.75 236.78L636.00 237.28L636.25 237.78L636.50 238.29L636.75 238.80L637.00 239.31L637.25 239.82L637.50 240.34L637.75 240.86L638.00 241.38L638.25 241.90L638.50 242.43L638.75 242.96L639.00 243.49L639.25 244.03L639.50 244.56L639.75 245.10L640.00 245.64L640.25 246.19L640.50 246.73L640.75 247.28L641.00 247.83L641.25 248.38L641.50 248.93L641.75 249.48L642.00 250.03L642.25 250.59L642.50 251.15L642.75 251.70L643.00 252.26L643.25 252.82L643.50 253.38L643.75 253.95L644.00 254.51L644.25 255.07L644.50 255.64L644.75 256.20L645.00 256.77L645.25 257.33L645.50 257.90L645.75 258.46L646.00 259.03L646.25 259.60L646.50 260.16L646.75 260.73L647.00 261.30L647.25 261.86L647.50 262.43L647.75 263.00L648.00 263.56L648.25 264.13L648.50 264.69L648.75 265.25L649.00 265.82L649.25 266.38L649.50 266.94L649.75 267.50L650.00 268.06L650.25 268.62L650.50 269.18L650.75 269.73L651.00 270.29L651.25 270.84L651.50 271.39L651.75 271.94L652.00 272.49L652.25 273.04L652.50 273.58L652.75 274.13L653.00 274.67L653.25 275.21L653.50 275.74L653.75 276.27L654.00 276.80L654.25 277.33L654.50 277.86L654.75 278.38L655.00 278.90L655.25 279.41L655.50 279.92L655.75 280.43L656.00 280.93L656.25 281.44L656.50 281.93L656.75 282.42L657.00 282.91L657.25 283.40L657.50 283.88L657.75 284.35L658.00 284.82L658.25 285.29L658.50 285.75L658.75 286.21L659.00 286.66L659.25 287.11L659.50 287.55L659.75 287.99L660.00 288.42L660.25 288.84L660.50 289.26L660.75 289.68L661.00 290.09L661.25 290.49L661.50 290.89L661.75 291.28L662.00 291.67L662.25 292.04L662.50 292.41L662.75 292.78L663.00 293.14L663.25 293.49L663.50 293.84L663.75 294.18L664.00 294.51L664.25 294.84L664.50 295.17L664.75 295.49L665.00 295.81L665.25 296.13L665.50 296.44L665.75 296.75L666.00 297.06L666.25 297.37L666.50 297.68L666.75 297.98L667.00 298.29L667.25 298.59L667.50 298.90L667.75 299.21L668.00 299.53L668.25 299.85L668.50 300.18L668.75 300.50L669.00 300.83L669.25 301.15L669.50 301.47L669.75 301.80L670.00 302.11L670.25 302.43L670.50 302.75L670.75 303.06L671.00 303.37L671.25 303.67L671.50 303.96L671.75 304.24L672.00 304.49L672.25 304.70L672.50 304.86L672.75 304.93L673.00 304.91L673.25 304.79L673.50 304.60L673.75 304.35L674.00 304.06L674.25 303.74L674.50 303.41L674.75 303.06L675.00 302.71L675.25 302.34L675.50 301.97L675.75 301.59L676.00 301.20L676.25 300.80L676.50 300.40L676.75 299.98L677.00 299.54L677.25 299.10L677.50 298.65L677.75 298.19L678.00 297.71L678.25 297.23L678.50 296.73L678.75 296.22L679.00 295.71L679.25 295.18L679.50 294.65L679.75 294.11L680.00 293.56L680.25 293.01L680.50 292.45L680.75 291.88L681.00 291.31L681.25 290.73L681.50 290.15L681.75 289.57L682.00 288.99L682.25 288.40L682.50 287.82L682.75 287.23L683.00 286.64L683.25 286.06L683.50 285.48L683.75 284.90L684.00 284.33L684.25 283.75L684.50 283.18L684.75 282.62L685.00 282.05L685.25 281.49L685.50 280.93L685.75 280.36L686.00 279.80L686.25 279.25L686.50 278.69L686.75 278.13L687.00 277.57L687.25 277.01L687.50 276.45L687.75 275.89L688.00 275.32L688.25 274.76L688.50 274.19L688.75 273.62L689.00 273.05L689.25 272.48L689.50 271.90L689.75 271.32L690.00 270.74L690.25 270.15L690.50 269.56L690.75 268.97L691.00 268.37L691.25 267.77L691.50 267.16L691.75 266.54L692.00 265.92L692.25 265.30L692.50 264.66L692.75 264.03L693.00 263.38L693.25 262.73L693.50 262.07L693.75 261.41L694.00 260.73L694.25 260.05L694.50 259.36L694.75 258.67L695.00 257.96L695.25 257.25L695.50 256.52L695.75 255.79L696.00 255.05L696.25 254.31L696.50 253.55L696.75 252.79L697.00 252.02L697.25 251.25L697.50 250.47L697.75 249.68L698.00 248.89L698.25 248.09L698.50 247.29L698.75 246.48L699.00 245.67L699.25 244.85L699.50 244.03L699.75 243.20L700.00 242.37L700.25 241.54L700.50 240.71L700.75 239.87L701.00 239.03L701.25 238.19L701.50 237.34L701.75 236.50L702.00 235.65L702.25 234.80L702.50 233.95L702.75 233.10L703.00 232.25L703.25 231.40L703.50 230.55L703.75 229.70L704.00 228.86L704.25 228.01L704.50 227.17L704.75 226.32L705.00 225.48L705.25 224.64L705.50 223.81L705.75 222.97L706.00 222.14L706.25 221.32L706.50 220.49L706.75 219.68L707.00 218.86L707.25 218.05L707.50 217.25L707.75 216.45L708.00 215.65L708.25 214.87L708.50 214.08L708.75 213.31L709.00 212.54L709.25 211.78L709.50 211.02L709.75 210.28L710.00 209.54L710.25 208.81L710.50 208.09L710.75 207.37L711.00 206.67L711.25 205.97L711.50 205.29L711.75 204.61L712.00 203.95L712.25 203.29L712.50 202.64L712.75 202.01L713.00 201.38L713.25 200.76L713.50 200.16L713.75 199.56L714.00 198.97L714.25 198.39L714.50 197.82L714.75 197.27L715.00 196.72L715.25 196.18L715.50 195.65L715.75 195.13L716.00 194.62L716.25 194.12L716.50 193.63L716.75 193.15L717.00 192.68L717.25 192.22L717.50 191.77L717.75 191.33L718.00 190.89L718.25 190.47L718.50 190.06L718.75 189.66L719.00 189.27L719.25 188.89L719.50 188.52L719.75 188.16L720.00 187.81L720.25 187.47L720.50 187.14L720.75 186.82L721.00 186.51L721.25 186.21L721.50 185.92L721.75 185.65L722.00 185.38L722.25 185.12L722.50 184.88L722.75 184.64L723.00 184.42L723.25 184.20L723.50 184.00L723.75 183.81L724.00 183.63L724.25 183.46L724.50 183.30L724.75 183.15L725.00 183.01L725.25 182.88L725.50 182.77L725.75 182.66L726.00 182.56L726.25 182.48L726.50 182.40L726.75 182.33L727.00 182.28L727.25 182.22L727.50 182.18L727.75 182.15L728.00 182.12L728.25 182.09L728.50 182.07L728.75 182.06L729.00 182.05L729.25 182.04L729.50 182.04L729.75 182.03L730.00 182.03L730.25 182.03L730.50 182.03L730.75 182.04L731.00 182.04L731.25 182.04L731.50 182.05L731.75 182.06L732.00 182.07L732.25 182.09L732.50 182.11L732.75 182.13L733.00 182.16L733.25 182.20L733.50 182.25L733.75 182.30L734.00 182.36L734.25 182.43L734.50 182.51L734.75 182.60L735.00 182.70L735.25 182.81L735.50 182.93L735.75 183.06L736.00 183.20L736.25 183.36L736.50 183.52L736.75 183.70L737.00 183.89L737.25 184.09L737.50 184.31L737.75 184.53L738.00 184.77L738.25 185.02L738.50 185.28L738.75 185.55L739.00 185.84L739.25 186.13L739.50 186.44L739.75 186.76L740.00 187.09L740.25 187.43L740.50 187.78L740.75 188.14L741.00 188.52L741.25 188.90L741.50 189.30L741.75 189.71L742.00 190.13L742.25 190.56L742.50 191.00L742.75 191.45L743.00 191.91L743.25 192.39L743.50 192.87L743.75 193.37L744.00 193.87L744.25 194.39L744.50 194.92L744.75 195.46L745.00 196.01L745.25 196.57L745.50 197.14L745.75 197.72L746.00 198.31L746.25 198.91L746.50 199.52L746.75 200.15L747.00 200.78L747.25 201.43L747.50 202.08L747.75 202.75L748.00 203.43L748.25 204.11L748.50 204.81L748.75 205.51L749.00 206.23L749.25 206.95L749.50 207.68L749.75 208.43L750.00 209.18L750.25 209.93L750.50 210.70L750.75 211.47L751.00 212.26L751.25 213.05L751.50 213.84L751.75 214.64L752.00 215.45L752.25 216.27L752.50 217.09L752.75 217.92L753.00 218.76L753.25 219.60L753.50 220.45L753.75 221.30L754.00 222.16L754.25 223.02L754.50 223.89L754.75 224.76L755.00 225.63L755.25 226.51L755.50 227.40L755.75 228.29L756.00 229.18L756.25 230.07L756.50 230.97L756.75 231.87L757.00 232.78L757.25 233.68L757.50 234.59L757.75 235.50L758.00 236.42L758.25 237.33L758.50 238.25L758.75 239.17L759.00 240.09L759.25 241.01L759.50 241.93L759.75 242.85L760.00 243.77L760.25 244.69L760.50 245.62L760.75 246.54L761.00 247.46L761.25 248.38L761.50 249.30L761.75 250.23L762.00 251.14L762.25 252.06L762.50 252.98L762.75 253.89L763.00 254.81L763.25 255.72L763.50 256.63L763.75 257.53L764.00 258.43L764.25 259.34L764.50 260.23L764.75 261.13L765.00 262.02L765.25 262.91L765.50 263.79L765.75 264.67L766.00 265.54L766.25 266.42L766.50 267.28L766.75 268.14L767.00 269.00L767.25 269.85L767.50 270.70L767.75 271.54L768.00 272.38L768.25 273.21L768.50 274.03L768.75 274.85L769.00 275.66L769.25 276.46L769.50 277.26L769.75 278.05L770.00 278.83L770.25 279.61L770.50 280.38L770.75 281.14L771.00 281.89L771.25 282.63L771.50 283.37L771.75 284.10L772.00 284.82L772.25 285.53L772.50 286.23L772.75 286.93L773.00 287.61L773.25 288.29L773.50 288.95L773.75 289.61L774.00 290.25L774.25 290.89L774.50 291.52L774.75 292.13L775.00 292.74L775.25 293.34L775.50 293.92L775.75 294.50L776.00 295.06L776.25 295.62L776.50 296.16L776.75 296.69L777.00 297.21L777.25 297.72L777.50 298.22L777.75 298.71L778.00 299.19L778.25 299.66L778.50 300.12L778.75 300.56L779.00 301.00L779.25 301.42L779.50 301.84L779.75 302.24L780.00 302.64L780.25 303.02L780.50 303.40L780.75 303.77L781.00 304.13L781.25 304.48L781.50 304.82L781.75 305.15L782.00 305.47L782.25 305.79L782.50 306.09L782.75 306.38L783.00 306.66L783.25 306.92L783.50 307.16L783.75 307.37L784.00 307.55L784.25 307.70L784.50 307.80L784.75 307.85L785.00 307.86L785.25 307.83L785.50 307.75L785.75 307.63L786.00 307.48L786.25 307.30L786.50 307.09L786.75 306.86L787.00 306.62L787.25 306.36L787.50 306.08L787.75 305.80L788.00 305.51L788.25 305.21L788.50 304.90L788.75 304.59L789.00 304.26L789.25 303.93L789.50 303.59L789.75 303.25L790.00 302.90L790.25 302.54L790.50 302.17L790.75 301.79L791.00 301.41L791.25 301.02L791.50 300.62L791.75 300.22L792.00 299.81L792.25 299.38L792.50 298.96L792.75 298.52L793.00 298.08L793.25 297.63L793.50 297.17L793.75 296.71L794.00 296.24L794.25 295.76L794.50 295.28L794.75 294.79L795.00 294.29L795.25 293.79L795.50 293.28L795.75 292.77L796.00 292.25L796.25 291.72L796.50 291.20L796.75 290.66L797.00 290.12L797.25 289.58L797.50 289.04L797.75 288.49L798.00 287.93L798.25 287.37L798.50 286.81L798.75 286.25L799.00 285.68L799.25 285.10L799.50 284.52L799.75 283.94L800.00 283.35L800.25 282.75L800.50 282.15L800.75 281.55L801.00 280.94L801.25 280.32L801.50 279.70L801.75 279.07L802.00 278.43L802.25 277.79L802.50 277.15L802.75 276.50L803.00 275.84L803.25 275.17L803.50 274.50L803.75 273.82L804.00 273.13L804.25 272.44L804.50 271.74L804.75 271.03L805.00 270.32L805.25 269.60L805.50 268.87L805.75 268.13L806.00 267.38L806.25 266.63L806.50 265.86L806.75 265.09L807.00 264.31L807.25 263.53L807.50 262.73L807.75 261.92L808.00 261.11L808.25 260.28L808.50 259.45L808.75 258.61L809.00 257.76L809.25 256.90L809.50 256.02L809.75 255.14L810.00 254.25L810.25 253.35L810.50 252.44L810.75 251.52L811.00 250.59L811.25 249.64L811.50 248.70L811.75 247.74L812.00 246.77L812.25 245.80L812.50 244.82L812.75 243.83L813.00 242.83L813.25 241.83L813.50 240.83L813.75 239.81L814.00 238.79L814.25 237.77L814.50 236.74L814.75 235.71L815.00 234.67L815.25 233.63L815.50 232.59L815.75 231.54L816.00 230.49L816.25 229.44L816.50 228.39L816.75 227.33L817.00 226.28L817.25 225.22L817.50 224.16L817.75 223.10L818.00 222.05L818.25 220.99L818.50 219.93L818.75 218.88L819.00 217.83L819.25 216.78L819.50 215.73L819.75 214.68L820.00 213.63L820.25 212.59L820.50 211.55L820.75 210.52L821.00 209.48L821.25 208.45L821.50 207.43L821.75 206.40L822.00 205.38L822.25 204.37L822.50 203.36L822.75 202.35L823.00 201.35L823.25 200.35L823.50 199.36L823.75 198.38L824.00 197.40L824.25 196.42L824.50 195.45L824.75 194.49L825.00 193.53L825.25 192.58L825.50 191.64L825.75 190.70L826.00 189.77L826.25 188.84L826.50 187.93L826.75 187.02L827.00 186.12L827.25 185.23L827.50 184.35L827.75 183.47L828.00 182.60L828.25 181.75L828.50 180.90L828.75 180.06L829.00 179.23L829.25 178.41L829.50 177.60L829.75 176.80L830.00 176.00L830.25 175.23L830.50 174.46L830.75 173.70L831.00 172.95L831.25 172.22L831.50 171.49L831.75 170.78L832.00 170.08L832.25 169.39L832.50 168.72L832.75 168.06L833.00 167.41L833.25 166.77L833.50 166.15L833.75 165.54L834.00 164.95L834.25 164.37L834.50 163.80L834.75 163.25L835.00 162.72L835.25 162.20L835.50 161.69L835.75 161.21L836.00 160.74L836.25 160.28L836.50 159.85L836.75 159.43L837.00 159.03L837.25 158.66L837.50 158.30L837.75 157.96L838.00 157.64L838.25 157.34L838.50 157.07L838.75 156.82L839.00 156.59L839.25 156.39L839.50 156.21L839.75 156.06L840.00 155.93L840.25 155.82L840.50 155.73L840.75 155.67L841.00 155.62L841.25 155.60L841.50 155.59L841.75 155.59L842.00 155.60L842.25 155.62L842.50 155.64L842.75 155.67L843.00 155.69L843.25 155.70L843.50 155.71L843.75 155.72L844.00 155.71L844.25 155.70L844.50 155.68L844.75 155.67L845.00 155.65L845.25 155.64L845.50 155.64L845.75 155.64L846.00 155.65L846.25 155.68L846.50 155.73L846.75 155.78L847.00 155.86L847.25 155.95L847.50 156.06L847.75 156.18L848.00 156.33L848.25 156.49L848.50 156.66L848.75 156.86L849.00 157.07L849.25 157.29L849.50 157.54L849.75 157.79L850.00 158.06L850.25 158.35L850.50 158.65L850.75 158.97L851.00 159.29L851.25 159.64L851.50 159.99L851.75 160.36L852.00 160.74L852.25 161.13L852.50 161.53L852.75 161.94L853.00 162.37L853.25 162.81L853.50 163.25L853.75 163.71L854.00 164.18L854.25 164.66L854.50 165.15L854.75 165.65L855.00 166.15L855.25 166.67L855.50 167.20L855.75 167.73L856.00 168.28L856.25 168.83L856.50 169.39L856.75 169.96L857.00 170.54L857.25 171.12L857.50 171.72L857.75 172.32L858.00 172.93L858.25 173.54L858.50 174.17L858.75 174.80L859.00 175.43L859.25 176.08L859.50 176.73L859.75 177.38L860.00 178.04L860.25 178.71L860.50 179.39L860.75 180.07L861.00 180.75L861.25 181.44L861.50 182.14L861.75 182.84L862.00 183.55L862.25 184.26L862.50 184.98L862.75 185.70L863.00 186.43L863.25 187.16L863.50 187.90L863.75 188.65L864.00 189.40L864.25 190.16L864.50 190.93L864.75 191.70L865.00 192.48L865.25 193.26L865.50 194.06L865.75 194.86L866.00 195.67L866.25 196.48L866.50 197.31L866.75 198.14L867.00 198.98L867.25 199.82L867.50 200.68L867.75 201.55L868.00 202.42L868.25 203.30L868.50 204.19L868.75 205.09L869.00 206.00L869.25 206.92L869.50 207.85L869.75 208.79L870.00 209.73L870.25 210.69L870.50 211.66L870.75 212.64L871.00 213.63L871.25 214.63L871.50 215.64L871.75 216.66L872.00 217.69L872.25 218.73L872.50 219.79L872.75 220.85L873.00 221.92L873.25 223.00L873.50 224.09L873.75 225.18L874.00 226.28L874.25 227.39L874.50 228.50L874.75 229.61L875.00 230.73L875.25 231.85L875.50 232.98L875.75 234.11L876.00 235.24L876.25 236.37L876.50 237.49L876.75 238.62L877.00 239.75L877.25 240.88L877.50 242.00L877.75 243.12L878.00 244.24L878.25 245.35L878.50 246.46L878.75 247.56L879.00 248.66L879.25 249.75L879.50 250.83L879.75 251.91L880.00 252.98L880.25 254.04L880.50 255.09L880.75 256.14L881.00 257.18L881.25 258.22L881.50 259.24L881.75 260.26L882.00 261.28L882.25 262.28L882.50 263.28L882.75 264.26L883.00 265.25L883.25 266.22L883.50 267.18L883.75 268.14L884.00 269.09L884.25 270.03L884.50 270.96L884.75 271.89L885.00 272.81L885.25 273.71L885.50 274.61L885.75 275.50L886.00 276.38L886.25 277.26L886.50 278.12L886.75 278.98L887.00 279.82L887.25 280.66L887.50 281.49L887.75 282.31L888.00 283.12L888.25 283.92L888.50 284.71L888.75 285.49L889.00 286.26L889.25 287.03L889.50 287.78L889.75 288.52L890.00 289.26L890.25 289.98L890.50 290.69L890.75 291.40L891.00 292.09L891.25 292.77L891.50 293.45L891.75 294.11L892.00 294.77L892.25 295.41L892.50 296.04L892.75 296.66L893.00 297.28L893.25 297.88L893.50 298.47L893.75 299.05L894.00 299.62L894.25 300.18L894.50 300.73L894.75 301.27L895.00 301.80L895.25 302.32L895.50 302.83L895.75 303.33L896.00 303.82L896.25 304.29L896.50 304.76L896.75 305.22L897.00 305.67L897.25 306.10L897.50 306.53L897.75 306.95L898.00 307.36L898.25 307.77L898.50 308.16L898.75 308.54L899.00 308.92L899.25 309.29L899.50 309.65L899.75 310.01L900.00 310.36L900.25 310.70L900.50 311.03L900.75 311.35L901.00 311.67L901.25 311.97L901.50 312.26L901.75 312.52L902.00 312.77L902.25 312.98L902.50 313.15L902.75 313.27L903.00 313.34L903.25 313.35L903.50 313.30L903.75 313.18L904.00 313.00L904.25 312.77L904.50 312.50L904.75 312.19L905.00 311.86L905.25 311.50L905.50 311.13L905.75 310.74L906.00 310.34L906.25 309.93L906.50 309.50L906.75 309.07L907.00 308.62L907.25 308.16L907.50 307.68L907.75 307.19L908.00 306.68L908.25 306.15L908.50 305.60L908.75 305.04L909.00 304.46L909.25 303.86L909.50 303.25L909.75 302.62L910.00 301.98L910.25 301.32L910.50 300.65L910.75 299.97L911.00 299.27L911.25 298.56L911.50 297.85L911.75 297.12L912.00 296.39L912.25 295.65L912.50 294.90L912.75 294.15L913.00 293.40L913.25 292.64L913.50 291.89L913.75 291.13L914.00 290.37L914.25 289.62L914.50 288.87L914.75 288.12L915.00 287.39L915.25 286.65L915.50 285.93L915.75 285.21L916.00 284.50L916.25 283.80L916.50 283.10L916.75 282.40L917.00 281.71L917.25 281.02L917.50 280.34L917.75 279.66L918.00 278.98L918.25 278.30L918.50 277.62L918.75 276.95L919.00 276.27L919.25 275.59L919.50 274.91L919.75 274.23L920.00 273.55L920.25 272.87L920.50 272.18L920.75 271.49L921.00 270.79L921.25 270.09L921.50 269.39L921.75 268.68L922.00 267.96L922.25 267.24L922.50 266.51L922.75 265.77L923.00 265.03L923.25 264.27L923.50 263.51L923.75 262.75L924.00 261.97L924.25 261.18L924.50 260.39L924.75 259.58L925.00 258.77L925.25 257.95L925.50 257.11L925.75 256.27L926.00 255.41L926.25 254.55L926.50 253.67L926.75 252.79L927.00 251.89L927.25 250.98L927.50 250.05L927.75 249.12L928.00 248.17L928.25 247.21L928.50 246.24L928.75 245.25L929.00 244.25L929.25 243.24L929.50 242.21L929.75 241.16L930.00 240.11L930.25 239.04L930.50 237.96L930.75 236.87L931.00 235.76L931.25 234.65L931.50 233.52L931.75 232.39L932.00 231.25L932.25 230.10L932.50 228.94L932.75 227.78L933.00 226.61L933.25 225.43L933.50 224.25L933.75 223.07L934.00 221.88L934.25 220.69L934.50 219.49L934.75 218.30L935.00 217.10L935.25 215.91L935.50 214.71L935.75 213.51L936.00 212.32L936.25 211.13L936.50 209.94L936.75 208.75L937.00 207.57L937.25 206.39L937.50 205.22L937.75 204.05L938.00 202.89L938.25 201.74L938.50 200.59L938.75 199.45L939.00 198.32L939.25 197.21L939.50 196.10L939.75 195.00L940.00 193.91L940.25 192.84L940.50 191.78L940.75 190.73L941.00 189.70L941.25 188.67L941.50 187.66L941.75 186.66L942.00 185.68L942.25 184.71L942.50 183.75L942.75 182.80L943.00 181.87L943.25 180.95L943.50 180.04L943.75 179.15L944.00 178.27L944.25 177.40L944.50 176.54L944.75 175.70L945.00 174.88L945.25 174.07L945.50 173.27L945.75 172.48L946.00 171.71L946.25 170.95L946.50 170.21L946.75 169.48L947.00 168.77L947.25 168.07L947.50 167.38L947.75 166.71L948.00 166.05L948.25 165.41L948.50 164.79L948.75 164.18L949.00 163.58L949.25 163.00L949.50 162.44L949.75 161.89L950.00 161.35L950.25 160.84L950.50 160.33L950.75 159.85L951.00 159.38L951.25 158.93L951.50 158.50L951.75 158.08L952.00 157.68L952.25 157.30L952.50 156.93L952.75 156.58L953.00 156.24L953.25 155.92L953.50 155.62L953.75 155.33L954.00 155.06L954.25 154.81L954.50 154.57L954.75 154.35L955.00 154.14L955.25 153.95L955.50 153.77L955.75 153.61L956.00 153.46L956.25 153.32L956.50 153.20L956.75 153.09L957.00 152.99L957.25 152.91L957.50 152.83L957.75 152.76L958.00 152.71L958.25 152.66L958.50 152.62L958.75 152.59L959.00 152.56L959.25 152.53L959.50 152.52L959.75 152.50L960.00 152.49L960.25 152.48L960.50 152.47L960.75 152.46L961.00 152.46L961.25 152.45L961.50 152.45L961.75 152.45L962.00 152.45L962.25 152.45L962.50 152.45L962.75 152.46L963.00 152.47L963.25 152.48L963.50 152.49L963.75 152.51L964.00 152.53L964.25 152.55L964.50 152.57L964.75 152.59L965.00 152.62L965.25 152.65L965.50 152.68L965.75 152.71L966.00 152.75L966.25 152.80L966.50 152.85L966.75 152.91L967.00 152.98L967.25 153.05L967.50 153.14L967.75 153.24L968.00 153.35L968.25 153.48L968.50 153.62L968.75 153.77L969.00 153.95L969.25 154.13L969.50 154.34L969.75 154.56L970.00 154.80L970.25 155.06L970.50 155.34L970.75 155.64L971.00 155.95L971.25 156.29L971.50 156.65L971.75 157.02L972.00 157.42L972.25 157.84L972.50 158.28L972.75 158.74L973.00 159.22L973.25 159.72L973.50 160.24L973.75 160.79L974.00 161.36L974.25 161.95L974.50 162.56L974.75 163.19L975.00 163.85L975.25 164.53L975.50 165.24L975.75 165.97L976.00 166.72L976.25 167.49L976.50 168.29L976.75 169.12L977.00 169.96L977.25 170.83L977.50 171.72L977.75 172.63L978.00 173.55L978.25 174.50L978.50 175.47L978.75 176.46L979.00 177.46L979.25 178.49L979.50 179.53L979.75 180.58L980.00 181.66L980.25 182.74L980.50 183.85L980.75 184.97L981.00 186.10L981.25 187.25L981.50 188.41L981.75 189.59L982.00 190.78L982.25 191.98L982.50 193.19L982.75 194.42L983.00 195.65L983.25 196.90L983.50 198.15L983.75 199.42L984.00 200.69L984.25 201.98L984.50 203.27L984.75 204.57L985.00 205.88L985.25 207.19L985.50 208.51L985.75 209.84L986.00 211.17L986.25 212.51L986.50 213.86L986.75 215.21L987.00 216.56L987.25 217.91L987.50 219.27L987.75 220.64L988.00 222.00L988.25 223.37L988.50 224.74L988.75 226.10L989.00 227.47L989.25 228.84L989.50 230.21L989.75 231.58L990.00 232.95L990.25 234.32L990.50 235.68L990.75 237.04L991.00 238.40L991.25 239.76L991.50 241.11L991.75 242.46L992.00 243.80L992.25 245.14L992.50 246.47L992.75 247.80L993.00 249.12L993.25 250.44L993.50 251.75L993.75 253.05L994.00 254.34L994.25 255.62L994.50 256.90L994.75 258.16L995.00 259.42L995.25 260.66L995.50 261.90L995.75 263.12L996.00 264.34L996.25 265.54L996.50 266.73L996.75 267.92L997.00 269.09L997.25 270.24L997.50 271.39L997.75 272.53L998.00 273.66L998.25 274.77L998.50 275.88L998.75 276.97L999.00 278.05L999.25 279.12L999.50 280.18L999.75 281.22L1000.00 282.26L1000.25 283.28L1000.50 284.29L1000.75 285.29L1001.00 286.28L1001.25 287.26L1001.50 288.22L1001.75 289.18L1002.00 290.12L1002.25 291.05L1002.50 291.96L1002.75 292.87L1003.00 293.76L1003.25 294.64L1003.50 295.51L1003.75 296.37L1004.00 297.21L1004.25 298.04L1004.50 298.86L1004.75 299.67L1005.00 300.47L1005.25 301.25L1005.50 302.02L1005.75 302.78L1006.00 303.52L1006.25 304.25L1006.50 304.97L1006.75 305.68L1007.00 306.38L1007.25 307.06L1007.50 307.73L1007.75 308.39L1008.00 309.03L1008.25 309.66L1008.50 310.28L1008.75 310.89L1009.00 311.49L1009.25 312.07L1009.50 312.64L1009.75 313.20L1010.00 313.74L1010.25 314.28L1010.50 314.80L1010.75 315.31L1011.00 315.81L1011.25 316.29L1011.50 316.77L1011.75 317.23L1012.00 317.68L1012.25 318.12L1012.50 318.56L1012.75 318.98L1013.00 319.39L1013.25 319.79L1013.50 320.18L1013.75 320.56L1014.00 320.93L1014.25 321.29L1014.50 321.65L1014.75 321.99L1015.00 322.33L1015.25 322.66L1015.50 322.97L1015.75 323.28L1016.00 323.58L1016.25 323.86L1016.50 324.13L1016.75 324.39L1017.00 324.62L1017.25 324.83L1017.50 325.01L1017.75 325.16L1018.00 325.28L1018.25 325.36L1018.50 325.40L1018.75 325.40L1019.00 325.35L1019.25 325.27L1019.50 325.14L1019.75 324.98L1020.00 324.79L1020.25 324.57L1020.50 324.32L1020.75 324.06L1021.00 323.77L1021.25 323.48L1021.50 323.17L1021.75 322.85L1022.00 322.52L1022.25 322.19L1022.50 321.85L1022.75 321.50L1023.00 321.14L1023.25 320.77L1023.50 320.40L1023.75 320.02L1024.00 319.63L1024.25 319.23L1024.50 318.82L1024.75 318.40L1025.00 317.97L1025.25 317.53L1025.50 317.09L1025.75 316.63L1026.00 316.16L1026.25 315.69L1026.50 315.20L1026.75 314.70L1027.00 314.20L1027.25 313.68L1027.50 313.16L1027.75 312.62L1028.00 312.08L1028.25 311.52L1028.50 310.96L1028.75 310.38L1029.00 309.80L1029.25 309.21L1029.50 308.61L1029.75 308.00L1030.00 307.38L1030.25 306.76L1030.50 306.12L1030.75 305.48L1031.00 304.83L1031.25 304.17L1031.50 303.50L1031.75 302.82L1032.00 302.14L1032.25 301.45L1032.50 300.75L1032.75 300.05L1033.00 299.33L1033.25 298.62L1033.50 297.89L1033.75 297.16L1034.00 296.42L1034.25 295.68L1034.50 294.93L1034.75 294.17L1035.00 293.41L1035.25 292.64L1035.50 291.87L1035.75 291.10L1036.00 290.31L1036.25 289.53L1036.50 288.74L1036.75 287.94L1037.00 287.14L1037.25 286.34L1037.50 285.53L1037.75 284.72L1038.00 283.91L1038.25 283.09L1038.50 282.27L1038.75 281.45L1039.00 280.62L1039.25 279.79L1039.50 278.96L1039.75 278.13L1040.00 277.29L1040.25 276.46L1040.50 275.62L1040.75 274.78L1041.00 273.94L1041.00 273.94" stroke="#0000ff" stroke-width="4.2"/>
<path d="M144.60 261.00L146.00 248.43L146.25 244.17L146.50 239.42L146.75 234.46L147.00 229.55L147.25 224.98L147.50 220.99L147.75 217.80L148.00 215.57L148.25 214.43L148.50 214.43L148.75 215.58L149.00 217.81L149.25 221.00L149.50 224.99L149.75 229.58L150.00 234.52L150.25 239.58L150.50 244.49L150.75 249.03L151.00 252.96L151.25 256.11L151.50 258.32L151.75 259.51L152.00 259.62L152.25 258.67L152.50 256.70L152.75 253.83L153.00 250.21L153.25 246.02L153.50 241.46L153.75 236.76L154.00 232.14L154.25 227.82L154.50 224.00L154.75 220.86L155.00 218.53L155.25 217.11L155.50 216.67L155.75 217.22L156.00 218.71L156.25 221.07L156.50 224.19L156.75 227.92L157.00 232.08L157.25 236.51L157.50 241.03L157.75 245.46L158.00 249.62L158.25 253.35L158.50 256.50L158.75 258.97L159.00 260.67L159.25 261.56L159.50 261.61L159.75 260.84L160.00 259.30L160.25 257.06L160.50 254.22L160.75 250.90L161.00 247.24L161.25 243.40L161.50 239.53L161.75 235.80L162.00 232.34L162.25 229.32L162.50 226.87L162.75 225.08L163.00 224.05L163.25 223.85L163.50 224.54L163.75 226.10L164.00 228.46L164.25 231.53L164.50 235.17L164.75 239.22L165.00 243.49L165.25 247.78L165.50 251.87L165.75 255.58L166.00 258.71L166.25 261.12L166.50 262.67L166.75 263.30L167.00 262.98L167.25 261.71L167.50 259.56L167.75 256.64L168.00 253.11L168.25 249.14L168.50 244.93L168.75 240.70L169.00 236.66L169.25 233.01L169.50 229.94L169.75 227.60L170.00 226.10L170.25 225.50L170.50 225.83L170.75 227.06L171.00 229.14L171.25 231.97L171.50 235.41L171.75 239.29L172.00 243.43L172.25 247.62L172.50 251.66L172.75 255.36L173.00 258.53L173.25 261.03L173.50 262.73L173.75 263.55L174.00 263.45L174.25 262.44L174.50 260.56L174.75 257.93L175.00 254.65L175.25 250.90L175.50 246.86L175.75 242.73L176.00 238.72L176.25 235.02L176.50 231.81L176.75 229.26L177.00 227.50L177.25 226.60L177.50 226.61L177.75 227.54L178.00 229.36L178.25 231.96L178.50 235.25L178.75 239.05L179.00 243.18L179.25 247.44L179.50 251.62L179.75 255.51L180.00 258.93L180.25 261.70L180.50 263.70L180.75 264.84L181.00 265.07L181.25 264.38L181.50 262.83L181.75 260.51L182.00 257.54L182.25 254.08L182.50 250.31L182.75 246.42L183.00 242.61L183.25 239.07L183.50 235.95L183.75 233.41L184.00 231.56L184.25 230.49L184.50 230.22L184.75 230.76L185.00 232.08L185.25 234.09L185.50 236.72L185.75 239.84L186.00 243.31L186.25 246.99L186.50 250.73L186.75 254.39L187.00 257.82L187.25 260.90L187.50 263.51L187.75 265.55L188.00 266.96L188.25 267.69L188.50 267.72L188.75 267.05L189.00 265.71L189.25 263.76L189.50 261.28L189.75 258.38L190.00 255.16L190.25 251.77L190.50 248.33L190.75 245.01L191.00 241.93L191.25 239.24L191.50 237.06L191.75 235.50L192.00 234.64L192.25 234.53L192.50 235.21L192.75 236.65L193.00 238.82L193.25 241.62L193.50 244.93L193.75 248.61L194.00 252.49L194.25 256.38L194.50 260.09L194.75 263.45L195.00 266.29L195.25 268.46L195.50 269.86L195.75 270.42L196.00 270.12L196.25 268.97L196.50 267.04L196.75 264.43L197.00 261.29L197.25 257.77L197.50 254.06L197.75 250.35L198.00 246.83L198.25 243.68L198.50 241.05L198.75 239.06L199.00 237.80L199.25 237.33L199.50 237.66L199.75 238.76L200.00 240.58L200.25 243.02L200.50 245.99L200.75 249.33L201.00 252.91L201.25 256.55L201.50 260.11L201.75 263.42L202.00 266.34L202.25 268.76L202.50 270.57L202.75 271.70L203.00 272.11L203.25 271.77L203.50 270.73L203.75 269.01L204.00 266.71L204.25 263.93L204.50 260.80L204.75 257.45L205.00 254.04L205.25 250.72L205.50 247.64L205.75 244.94L206.00 242.75L206.25 241.17L206.50 240.28L206.75 240.11L207.00 240.70L207.25 242.00L207.50 243.98L207.75 246.53L208.00 249.54L208.25 252.87L208.50 256.35L208.75 259.82L209.00 263.09L209.25 266.01L209.50 268.45L209.75 270.26L210.00 271.38L210.25 271.75L210.50 271.36L210.75 270.22L211.00 268.40L211.25 266.00L211.50 263.14L211.75 259.95L212.00 256.59L212.25 253.23L212.50 250.01L212.75 247.09L213.00 244.59L213.25 242.60L213.50 241.22L213.75 240.48L214.00 240.40L214.25 240.95L214.50 242.11L214.75 243.81L215.00 245.95L215.25 248.43L215.50 251.15L215.75 253.99L216.00 256.83L216.25 259.55L216.50 262.05L216.75 264.23L217.00 266.00L217.25 267.31L217.50 268.09L217.75 268.34L218.00 268.03L218.25 267.18L218.50 265.83L218.75 264.02L219.00 261.82L219.25 259.31L219.50 256.59L219.75 253.76L220.00 250.92L220.25 248.18L220.50 245.65L220.75 243.43L221.00 241.60L221.25 240.25L221.50 239.43L221.75 239.19L222.00 239.53L222.25 240.45L222.50 241.91L222.75 243.86L223.00 246.19L223.25 248.82L223.50 251.62L223.75 254.46L224.00 257.21L224.25 259.73L224.50 261.91L224.75 263.64L225.00 264.83L225.25 265.41L225.50 265.36L225.75 264.67L226.00 263.37L226.25 261.50L226.50 259.16L226.75 256.45L227.00 253.49L227.25 250.42L227.50 247.38L227.75 244.51L228.00 241.95L228.25 239.80L228.50 238.17L228.75 237.13L229.00 236.73L229.25 236.97L229.50 237.85L229.75 239.32L230.00 241.33L230.25 243.76L230.50 246.51L230.75 249.43L231.00 252.37L231.25 255.20L231.50 257.76L231.75 259.93L232.00 261.59L232.25 262.66L232.50 263.08L232.75 262.84L233.00 261.95L233.25 260.44L233.50 258.39L233.75 255.91L234.00 253.12L234.25 250.13L234.50 247.11L234.75 244.18L235.00 241.47L235.25 239.11L235.50 237.20L235.75 235.80L236.00 234.97L236.25 234.73L236.50 235.08L236.75 235.98L237.00 237.38L237.25 239.22L237.50 241.40L237.75 243.82L238.00 246.39L238.25 248.99L238.50 251.50L238.75 253.83L239.00 255.88L239.25 257.58L239.50 258.84L239.75 259.63L240.00 259.91L240.25 259.67L240.50 258.91L240.75 257.68L241.00 256.02L241.25 253.98L241.50 251.64L241.75 249.10L242.00 246.45L242.25 243.80L242.50 241.23L242.75 238.85L243.00 236.75L243.25 235.00L243.50 233.68L243.75 232.84L244.00 232.50L244.25 232.68L244.50 233.35L244.75 234.49L245.00 236.03L245.25 237.92L245.50 240.07L245.75 242.39L246.00 244.78L246.25 247.15L246.50 249.40L246.75 251.44L247.00 253.17L247.25 254.54L247.50 255.48L247.75 255.95L248.00 255.93L248.25 255.41L248.50 254.41L248.75 252.95L249.00 251.10L249.25 248.92L249.50 246.48L249.75 243.89L250.00 241.25L250.25 238.64L250.50 236.18L250.75 233.97L251.00 232.08L251.25 230.61L251.50 229.62L251.75 229.14L252.00 229.20L252.25 229.81L252.50 230.95L252.75 232.57L253.00 234.61L253.25 236.96L253.50 239.50L253.75 242.12L254.00 244.67L254.25 247.02L254.50 249.05L254.75 250.63L255.00 251.70L255.25 252.18L255.50 252.06L255.75 251.33L256.00 250.04L256.25 248.25L256.50 246.07L256.75 243.60L257.00 240.98L257.25 238.32L257.50 235.75L257.75 233.39L258.00 231.34L258.25 229.69L258.50 228.49L258.75 227.78L259.00 227.57L259.25 227.84L259.50 228.58L259.75 229.74L260.00 231.26L260.25 233.08L260.50 235.13L260.75 237.33L261.00 239.60L261.25 241.85L261.50 244.02L261.75 246.03L262.00 247.82L262.25 249.32L262.50 250.51L262.75 251.33L263.00 251.76L263.25 251.81L263.50 251.47L263.75 250.76L264.00 249.70L264.25 248.33L264.50 246.69L264.75 244.83L265.00 242.81L265.25 240.70L265.50 238.55L265.75 236.44L266.00 234.44L266.25 232.60L266.50 231.00L266.75 229.69L267.00 228.71L267.25 228.10L267.50 227.90L267.75 228.10L268.00 228.71L268.25 229.69L268.50 231.03L268.75 232.66L269.00 234.54L269.25 236.60L269.50 238.76L269.75 240.96L270.00 243.10L270.25 245.13L270.50 246.97L270.75 248.55L271.00 249.82L271.25 250.74L271.50 251.27L271.75 251.38L272.00 251.09L272.25 250.39L272.50 249.32L272.75 247.90L273.00 246.18L273.25 244.24L273.50 242.13L273.75 239.94L274.00 237.74L274.25 235.62L274.50 233.65L274.75 231.91L275.00 230.46L275.25 229.37L275.50 228.67L275.75 228.41L276.00 228.58L276.25 229.20L276.50 230.24L276.75 231.66L277.00 233.43L277.25 235.47L277.50 237.70L277.75 240.04L278.00 242.40L278.25 244.68L278.50 246.80L278.75 248.67L279.00 250.21L279.25 251.36L279.50 252.08L279.75 252.34L280.00 252.12L280.25 251.45L280.50 250.35L280.75 248.87L281.00 247.08L281.25 245.04L281.50 242.86L281.75 240.63L282.00 238.43L282.25 236.38L282.50 234.54L282.75 233.01L283.00 231.84L283.25 231.09L283.50 230.79L283.75 230.95L284.00 231.57L284.25 232.63L284.50 234.08L284.75 235.87L285.00 237.93L285.25 240.19L285.50 242.55L285.75 244.93L286.00 247.23L286.25 249.37L286.50 251.27L286.75 252.84L287.00 254.05L287.25 254.83L287.50 255.17L287.75 255.07L288.00 254.52L288.25 253.56L288.50 252.24L288.75 250.61L289.00 248.74L289.25 246.72L289.50 244.64L289.75 242.58L290.00 240.63L290.25 238.88L290.50 237.40L290.75 236.26L291.00 235.51L291.25 235.19L291.50 235.30L291.75 235.86L292.00 236.85L292.25 238.23L292.50 239.95L292.75 241.96L293.00 244.17L293.25 246.50L293.50 248.85L293.75 251.14L294.00 253.28L294.25 255.19L294.50 256.78L294.75 258.01L295.00 258.83L295.25 259.22L295.50 259.16L295.75 258.67L296.00 257.78L296.25 256.53L296.50 254.98L296.75 253.21L297.00 251.30L297.25 249.32L297.50 247.37L297.75 245.53L298.00 243.87L298.25 242.47L298.50 241.37L298.75 240.63L299.00 240.28L299.25 240.31L299.50 240.75L299.75 241.55L300.00 242.71L300.25 244.17L300.50 245.88L300.75 247.80L301.00 249.83L301.25 251.94L301.50 254.03L301.75 256.04L302.00 257.91L302.25 259.59L302.50 261.01L302.75 262.14L303.00 262.94L303.25 263.40L303.50 263.50L303.75 263.25L304.00 262.67L304.25 261.78L304.50 260.61L304.75 259.21L305.00 257.64L305.25 255.95L305.50 254.21L305.75 252.47L306.00 250.80L306.25 249.26L306.50 247.91L306.75 246.80L307.00 245.97L307.25 245.46L307.50 245.29L307.75 245.46L308.00 245.98L308.25 246.84L308.50 248.01L308.75 249.44L309.00 251.11L309.25 252.95L309.50 254.89L309.75 256.88L310.00 258.85L310.25 260.73L310.50 262.46L310.75 263.98L311.00 265.24L311.25 266.20L311.50 266.84L311.75 267.13L312.00 267.07L312.25 266.67L312.50 265.95L312.75 264.93L313.00 263.67L313.25 262.20L313.50 260.59L313.75 258.89L314.00 257.18L314.25 255.50L314.50 253.92L314.75 252.50L315.00 251.29L315.25 250.32L315.50 249.63L315.75 249.25L316.00 249.17L316.25 249.42L316.50 249.96L316.75 250.79L317.00 251.88L317.25 253.19L317.50 254.68L317.75 256.30L318.00 258.00L318.25 259.74L318.50 261.45L318.75 263.08L319.00 264.59L319.25 265.94L319.50 267.07L319.75 267.97L320.00 268.61L320.25 268.96L320.50 269.03L320.75 268.81L321.00 268.31L321.25 267.54L321.50 266.55L321.75 265.34L322.00 263.97L322.25 262.47L322.50 260.90L322.75 259.29L323.00 257.70L323.25 256.18L323.50 254.77L323.75 253.52L324.00 252.46L324.25 251.63L324.50 251.05L324.75 250.75L325.00 250.72L325.25 250.98L325.50 251.51L325.75 252.29L326.00 253.31L326.25 254.52L326.50 255.89L326.75 257.38L327.00 258.94L327.25 260.52L327.50 262.06L327.75 263.53L328.00 264.88L328.25 266.06L328.50 267.03L328.75 267.77L329.00 268.25L329.25 268.46L329.50 268.39L329.75 268.03L330.00 267.41L330.25 266.53L330.50 265.43L330.75 264.14L331.00 262.70L331.25 261.14L331.50 259.52L331.75 257.89L332.00 256.30L332.25 254.78L332.50 253.40L332.75 252.18L333.00 251.17L333.25 250.39L333.50 249.86L333.75 249.61L334.00 249.63L334.25 249.93L334.50 250.48L334.75 251.28L335.00 252.29L335.25 253.48L335.50 254.80L335.75 256.23L336.00 257.71L336.25 259.18L336.50 260.61L336.75 261.95L337.00 263.15L337.25 264.17L337.50 264.98L337.75 265.55L338.00 265.86L338.25 265.91L338.50 265.67L338.75 265.17L339.00 264.41L339.25 263.42L339.50 262.22L339.75 260.85L340.00 259.34L340.25 257.74L340.50 256.11L340.75 254.48L341.00 252.90L341.25 251.42L341.50 250.08L341.75 248.92L342.00 247.98L342.25 247.27L342.50 246.82L342.75 246.64L343.00 246.73L343.25 247.07L343.50 247.67L343.75 248.50L344.00 249.52L344.25 250.70L344.50 252.00L344.75 253.38L345.00 254.79L345.25 256.19L345.50 257.51L345.75 258.73L346.00 259.79L346.25 260.67L346.50 261.32L346.75 261.73L347.00 261.88L347.25 261.75L347.50 261.36L347.75 260.71L348.00 259.81L348.25 258.69L348.50 257.38L348.75 255.91L349.00 254.32L349.25 252.67L349.50 250.99L349.75 249.33L350.00 247.74L350.25 246.27L350.50 244.94L350.75 243.81L351.00 242.90L351.25 242.22L351.50 241.81L351.75 241.66L352.00 241.77L352.25 242.14L352.50 242.76L352.75 243.59L353.00 244.62L353.25 245.79L353.50 247.07L353.75 248.41L354.00 249.77L354.25 251.07L354.50 252.29L354.75 253.37L355.00 254.28L355.25 254.96L355.50 255.41L355.75 255.59L356.00 255.50L356.25 255.13L356.50 254.50L356.75 253.62L357.00 252.51L357.25 251.21L357.50 249.76L357.75 248.19L358.00 246.56L358.25 244.90L358.50 243.27L358.75 241.70L359.00 240.24L359.25 238.93L359.50 237.79L359.75 236.85L360.00 236.12L360.25 235.62L360.50 235.35L360.75 235.29L361.00 235.46L361.25 235.82L361.50 236.37L361.75 237.08L362.00 237.93L362.25 238.89L362.50 239.93L362.75 241.03L363.00 242.16L363.25 243.28L363.50 244.37L363.75 245.40L364.00 246.34L364.25 247.18L364.50 247.90L364.75 248.47L365.00 248.88L365.25 249.12L365.50 249.19L365.75 249.08L366.00 248.79L366.25 248.32L366.50 247.68L366.75 246.88L367.00 245.93L367.25 244.85L367.50 243.66L367.75 242.38L368.00 241.02L368.25 239.62L368.50 238.20L368.75 236.79L369.00 235.41L369.25 234.10L369.50 232.87L369.75 231.76L370.00 230.78L370.25 229.96L370.50 229.31L370.75 228.86L371.00 228.61L371.25 228.56L371.50 228.73L371.75 229.10L372.00 229.67L372.25 230.42L372.50 231.33L372.75 232.37L373.00 233.53L373.25 234.76L373.50 236.04L373.75 237.33L374.00 238.59L374.25 239.79L374.50 240.90L374.75 241.88L375.00 242.70L375.25 243.35L375.50 243.79L375.75 244.02L376.00 244.02L376.25 243.79L376.50 243.34L376.75 242.66L377.00 241.79L377.25 240.72L377.50 239.49L377.75 238.14L378.00 236.68L378.25 235.16L378.50 233.60L378.75 232.06L379.00 230.57L379.25 229.16L379.50 227.86L379.75 226.72L380.00 225.75L380.25 224.98L380.50 224.42L380.75 224.09L381.00 223.99L381.25 224.12L381.50 224.49L381.75 225.08L382.00 225.87L382.25 226.84L382.50 227.97L382.75 229.24L383.00 230.60L383.25 232.02L383.50 233.46L383.75 234.90L384.00 236.28L384.25 237.57L384.50 238.75L384.75 239.77L385.00 240.62L385.25 241.27L385.50 241.70L385.75 241.91L386.00 241.88L386.25 241.61L386.50 241.13L386.75 240.42L387.00 239.52L387.25 238.45L387.50 237.23L387.75 235.89L388.00 234.47L388.25 233.01L388.50 231.53L388.75 230.07L389.00 228.67L389.25 227.37L389.50 226.19L389.75 225.16L390.00 224.31L390.25 223.65L390.50 223.20L390.75 222.97L391.00 222.96L391.25 223.18L391.50 223.60L391.75 224.23L392.00 225.05L392.25 226.03L392.50 227.15L392.75 228.39L393.00 229.72L393.25 231.11L393.50 232.54L393.75 233.96L394.00 235.35L394.25 236.69L394.50 237.94L394.75 239.07L395.00 240.07L395.25 240.92L395.50 241.58L395.75 242.06L396.00 242.33L396.25 242.41L396.50 242.27L396.75 241.94L397.00 241.42L397.25 240.71L397.50 239.84L397.75 238.82L398.00 237.67L398.25 236.42L398.50 235.09L398.75 233.72L399.00 232.34L399.25 230.97L399.50 229.64L399.75 228.39L400.00 227.24L400.25 226.22L400.50 225.36L400.75 224.67L401.00 224.18L401.25 223.90L401.50 223.83L401.75 223.99L402.00 224.37L402.25 224.97L402.50 225.78L402.75 226.78L403.00 227.95L403.25 229.26L403.50 230.69L403.75 232.21L404.00 233.78L404.25 235.36L404.50 236.92L404.75 238.42L405.00 239.84L405.25 241.13L405.50 242.27L405.75 243.23L406.00 243.99L406.25 244.54L406.50 244.86L406.75 244.96L407.00 244.84L407.25 244.49L407.50 243.94L407.75 243.21L408.00 242.31L408.25 241.29L408.50 240.16L408.75 238.96L409.00 237.73L409.25 236.51L409.50 235.32L409.75 234.21L410.00 233.22L410.25 232.36L410.50 231.67L410.75 231.16L411.00 230.86L411.25 230.78L411.50 230.92L411.75 231.29L412.00 231.88L412.25 232.69L412.50 233.71L412.75 234.92L413.00 236.30L413.25 237.82L413.50 239.46L413.75 241.17L414.00 242.91L414.25 244.67L414.50 246.39L414.75 248.04L415.00 249.58L415.25 251.00L415.50 252.25L415.75 253.32L416.00 254.19L416.25 254.84L416.50 255.27L416.75 255.47L417.00 255.45L417.25 255.22L417.50 254.78L417.75 254.16L418.00 253.38L418.25 252.47L418.50 251.45L418.75 250.36L419.00 249.22L419.25 248.08L419.50 246.96L419.75 245.89L420.00 244.91L420.25 244.04L420.50 243.32L420.75 242.76L421.00 242.39L421.25 242.22L421.50 242.24L421.75 242.46L422.00 242.89L422.25 243.51L422.50 244.31L422.75 245.29L423.00 246.41L423.25 247.67L423.50 249.03L423.75 250.47L424.00 251.97L424.25 253.48L424.50 254.99L424.75 256.46L425.00 257.86L425.25 259.17L425.50 260.37L425.75 261.42L426.00 262.33L426.25 263.06L426.50 263.61L426.75 263.98L427.00 264.17L427.25 264.16L427.50 263.98L427.75 263.64L428.00 263.13L428.25 262.49L428.50 261.73L428.75 260.88L429.00 259.94L429.25 258.96L429.50 257.95L429.75 256.93L430.00 255.94L430.25 254.99L430.50 254.11L430.75 253.31L431.00 252.61L431.25 252.03L431.50 251.57L431.75 251.25L432.00 251.07L432.25 251.04L432.50 251.15L432.75 251.40L433.00 251.78L433.25 252.30L433.50 252.93L433.75 253.67L434.00 254.51L434.25 255.43L434.50 256.42L434.75 257.46L435.00 258.54L435.25 259.65L435.50 260.77L435.75 261.88L436.00 262.98L436.25 264.05L436.50 265.07L436.75 266.04L437.00 266.95L437.25 267.78L437.50 268.52L437.75 269.18L438.00 269.74L438.25 270.20L438.50 270.55L438.75 270.80L439.00 270.94L439.25 270.97L439.50 270.89L439.75 270.71L440.00 270.43L440.25 270.06L440.50 269.60L440.75 269.05L441.00 268.44L441.25 267.75L441.50 267.02L441.75 266.23L442.00 265.42L442.25 264.58L442.50 263.73L442.75 262.88L443.00 262.05L443.25 261.24L443.50 260.47L443.75 259.75L444.00 259.09L444.25 258.50L444.50 258.00L444.75 257.58L445.00 257.27L445.25 257.06L445.50 256.96L445.75 256.98L446.00 257.12L446.25 257.37L446.50 257.73L446.75 258.21L447.00 258.78L447.25 259.45L447.50 260.20L447.75 261.02L448.00 261.90L448.25 262.81L448.50 263.74L448.75 264.68L449.00 265.60L449.25 266.50L449.50 267.34L449.75 268.11L450.00 268.80L450.25 269.39L450.50 269.86L450.75 270.22L451.00 270.44L451.25 270.52L451.50 270.46L451.75 270.25L452.00 269.89L452.25 269.40L452.50 268.77L452.75 268.02L453.00 267.16L453.25 266.19L453.50 265.14L453.75 264.03L454.00 262.86L454.25 261.67L454.50 260.46L454.75 259.26L455.00 258.08L455.25 256.95L455.50 255.88L455.75 254.89L456.00 253.98L456.25 253.18L456.50 252.49L456.75 251.92L457.00 251.48L457.25 251.16L457.50 250.96L457.75 250.90L458.00 250.95L458.25 251.13L458.50 251.42L458.75 251.81L459.00 252.30L459.25 252.87L459.50 253.51L459.75 254.20L460.00 254.92L460.25 255.67L460.50 256.42L460.75 257.16L461.00 257.88L461.25 258.54L461.50 259.15L461.75 259.68L462.00 260.12L462.25 260.47L462.50 260.70L462.75 260.82L463.00 260.82L463.25 260.68L463.50 260.42L463.75 260.03L464.00 259.51L464.25 258.87L464.50 258.10L464.75 257.23L465.00 256.26L465.25 255.20L465.50 254.07L465.75 252.87L466.00 251.62L466.25 250.34L466.50 249.04L466.75 247.73L467.00 246.45L467.25 245.19L467.50 243.97L467.75 242.81L468.00 241.72L468.25 240.71L468.50 239.80L468.75 238.99L469.00 238.28L469.25 237.69L469.50 237.22L469.75 236.87L470.00 236.63L470.25 236.52L470.50 236.51L470.75 236.62L471.00 236.82L471.25 237.12L471.50 237.50L471.75 237.96L472.00 238.48L472.25 239.05L472.50 239.65L472.75 240.29L473.00 240.94L473.25 241.59L473.50 242.23L473.75 242.85L474.00 243.44L474.25 243.98L474.50 244.46L474.75 244.88L475.00 245.23L475.25 245.49L475.50 245.67L475.75 245.74L476.00 245.72L476.25 245.60L476.50 245.37L476.75 245.03L477.00 244.59L477.25 244.04L477.50 243.40L477.75 242.65L478.00 241.81L478.25 240.89L478.50 239.89L478.75 238.83L479.00 237.70L479.25 236.52L479.50 235.31L479.75 234.07L480.00 232.82L480.25 231.57L480.50 230.34L480.75 229.13L481.00 227.95L481.25 226.83L481.50 225.78L481.75 224.80L482.00 223.90L482.25 223.10L482.50 222.41L482.75 221.83L483.00 221.37L483.25 221.04L483.50 220.83L483.75 220.76L484.00 220.81L484.25 221.00L484.50 221.30L484.75 221.73L485.00 222.27L485.25 222.90L485.50 223.62L485.75 224.41L486.00 225.26L486.25 226.14L486.50 227.04L486.75 227.94L487.00 228.81L487.25 229.65L487.50 230.43L487.75 231.14L488.00 231.75L488.25 232.25L488.50 232.64L488.75 232.89L489.00 233.00L489.25 232.98L489.50 232.80L489.75 232.48L490.00 232.02L490.25 231.42L490.50 230.69L490.75 229.85L491.00 228.90L491.25 227.86L491.50 226.75L491.75 225.59L492.00 224.39L492.25 223.17L492.50 221.95L492.75 220.76L493.00 219.60L493.25 218.50L493.50 217.46L493.75 216.52L494.00 215.67L494.25 214.93L494.50 214.30L494.75 213.80L495.00 213.42L495.25 213.17L495.50 213.05L495.75 213.05L496.00 213.17L496.25 213.41L496.50 213.77L496.75 214.23L497.00 214.78L497.25 215.42L497.50 216.14L497.75 216.93L498.00 217.77L498.25 218.66L498.50 219.58L498.75 220.52L499.00 221.47L499.25 222.42L499.50 223.36L499.75 224.27L500.00 225.14L500.25 225.97L500.50 226.75L500.75 227.47L501.00 228.11L501.25 228.68L501.50 229.17L501.75 229.57L502.00 229.88L502.25 230.10L502.50 230.23L502.75 230.26L503.00 230.20L503.25 230.05L503.50 229.81L503.75 229.49L504.00 229.09L504.25 228.62L504.50 228.08L504.75 227.48L505.00 226.83L505.25 226.14L505.50 225.41L505.75 224.66L506.00 223.90L506.25 223.13L506.50 222.37L506.75 221.63L507.00 220.91L507.25 220.23L507.50 219.60L507.75 219.02L508.00 218.51L508.25 218.07L508.50 217.72L508.75 217.45L509.00 217.27L509.25 217.19L509.50 217.22L509.75 217.35L510.00 217.59L510.25 217.93L510.50 218.38L510.75 218.93L511.00 219.59L511.25 220.33L511.50 221.17L511.75 222.08L512.00 223.06L512.25 224.11L512.50 225.21L512.75 226.34L513.00 227.51L513.25 228.69L513.50 229.88L513.75 231.05L514.00 232.21L514.25 233.34L514.50 234.42L514.75 235.45L515.00 236.42L515.25 237.31L515.50 238.13L515.75 238.85L516.00 239.49L516.25 240.02L516.50 240.46L516.75 240.79L517.00 241.02L517.25 241.15L517.50 241.18L517.75 241.11L518.00 240.96L518.25 240.72L518.50 240.41L518.75 240.03L519.00 239.59L519.25 239.11L519.50 238.59L519.75 238.04L520.00 237.48L520.25 236.91L520.50 236.36L520.75 235.82L521.00 235.32L521.25 234.85L521.50 234.44L521.75 234.09L522.00 233.81L522.25 233.60L522.50 233.48L522.75 233.44L523.00 233.50L523.25 233.65L523.50 233.90L523.75 234.24L524.00 234.68L524.25 235.22L524.50 235.84L524.75 236.56L525.00 237.35L525.25 238.23L525.50 239.17L525.75 240.18L526.00 241.24L526.25 242.36L526.50 243.51L526.75 244.69L527.00 245.89L527.25 247.10L527.50 248.31L527.75 249.51L528.00 250.70L528.25 251.86L528.50 252.98L528.75 254.06L529.00 255.08L529.25 256.05L529.50 256.95L529.75 257.79L530.00 258.55L530.25 259.22L530.50 259.82L530.75 260.34L531.00 260.76L531.25 261.11L531.50 261.37L531.75 261.54L532.00 261.64L532.25 261.65L532.50 261.60L532.75 261.48L533.00 261.29L533.25 261.05L533.50 260.76L533.75 260.43L534.00 260.06L534.25 259.67L534.50 259.26L534.75 258.84L535.00 258.43L535.25 258.02L535.50 257.62L535.75 257.25L536.00 256.92L536.25 256.62L536.50 256.37L536.75 256.18L537.00 256.04L537.25 255.97L537.50 255.97L537.75 256.05L538.00 256.20L538.25 256.43L538.50 256.74L538.75 257.14L539.00 257.61L539.25 258.16L539.50 258.80L539.75 259.51L540.00 260.29L540.25 261.13L540.50 262.04L540.75 263.01L541.00 264.02L541.25 265.08L541.50 266.16L541.75 267.27L542.00 268.39L542.25 269.52L542.50 270.64L542.75 271.75L543.00 272.83L543.25 273.88L543.50 274.89L543.75 275.85L544.00 276.75L544.25 277.58L544.50 278.34L544.75 279.03L545.00 279.63L545.25 280.14L545.50 280.57L545.75 280.91L546.00 281.16L546.25 281.31L546.50 281.38L546.75 281.36L547.00 281.26L547.25 281.08L547.50 280.83L547.75 280.51L548.00 280.14L548.25 279.70L548.50 279.23L548.75 278.71L549.00 278.17L549.25 277.60L549.50 277.02L549.75 276.44L550.00 275.87L550.25 275.30L550.50 274.76L550.75 274.24L551.00 273.76L551.25 273.32L551.50 272.93L551.75 272.58L552.00 272.29L552.25 272.07L552.50 271.90L552.75 271.79L553.00 271.76L553.25 271.78L553.50 271.87L553.75 272.03L554.00 272.25L554.25 272.53L554.50 272.86L554.75 273.26L555.00 273.70L555.25 274.19L555.50 274.72L555.75 275.30L556.00 275.91L556.25 276.55L556.50 277.21L556.75 277.90L557.00 278.60L557.25 279.32L557.50 280.04L557.75 280.76L558.00 281.48L558.25 282.20L558.50 282.90L558.75 283.58L559.00 284.24L559.25 284.88L559.50 285.49L559.75 286.07L560.00 286.61L560.25 287.12L560.50 287.58L560.75 288.00L561.00 288.37L561.25 288.69L561.50 288.96L561.75 289.17L562.00 289.34L562.25 289.44L562.50 289.50L562.75 289.49L563.00 289.43L563.25 289.31L563.50 289.13L563.75 288.90L564.00 288.62L564.25 288.28L564.50 287.89L564.75 287.44L565.00 286.95L565.25 286.41L565.50 285.83L565.75 285.21L566.00 284.55L566.25 283.86L566.50 283.13L566.75 282.38L567.00 281.61L567.25 280.82L567.50 280.01L567.75 279.19L568.00 278.37L568.25 277.55L568.50 276.74L568.75 275.93L569.00 275.14L569.25 274.37L569.50 273.62L569.75 272.91L570.00 272.23L570.25 271.59L570.50 270.99L570.75 270.45L571.00 269.95L571.25 269.52L571.50 269.15L571.75 268.84L572.00 268.59L572.25 268.42L572.50 268.32L572.75 268.29L573.00 268.33L573.25 268.44L573.50 268.63L573.75 268.88L574.00 269.19L574.25 269.57L574.50 270.00L574.75 270.49L575.00 271.01L575.25 271.57L575.50 272.16L575.75 272.77L576.00 273.39L576.25 274.01L576.50 274.63L576.75 275.22L577.00 275.79L577.25 276.32L577.50 276.80L577.75 277.22L578.00 277.58L578.25 277.87L578.50 278.08L578.75 278.20L579.00 278.22L579.25 278.15L579.50 277.98L579.75 277.71L580.00 277.33L580.25 276.86L580.50 276.27L580.75 275.59L581.00 274.82L581.25 273.95L581.50 273.00L581.75 271.97L582.00 270.87L582.25 269.70L582.50 268.49L582.75 267.23L583.00 265.94L583.25 264.63L583.50 263.31L583.75 261.98L584.00 260.67L584.25 259.38L584.50 258.11L584.75 256.89L585.00 255.71L585.25 254.58L585.50 253.52L585.75 252.53L586.00 251.61L586.25 250.77L586.50 250.01L586.75 249.34L587.00 248.75L587.25 248.24L587.50 247.82L587.75 247.48L588.00 247.23L588.25 247.05L588.50 246.95L588.75 246.93L589.00 246.97L589.25 247.08L589.50 247.24L589.75 247.46L590.00 247.72L590.25 248.03L590.50 248.37L590.75 248.73L591.00 249.12L591.25 249.51L591.50 249.91L591.75 250.31L592.00 250.70L592.25 251.07L592.50 251.42L592.75 251.74L593.00 252.02L593.25 252.26L593.50 252.46L593.75 252.59L594.00 252.67L594.25 252.69L594.50 252.64L594.75 252.52L595.00 252.32L595.25 252.05L595.50 251.71L595.75 251.28L596.00 250.77L596.25 250.18L596.50 249.52L596.75 248.77L597.00 247.95L597.25 247.06L597.50 246.09L597.75 245.06L598.00 243.96L598.25 242.81L598.50 241.59L598.75 240.34L599.00 239.03L599.25 237.69L599.50 236.33L599.75 234.93L600.00 233.53L600.25 232.11L600.50 230.70L600.75 229.29L601.00 227.90L601.25 226.54L601.50 225.20L601.75 223.90L602.00 222.65L602.25 221.46L602.50 220.32L602.75 219.25L603.00 218.26L603.25 217.34L603.50 216.51L603.75 215.77L604.00 215.12L604.25 214.58L604.50 214.13L604.75 213.79L605.00 213.54L605.25 213.41L605.50 213.37L605.75 213.44L606.00 213.60L606.25 213.86L606.50 214.20L606.75 214.63L607.00 215.13L607.25 215.70L607.50 216.33L607.75 217.01L608.00 217.73L608.25 218.47L608.50 219.24L608.75 220.01L609.00 220.78L609.25 221.54L609.50 222.26L609.75 222.95L610.00 223.59L610.25 224.17L610.50 224.69L610.75 225.13L611.00 225.48L611.25 225.74L611.50 225.91L611.75 225.97L612.00 225.93L612.25 225.78L612.50 225.52L612.75 225.15L613.00 224.67L613.25 224.09L613.50 223.41L613.75 222.64L614.00 221.78L614.25 220.84L614.50 219.82L614.75 218.75L615.00 217.62L615.25 216.46L615.50 215.26L615.75 214.05L616.00 212.84L616.25 211.63L616.50 210.45L616.75 209.30L617.00 208.20L617.25 207.16L617.50 206.19L617.75 205.30L618.00 204.49L618.25 203.79L618.50 203.19L618.75 202.70L619.00 202.33L619.25 202.08L619.50 201.96L619.75 201.96L620.00 202.09L620.25 202.35L620.50 202.73L620.75 203.23L621.00 203.84L621.25 204.58L621.50 205.42L621.75 206.36L622.00 207.40L622.25 208.52L622.50 209.72L622.75 210.99L623.00 212.31L623.25 213.68L623.50 215.08L623.75 216.51L624.00 217.95L624.25 219.38L624.50 220.81L624.75 222.21L625.00 223.58L625.25 224.91L625.50 226.18L625.75 227.38L626.00 228.52L626.25 229.57L626.50 230.54L626.75 231.42L627.00 232.20L627.25 232.88L627.50 233.45L627.75 233.93L628.00 234.29L628.25 234.55L628.50 234.70L628.75 234.75L629.00 234.70L629.25 234.58L629.50 234.39L629.75 234.15L630.00 233.87L630.25 233.55L630.50 233.21L630.75 232.86L631.00 232.49L631.25 232.10L631.50 231.69L631.75 231.28L632.00 230.86L632.25 230.43L632.50 230.01L632.75 229.60L633.00 229.19L633.25 228.80L633.50 228.42L633.75 228.07L634.00 227.74L634.25 227.44L634.50 227.18L634.75 226.95L635.00 226.77L635.25 226.63L635.50 226.54L635.75 226.50L636.00 226.51L636.25 226.57L636.50 226.68L636.75 226.88L637.00 227.15L637.25 227.49L637.50 227.92L637.75 228.42L638.00 229.00L638.25 229.74L638.50 230.57L638.75 231.50L639.00 232.51L639.25 233.60L639.50 234.76L639.75 236.00L640.00 237.31L640.25 238.68L640.50 240.10L640.75 241.58L641.00 243.09L641.25 244.65L641.50 246.24L641.75 247.85L642.00 249.49L642.25 251.13L642.50 252.78L642.75 254.43L643.00 256.07L643.25 257.70L643.50 259.30L643.75 260.88L644.00 262.42L644.25 263.92L644.50 265.38L644.75 266.78L645.00 268.12L645.25 269.40L645.50 270.61L645.75 271.75L646.00 272.81L646.25 273.78L646.50 274.67L646.75 275.47L647.00 276.17L647.25 276.78L647.50 277.29L647.75 277.69L648.00 278.00L648.25 278.20L648.50 278.29L648.75 278.29L649.00 278.25L649.25 278.16L649.50 278.04L649.75 277.88L650.00 277.68L650.25 277.46L650.50 277.20L650.75 276.92L651.00 276.61L651.25 276.29L651.50 275.95L651.75 275.60L652.00 275.25L652.25 274.90L652.50 274.55L652.75 274.21L653.00 273.89L653.25 273.58L653.50 273.30L653.75 273.04L654.00 272.82L654.25 272.62L654.50 272.46L654.75 272.34L655.00 272.25L655.25 272.21L655.50 272.21L655.75 272.28L656.00 272.44L656.25 272.68L656.50 272.99L656.75 273.39L657.00 273.87L657.25 274.42L657.50 275.04L657.75 275.74L658.00 276.50L658.25 277.33L658.50 278.21L658.75 279.16L659.00 280.16L659.25 281.20L659.50 282.29L659.75 283.42L660.00 284.58L660.25 285.78L660.50 286.99L660.75 288.23L661.00 289.48L661.25 290.74L661.50 292.01L661.75 293.27L662.00 294.52L662.25 295.76L662.50 296.98L662.75 298.18L663.00 299.35L663.25 300.49L663.50 301.58L663.75 302.64L664.00 303.65L664.25 304.60L664.50 305.50L664.75 306.34L665.00 307.11L665.25 307.82L665.50 308.46L665.75 309.03L666.00 309.52L666.25 309.93L666.50 310.27L666.75 310.52L667.00 310.69L667.25 310.79L667.50 310.79L667.75 310.74L668.00 310.62L668.25 310.44L668.50 310.20L668.75 309.89L669.00 309.54L669.25 309.12L669.50 308.66L669.75 308.15L670.00 307.59L670.25 307.00L670.50 306.36L670.75 305.70L671.00 305.00L671.25 304.29L671.50 303.55L671.75 302.81L672.00 302.05L672.25 301.30L672.50 300.54L672.75 299.80L673.00 299.07L673.25 298.36L673.50 297.67L673.75 297.01L674.00 296.38L674.25 295.79L674.50 295.24L674.75 294.74L675.00 294.29L675.25 293.89L675.50 293.54L675.75 293.25L676.00 293.02L676.25 292.85L676.50 292.75L676.75 292.70L677.00 292.71L677.25 292.73L677.50 292.77L677.75 292.83L678.00 292.91L678.25 293.00L678.50 293.11L678.75 293.23L679.00 293.37L679.25 293.52L679.50 293.69L679.75 293.86L680.00 294.04L680.25 294.23L680.50 294.42L680.75 294.62L681.00 294.82L681.25 295.02L681.50 295.22L681.75 295.42L682.00 295.61L682.25 295.80L682.50 295.98L682.75 296.15L683.00 296.31L683.25 296.46L683.50 296.59L683.75 296.71L684.00 296.82L684.25 296.91L684.50 296.98L684.75 297.04L685.00 297.08L685.25 297.10L685.50 297.09L685.75 296.98L686.00 296.76L686.25 296.41L686.50 295.95L686.75 295.38L687.00 294.69L687.25 293.89L687.50 292.99L687.75 291.98L688.00 290.88L688.25 289.69L688.50 288.41L688.75 287.04L689.00 285.60L689.25 284.09L689.50 282.51L689.75 280.88L690.00 279.20L690.25 277.47L690.50 275.71L690.75 273.92L691.00 272.12L691.25 270.30L691.50 268.47L691.75 266.65L692.00 264.84L692.25 263.04L692.50 261.28L692.75 259.54L693.00 257.85L693.25 256.21L693.50 254.62L693.75 253.10L694.00 251.64L694.25 250.26L694.50 248.96L694.75 247.75L695.00 246.63L695.25 245.60L695.50 244.68L695.75 243.86L696.00 243.15L696.25 242.55L696.50 242.07L696.75 241.70L697.00 241.45L697.25 241.32L697.50 241.30L697.75 241.33L698.00 241.39L698.25 241.48L698.50 241.60L698.75 241.74L699.00 241.90L699.25 242.09L699.50 242.28L699.75 242.48L700.00 242.69L700.25 242.90L700.50 243.10L700.75 243.29L701.00 243.46L701.25 243.62L701.50 243.75L701.75 243.86L702.00 243.94L702.25 243.98L702.50 244.00L702.75 243.95L703.00 243.80L703.25 243.55L703.50 243.20L703.75 242.76L704.00 242.21L704.25 241.58L704.50 240.85L704.75 240.02L705.00 239.11L705.25 238.12L705.50 237.04L705.75 235.88L706.00 234.64L706.25 233.33L706.50 231.96L706.75 230.51L707.00 229.01L707.25 227.45L707.50 225.83L707.75 224.17L708.00 222.47L708.25 220.73L708.50 218.95L708.75 217.15L709.00 215.33L709.25 213.49L709.50 211.63L709.75 209.77L710.00 207.91L710.25 206.05L710.50 204.21L710.75 202.38L711.00 200.56L711.25 198.78L711.50 197.02L711.75 195.30L712.00 193.63L712.25 191.99L712.50 190.41L712.75 188.88L713.00 187.41L713.25 186.01L713.50 184.67L713.75 183.41L714.00 182.22L714.25 181.10L714.50 180.08L714.75 179.13L715.00 178.27L715.25 177.51L715.50 176.83L715.75 176.25L716.00 175.76L716.25 175.38L716.50 175.09L716.75 174.90L717.00 174.81L717.25 174.82L717.50 174.91L717.75 175.10L718.00 175.37L718.25 175.73L718.50 176.17L718.75 176.68L719.00 177.26L719.25 177.90L719.50 178.60L719.75 179.36L720.00 180.15L720.25 180.98L720.50 181.83L720.75 182.70L721.00 183.58L721.25 184.45L721.50 185.31L721.75 186.16L722.00 186.97L722.25 187.75L722.50 188.48L722.75 189.16L723.00 189.78L723.25 190.34L723.50 190.82L723.75 191.22L724.00 191.55L724.25 191.78L724.50 191.94L724.75 192.00L725.00 191.98L725.25 191.88L725.50 191.70L725.75 191.45L726.00 191.13L726.25 190.74L726.50 190.28L726.75 189.75L727.00 189.15L727.25 188.49L727.50 187.78L727.75 187.01L728.00 186.18L728.25 185.31L728.50 184.40L728.75 183.45L729.00 182.46L729.25 181.45L729.50 180.41L729.75 179.35L730.00 178.28L730.25 177.20L730.50 176.12L730.75 175.04L731.00 173.96L731.25 172.90L731.50 171.86L731.75 170.84L732.00 169.85L732.25 168.89L732.50 167.97L732.75 167.09L733.00 166.25L733.25 165.47L733.50 164.75L733.75 164.08L734.00 163.47L734.25 162.92L734.50 162.45L734.75 162.04L735.00 161.70L735.25 161.44L735.50 161.25L735.75 161.14L736.00 161.10L736.25 161.18L736.50 161.40L736.75 161.78L737.00 162.31L737.25 162.99L737.50 163.80L737.75 164.76L738.00 165.85L738.25 167.07L738.50 168.41L738.75 169.87L739.00 171.43L739.25 173.10L739.50 174.86L739.75 176.70L740.00 178.62L740.25 180.60L740.50 182.63L740.75 184.71L741.00 186.83L741.25 188.97L741.50 191.12L741.75 193.27L742.00 195.42L742.25 197.54L742.50 199.64L742.75 201.69L743.00 203.70L743.25 205.64L743.50 207.52L743.75 209.31L744.00 211.01L744.25 212.62L744.50 214.12L744.75 215.51L745.00 216.78L745.25 217.92L745.50 218.93L745.75 219.80L746.00 220.54L746.25 221.12L746.50 221.56L746.75 221.85L747.00 221.99L747.25 222.00L747.50 222.00L747.75 221.99L748.00 221.98L748.25 221.97L748.50 221.96L748.75 221.94L749.00 221.92L749.25 221.90L749.50 221.87L749.75 221.85L750.00 221.82L750.25 221.79L750.50 221.75L750.75 221.72L751.00 221.69L751.25 221.65L751.50 221.61L751.75 221.58L752.00 221.54L752.25 221.50L752.50 221.46L752.75 221.42L753.00 221.39L753.25 221.35L753.50 221.31L753.75 221.28L754.00 221.25L754.25 221.21L754.50 221.18L754.75 221.15L755.00 221.13L755.25 221.10L755.50 221.08L755.75 221.06L756.00 221.04L756.25 221.03L756.50 221.02L756.75 221.01L757.00 221.00L757.25 221.00L757.50 221.01L757.75 221.15L758.00 221.45L758.25 221.89L758.50 222.49L758.75 223.24L759.00 224.13L759.25 225.16L759.50 226.33L759.75 227.64L760.00 229.07L760.25 230.62L760.50 232.28L760.75 234.05L761.00 235.92L761.25 237.88L761.50 239.93L761.75 242.04L762.00 244.23L762.25 246.47L762.50 248.75L762.75 251.07L763.00 253.42L763.25 255.78L763.50 258.15L763.75 260.51L764.00 262.86L764.25 265.19L764.50 267.48L764.75 269.73L765.00 271.92L765.25 274.06L765.50 276.11L765.75 278.09L766.00 279.98L766.25 281.77L766.50 283.46L766.75 285.03L767.00 286.49L767.25 287.82L767.50 289.01L767.75 290.07L768.00 291.00L768.25 291.77L768.50 292.40L768.75 292.88L769.00 293.20L769.25 293.37L769.50 293.40L769.75 293.39L770.00 293.36L770.25 293.32L770.50 293.26L770.75 293.19L771.00 293.11L771.25 293.02L771.50 292.91L771.75 292.79L772.00 292.67L772.25 292.53L772.50 292.39L772.75 292.25L773.00 292.09L773.25 291.94L773.50 291.78L773.75 291.62L774.00 291.46L774.25 291.30L774.50 291.15L774.75 291.00L775.00 290.85L775.25 290.71L775.50 290.58L775.75 290.46L776.00 290.35L776.25 290.25L776.50 290.16L776.75 290.08L777.00 290.02L777.25 289.97L777.50 289.93L777.75 289.91L778.00 289.90L778.25 289.94L778.50 290.06L778.75 290.27L779.00 290.55L779.25 290.91L779.50 291.35L779.75 291.86L780.00 292.44L780.25 293.09L780.50 293.81L780.75 294.59L781.00 295.43L781.25 296.32L781.50 297.26L781.75 298.25L782.00 299.28L782.25 300.34L782.50 301.43L782.75 302.54L783.00 303.67L783.25 304.82L783.50 305.97L783.75 307.12L784.00 308.27L784.25 309.41L784.50 310.53L784.75 311.63L785.00 312.70L785.25 313.74L785.50 314.75L785.75 315.71L786.00 316.62L786.25 317.48L786.50 318.28L786.75 319.03L787.00 319.70L787.25 320.32L787.50 320.86L787.75 321.32L788.00 321.72L788.25 322.03L788.50 322.27L788.75 322.42L789.00 322.49L789.25 322.48L789.50 322.37L789.75 322.17L790.00 321.86L790.25 321.46L790.50 320.97L790.75 320.38L791.00 319.70L791.25 318.94L791.50 318.08L791.75 317.15L792.00 316.14L792.25 315.05L792.50 313.89L792.75 312.67L793.00 311.38L793.25 310.03L793.50 308.64L793.75 307.19L794.00 305.70L794.25 304.18L794.50 302.63L794.75 301.05L795.00 299.45L795.25 297.84L795.50 296.22L795.75 294.60L796.00 292.99L796.25 291.39L796.50 289.80L796.75 288.24L797.00 286.70L797.25 285.20L797.50 283.74L797.75 282.32L798.00 280.95L798.25 279.64L798.50 278.39L798.75 277.21L799.00 276.09L799.25 275.05L799.50 274.08L799.75 273.19L800.00 272.39L800.25 271.68L800.50 271.06L800.75 270.52L801.00 270.08L801.25 269.74L801.50 269.50L801.75 269.35L802.00 269.30L802.25 269.30L802.50 269.31L802.75 269.32L803.00 269.34L803.25 269.36L803.50 269.39L803.75 269.42L804.00 269.46L804.25 269.50L804.50 269.54L804.75 269.58L805.00 269.63L805.25 269.68L805.50 269.73L805.75 269.78L806.00 269.83L806.25 269.88L806.50 269.93L806.75 269.98L807.00 270.03L807.25 270.07L807.50 270.11L807.75 270.15L808.00 270.18L808.25 270.22L808.50 270.24L808.75 270.26L809.00 270.28L809.25 270.29L809.50 270.30L809.75 270.30L810.00 270.22L810.25 270.04L810.50 269.75L810.75 269.36L811.00 268.87L811.25 268.26L811.50 267.56L811.75 266.76L812.00 265.86L812.25 264.86L812.50 263.76L812.75 262.58L813.00 261.31L813.25 259.94L813.50 258.50L813.75 256.98L814.00 255.37L814.25 253.70L814.50 251.95L814.75 250.14L815.00 248.27L815.25 246.34L815.50 244.36L815.75 242.33L816.00 240.26L816.25 238.14L816.50 236.00L816.75 233.82L817.00 231.61L817.25 229.39L817.50 227.15L817.75 224.90L818.00 222.65L818.25 220.40L818.50 218.15L818.75 215.91L819.00 213.69L819.25 211.48L819.50 209.30L819.75 207.16L820.00 205.04L820.25 202.97L820.50 200.94L820.75 198.96L821.00 197.03L821.25 195.16L821.50 193.35L821.75 191.60L822.00 189.93L822.25 188.32L822.50 186.80L822.75 185.36L823.00 183.99L823.25 182.72L823.50 181.54L823.75 180.44L824.00 179.44L824.25 178.54L824.50 177.74L824.75 177.04L825.00 176.43L825.25 175.94L825.50 175.55L825.75 175.26L826.00 175.08L826.25 175.00L826.50 175.03L826.75 175.17L827.00 175.40L827.25 175.73L827.50 176.16L827.75 176.66L828.00 177.24L828.25 177.89L828.50 178.59L828.75 179.33L829.00 180.10L829.25 180.89L829.50 181.68L829.75 182.46L830.00 183.22L830.25 183.94L830.50 184.61L830.75 185.21L831.00 185.75L831.25 186.21L831.50 186.58L831.75 186.85L832.00 187.03L832.25 187.10L832.50 187.07L832.75 186.93L833.00 186.68L833.25 186.33L833.50 185.87L833.75 185.31L834.00 184.65L834.25 183.89L834.50 183.04L834.75 182.09L835.00 181.05L835.25 179.92L835.50 178.71L835.75 177.42L836.00 176.05L836.25 174.62L836.50 173.11L836.75 171.55L837.00 169.93L837.25 168.26L837.50 166.54L837.75 164.79L838.00 163.00L838.25 161.18L838.50 159.34L838.75 157.49L839.00 155.62L839.25 153.75L839.50 151.89L839.75 150.03L840.00 148.19L840.25 146.36L840.50 144.57L840.75 142.81L841.00 141.08L841.25 139.40L841.50 137.77L841.75 136.19L842.00 134.68L842.25 133.23L842.50 131.85L842.75 130.54L843.00 129.31L843.25 128.17L843.50 127.11L843.75 126.14L844.00 125.27L844.25 124.49L844.50 123.81L844.75 123.23L845.00 122.75L845.25 122.38L845.50 122.11L845.75 121.95L846.00 121.90L846.25 121.96L846.50 122.16L846.75 122.48L847.00 122.93L847.25 123.51L847.50 124.21L847.75 125.03L848.00 125.98L848.25 127.04L848.50 128.21L848.75 129.49L849.00 130.87L849.25 132.36L849.50 133.94L849.75 135.61L850.00 137.36L850.25 139.20L850.50 141.11L850.75 143.08L851.00 145.11L851.25 147.20L851.50 149.33L851.75 151.50L852.00 153.71L852.25 155.94L852.50 158.19L852.75 160.45L853.00 162.71L853.25 164.96L853.50 167.21L853.75 169.43L854.00 171.63L854.25 173.80L854.50 175.92L854.75 178.00L855.00 180.02L855.25 181.98L855.50 183.87L855.75 185.69L856.00 187.43L856.25 189.08L856.50 190.65L856.75 192.11L857.00 193.48L857.25 194.74L857.50 195.89L857.75 196.92L858.00 197.84L858.25 198.64L858.50 199.32L858.75 199.87L859.00 200.29L859.25 200.59L859.50 200.76L859.75 200.80L860.00 200.71L860.25 200.51L860.50 200.18L860.75 199.74L861.00 199.19L861.25 198.53L861.50 197.77L861.75 196.92L862.00 195.97L862.25 194.95L862.50 193.85L862.75 192.69L863.00 191.48L863.25 190.23L863.50 188.95L863.75 187.65L864.00 186.34L864.25 185.03L864.50 183.73L864.75 182.46L865.00 181.23L865.25 180.04L865.50 178.90L865.75 177.83L866.00 176.84L866.25 175.93L866.50 175.11L866.75 174.39L867.00 173.77L867.25 173.27L867.50 172.87L867.75 172.60L868.00 172.44L868.25 172.40L868.50 172.53L868.75 172.84L869.00 173.32L869.25 173.99L869.50 174.83L869.75 175.84L870.00 177.03L870.25 178.38L870.50 179.90L870.75 181.58L871.00 183.41L871.25 185.39L871.50 187.52L871.75 189.79L872.00 192.19L872.25 194.72L872.50 197.37L872.75 200.13L873.00 202.99L873.25 205.95L873.50 209.00L873.75 212.13L874.00 215.33L874.25 218.59L874.50 221.91L874.75 225.27L875.00 228.67L875.25 232.10L875.50 235.54L875.75 238.99L876.00 242.44L876.25 245.87L876.50 249.29L876.75 252.68L877.00 256.02L877.25 259.32L877.50 262.56L877.75 265.73L878.00 268.83L878.25 271.85L878.50 274.77L878.75 277.59L879.00 280.31L879.25 282.91L879.50 285.38L879.75 287.73L880.00 289.95L880.25 292.02L880.50 293.94L880.75 295.71L881.00 297.33L881.25 298.78L881.50 300.07L881.75 301.18L882.00 302.13L882.25 302.90L882.50 303.49L882.75 303.91L883.00 304.14L883.25 304.20L883.50 304.11L883.75 303.89L884.00 303.55L884.25 303.09L884.50 302.51L884.75 301.81L885.00 301.01L885.25 300.09L885.50 299.08L885.75 297.98L886.00 296.79L886.25 295.52L886.50 294.18L886.75 292.79L887.00 291.34L887.25 289.85L887.50 288.34L887.75 286.80L888.00 285.25L888.25 283.70L888.50 282.16L888.75 280.65L889.00 279.16L889.25 277.71L889.50 276.32L889.75 274.98L890.00 273.71L890.25 272.52L890.50 271.42L890.75 270.41L891.00 269.49L891.25 268.69L891.50 267.99L891.75 267.41L892.00 266.95L892.25 266.61L892.50 266.39L892.75 266.30L893.00 266.36L893.25 266.59L893.50 267.01L893.75 267.60L894.00 268.36L894.25 269.30L894.50 270.41L894.75 271.68L895.00 273.10L895.25 274.68L895.50 276.41L895.75 278.27L896.00 280.27L896.25 282.39L896.50 284.62L896.75 286.95L897.00 289.38L897.25 291.90L897.50 294.49L897.75 297.14L898.00 299.85L898.25 302.59L898.50 305.37L898.75 308.17L899.00 310.97L899.25 313.77L899.50 316.55L899.75 319.31L900.00 322.02L900.25 324.69L900.50 327.29L900.75 329.82L901.00 332.27L901.25 334.62L901.50 336.88L901.75 339.02L902.00 341.04L902.25 342.93L902.50 344.68L902.75 346.29L903.00 347.75L903.25 349.05L903.50 350.19L903.75 351.16L904.00 351.96L904.25 352.59L904.50 353.04L904.75 353.31L905.00 353.40L905.25 353.31L905.50 353.05L905.75 352.62L906.00 352.01L906.25 351.23L906.50 350.29L906.75 349.18L907.00 347.91L907.25 346.48L907.50 344.90L907.75 343.18L908.00 341.31L908.25 339.31L908.50 337.18L908.75 334.93L909.00 332.57L909.25 330.09L909.50 327.53L909.75 324.87L910.00 322.13L910.25 319.32L910.50 316.44L910.75 313.52L911.00 310.54L911.25 307.54L911.50 304.51L911.75 301.47L912.00 298.42L912.25 295.38L912.50 292.36L912.75 289.36L913.00 286.40L913.25 283.48L913.50 280.62L913.75 277.82L914.00 275.09L914.25 272.45L914.50 269.90L914.75 267.45L915.00 265.11L915.25 262.88L915.50 260.78L915.75 258.80L916.00 256.97L916.25 255.27L916.50 253.72L916.75 252.33L917.00 251.09L917.25 250.01L917.50 249.10L917.75 248.36L918.00 247.78L918.25 247.38L918.50 247.16L918.75 247.10L919.00 247.20L919.25 247.43L919.50 247.79L919.75 248.28L920.00 248.90L920.25 249.64L920.50 250.50L920.75 251.48L921.00 252.56L921.25 253.73L921.50 255.00L921.75 256.35L922.00 257.78L922.25 259.27L922.50 260.81L922.75 262.39L923.00 264.01L923.25 265.65L923.50 267.30L923.75 268.95L924.00 270.59L924.25 272.21L924.50 273.79L924.75 275.33L925.00 276.82L925.25 278.25L925.50 279.60L925.75 280.87L926.00 282.04L926.25 283.12L926.50 284.10L926.75 284.96L927.00 285.70L927.25 286.32L927.50 286.81L927.75 287.17L928.00 287.40L928.25 287.50L928.50 287.43L928.75 287.14L929.00 286.62L929.25 285.89L929.50 284.94L929.75 283.77L930.00 282.39L930.25 280.80L930.50 279.00L930.75 277.01L931.00 274.83L931.25 272.46L931.50 269.91L931.75 267.19L932.00 264.30L932.25 261.26L932.50 258.08L932.75 254.76L933.00 251.31L933.25 247.75L933.50 244.08L933.75 240.32L934.00 236.47L934.25 232.55L934.50 228.58L934.75 224.55L935.00 220.49L935.25 216.40L935.50 212.30L935.75 208.20L936.00 204.11L936.25 200.05L936.50 196.02L936.75 192.05L937.00 188.13L937.25 184.28L937.50 180.52L937.75 176.85L938.00 173.29L938.25 169.84L938.50 166.52L938.75 163.34L939.00 160.30L939.25 157.41L939.50 154.69L939.75 152.14L940.00 149.77L940.25 147.59L940.50 145.60L940.75 143.80L941.00 142.21L941.25 140.83L941.50 139.66L941.75 138.71L942.00 137.98L942.25 137.46L942.50 137.17L942.75 137.10L943.00 137.24L943.25 137.57L943.50 138.10L943.75 138.82L944.00 139.72L944.25 140.79L944.50 142.04L944.75 143.46L945.00 145.02L945.25 146.73L945.50 148.57L945.75 150.53L946.00 152.59L946.25 154.74L946.50 156.97L946.75 159.25L947.00 161.59L947.25 163.95L947.50 166.33L947.75 168.70L948.00 171.05L948.25 173.37L948.50 175.63L948.75 177.83L949.00 179.95L949.25 181.97L949.50 183.88L949.75 185.67L950.00 187.32L950.25 188.83L950.50 190.18L950.75 191.36L951.00 192.37L951.25 193.19L951.50 193.83L951.75 194.28L952.00 194.54L952.25 194.60L952.50 194.49L952.75 194.23L953.00 193.82L953.25 193.25L953.50 192.54L953.75 191.68L954.00 190.67L954.25 189.53L954.50 188.25L954.75 186.83L955.00 185.29L955.25 183.62L955.50 181.84L955.75 179.95L956.00 177.95L956.25 175.85L956.50 173.67L956.75 171.40L957.00 169.05L957.25 166.63L957.50 164.16L957.75 161.63L958.00 159.05L958.25 156.45L958.50 153.81L958.75 151.16L959.00 148.50L959.25 145.84L959.50 143.19L959.75 140.55L960.00 137.95L960.25 135.37L960.50 132.84L960.75 130.37L961.00 127.95L961.25 125.60L961.50 123.33L961.75 121.15L962.00 119.05L962.25 117.05L962.50 115.16L962.75 113.38L963.00 111.71L963.25 110.17L963.50 108.75L963.75 107.47L964.00 106.33L964.25 105.32L964.50 104.46L964.75 103.75L965.00 103.18L965.25 102.77L965.50 102.51L965.75 102.40L966.00 102.46L966.25 102.71L966.50 103.14L966.75 103.77L967.00 104.58L967.25 105.57L967.50 106.74L967.75 108.09L968.00 109.62L968.25 111.31L968.50 113.16L968.75 115.17L969.00 117.34L969.25 119.64L969.50 122.09L969.75 124.66L970.00 127.35L970.25 130.16L970.50 133.08L970.75 136.09L971.00 139.19L971.25 142.36L971.50 145.61L971.75 148.91L972.00 152.26L972.25 155.64L972.50 159.06L972.75 162.49L973.00 165.92L973.25 169.36L973.50 172.78L973.75 176.17L974.00 179.53L974.25 182.84L974.50 186.09L974.75 189.28L975.00 192.40L975.25 195.43L975.50 198.36L975.75 201.19L976.00 203.91L976.25 206.51L976.50 208.98L976.75 211.31L977.00 213.51L977.25 215.55L977.50 217.43L977.75 219.16L978.00 220.71L978.25 222.10L978.50 223.31L978.75 224.34L979.00 225.19L979.25 225.85L979.50 226.32L979.75 226.60L980.00 226.70L980.25 226.61L980.50 226.33L980.75 225.86L981.00 225.22L981.25 224.41L981.50 223.42L981.75 222.28L982.00 221.00L982.25 219.58L982.50 218.04L982.75 216.39L983.00 214.65L983.25 212.83L983.50 210.95L983.75 209.03L984.00 207.08L984.25 205.13L984.50 203.19L984.75 201.27L985.00 199.40L985.25 197.60L985.50 195.88L985.75 194.25L986.00 192.73L986.25 191.33L986.50 190.08L986.75 188.97L987.00 188.02L987.25 187.24L987.50 186.63L987.75 186.20L988.00 185.96L988.25 185.90L988.50 186.05L988.75 186.42L989.00 187.00L989.25 187.79L989.50 188.78L989.75 189.99L990.00 191.40L990.25 193.01L990.50 194.81L990.75 196.80L991.00 198.98L991.25 201.33L991.50 203.85L991.75 206.54L992.00 209.39L992.25 212.38L992.50 215.52L992.75 218.78L993.00 222.17L993.25 225.67L993.50 229.27L993.75 232.97L994.00 236.75L994.25 240.60L994.50 244.51L994.75 248.47L995.00 252.46L995.25 256.49L995.50 260.53L995.75 264.58L996.00 268.62L996.25 272.64L996.50 276.63L996.75 280.58L997.00 284.48L997.25 288.31L997.50 292.08L997.75 295.75L998.00 299.34L998.25 302.82L998.50 306.18L998.75 309.42L999.00 312.53L999.25 315.49L999.50 318.31L999.75 320.96L1000.00 323.45L1000.25 325.77L1000.50 327.91L1000.75 329.87L1001.00 331.63L1001.25 333.20L1001.50 334.57L1001.75 335.73L1002.00 336.69L1002.25 337.44L1002.50 337.97L1002.75 338.29L1003.00 338.40L1003.25 338.31L1003.50 338.03L1003.75 337.56L1004.00 336.91L1004.25 336.09L1004.50 335.09L1004.75 333.92L1005.00 332.59L1005.25 331.11L1005.50 329.48L1005.75 327.72L1006.00 325.83L1006.25 323.82L1006.50 321.71L1006.75 319.51L1007.00 317.23L1007.25 314.88L1007.50 312.48L1007.75 310.04L1008.00 307.58L1008.25 305.10L1008.50 302.63L1008.75 300.18L1009.00 297.75L1009.25 295.37L1009.50 293.05L1009.75 290.80L1010.00 288.63L1010.25 286.56L1010.50 284.60L1010.75 282.76L1011.00 281.05L1011.25 279.48L1011.50 278.06L1011.75 276.79L1012.00 275.69L1012.25 274.76L1012.50 274.00L1012.75 273.43L1013.00 273.04L1013.25 272.83L1013.50 272.82L1013.75 273.00L1014.00 273.38L1014.25 273.95L1014.50 274.73L1014.75 275.70L1015.00 276.85L1015.25 278.19L1015.50 279.71L1015.75 281.40L1016.00 283.26L1016.25 285.27L1016.50 287.43L1016.75 289.74L1017.00 292.17L1017.25 294.73L1017.50 297.40L1017.75 300.17L1018.00 303.03L1018.25 305.96L1018.50 308.96L1018.75 312.02L1019.00 315.11L1019.25 318.23L1019.50 321.37L1019.75 324.51L1020.00 327.64L1020.25 330.75L1020.50 333.82L1020.75 336.84L1021.00 339.81L1021.25 342.70L1021.50 345.50L1021.75 348.21L1022.00 350.82L1022.25 353.30L1022.50 355.66L1022.75 357.88L1023.00 359.96L1023.25 361.88L1023.50 363.63L1023.75 365.22L1024.00 366.63L1024.25 367.86L1024.50 368.91L1024.75 369.76L1025.00 370.42L1025.25 370.88L1025.50 371.14L1025.75 371.20L1026.00 371.09L1026.25 370.83L1026.50 370.42L1026.75 369.86L1027.00 369.15L1027.25 368.29L1027.50 367.29L1027.75 366.14L1028.00 364.85L1028.25 363.42L1028.50 361.86L1028.75 360.17L1029.00 358.34L1029.25 356.40L1029.50 354.33L1029.75 352.15L1030.00 349.86L1030.25 347.46L1030.50 344.96L1030.75 342.36L1031.00 339.68L1031.25 336.91L1031.50 334.07L1031.75 331.15L1032.00 328.17L1032.25 325.13L1032.50 322.04L1032.75 318.91L1033.00 315.74L1033.25 312.53L1033.50 309.30L1033.75 306.06L1034.00 302.80L1034.25 299.55L1034.50 296.29L1034.75 293.05L1035.00 289.82L1035.25 286.63L1035.50 283.46L1035.75 280.33L1036.00 277.25L1036.25 274.23L1036.50 271.26L1036.75 268.36L1037.00 265.53L1037.25 262.78L1037.50 260.11L1037.75 257.54L1038.00 255.06L1038.25 252.68L1038.50 250.41L1038.75 248.25L1039.00 246.20L1039.25 244.28L1039.50 242.48L1039.75 240.81L1040.00 239.28L1040.25 237.88L1040.50 236.62L1040.75 235.50L1041.00 234.52L1041.00 234.52" stroke="#ff0000" stroke-width="3" stroke-dasharray="13.9 3.4 6.8 3.8"/>
</g>
<g class="t" font-size="29"><text transform="translate(144.60 530.6) scale(0.955 1)" text-anchor="middle">0</text><text transform="translate(234.24 530.6) scale(0.955 1)" text-anchor="middle">10</text><text transform="translate(323.88 530.6) scale(0.955 1)" text-anchor="middle">20</text><text transform="translate(413.52 530.6) scale(0.955 1)" text-anchor="middle">30</text><text transform="translate(503.16 530.6) scale(0.955 1)" text-anchor="middle">40</text><text transform="translate(592.80 530.6) scale(0.955 1)" text-anchor="middle">50</text><text transform="translate(682.44 530.6) scale(0.955 1)" text-anchor="middle">60</text><text transform="translate(772.08 530.6) scale(0.955 1)" text-anchor="middle">70</text><text transform="translate(861.72 530.6) scale(0.955 1)" text-anchor="middle">80</text><text transform="translate(951.36 530.6) scale(0.955 1)" text-anchor="middle">90</text><text transform="translate(1041.00 530.6) scale(0.955 1)" text-anchor="middle">100</text><text transform="translate(133.5 37.80) scale(0.935 1)" text-anchor="end">0.01</text><text transform="translate(133.5 154.30) scale(0.935 1)" text-anchor="end">0.005</text><text transform="translate(133.5 270.80) scale(0.935 1)" text-anchor="end">0</text><text transform="translate(133.5 387.30) scale(0.935 1)" text-anchor="end">-0.005</text><text transform="translate(133.5 503.80) scale(0.935 1)" text-anchor="end">-0.01</text></g>
<text x="592.5" y="571.4" font-size="31" text-anchor="middle">t/s</text>
<text transform="translate(37.7 261) rotate(-90)" font-size="31" text-anchor="middle">u<tspan font-size="16.5" dy="14">V</tspan><tspan dy="-14">/V</tspan></text>
<rect x="163.3" y="47" width="253.9" height="66.3" fill="#fff" stroke="#262626" stroke-width="1"/>
<line x1="169.9" y1="65.15" x2="237.9" y2="65.15" stroke="#0000ff" stroke-width="3.2"/>
<line x1="169.9" y1="95.5" x2="237.9" y2="95.5" stroke="#ff0000" stroke-width="3" stroke-dasharray="13.9 3.4 6.8 3.8"/>
<text x="243.7" y="74.5" font-size="24.5">Proposed control</text>
<text x="243.7" y="104.5" font-size="24.5">PID control</text>
</svg>
</body></html>
